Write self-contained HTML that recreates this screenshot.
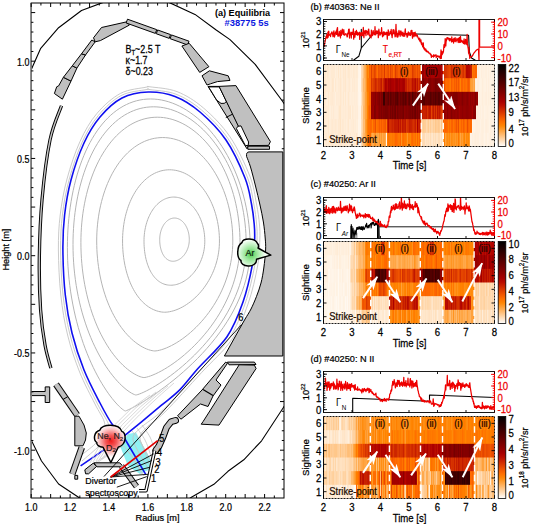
<!DOCTYPE html>
<html><head><meta charset="utf-8"><title>Figure</title>
<style>
html,body{margin:0;padding:0;background:#fff;width:533px;height:524px;overflow:hidden;}
svg{display:block;}
text{font-family:"Liberation Sans",sans-serif;}
</style></head><body>
<svg width="533" height="524" viewBox="0 0 533 524">
<rect width="533" height="524" fill="#fff"/>
<defs>
<clipPath id="cpa"><rect x="31.2" y="3.0" width="252.8" height="495.0"/></clipPath>
<radialGradient id="gne" gradientUnits="userSpaceOnUse" cx="111" cy="441" r="16"><stop offset="0" stop-color="#f01c1c"/><stop offset="0.35" stop-color="#f45a5a"/><stop offset="0.75" stop-color="#fbc8c8"/><stop offset="1" stop-color="#ffffff"/></radialGradient>
<radialGradient id="gar" gradientUnits="userSpaceOnUse" cx="251" cy="254" r="14"><stop offset="0" stop-color="#4ccc4c"/><stop offset="0.45" stop-color="#9ee89e"/><stop offset="1" stop-color="#f6fff6"/></radialGradient>
<linearGradient id="cbar" x1="0" y1="1" x2="0" y2="0">
<stop offset="0" stop-color="#ffffff"/>
<stop offset="0.05" stop-color="#ffe7cd"/>
<stop offset="0.1" stop-color="#ffcf9b"/>
<stop offset="0.15" stop-color="#ffb769"/>
<stop offset="0.2" stop-color="#ff9f37"/>
<stop offset="0.25" stop-color="#ff8705"/>
<stop offset="0.3" stop-color="#ff6f00"/>
<stop offset="0.35" stop-color="#f25700"/>
<stop offset="0.4" stop-color="#df3f00"/>
<stop offset="0.45" stop-color="#cd2700"/>
<stop offset="0.5" stop-color="#ba0e00"/>
<stop offset="0.55" stop-color="#a80000"/>
<stop offset="0.6" stop-color="#950000"/>
<stop offset="0.65" stop-color="#820000"/>
<stop offset="0.7" stop-color="#700000"/>
<stop offset="0.75" stop-color="#5d0000"/>
<stop offset="0.8" stop-color="#4a0000"/>
<stop offset="0.85" stop-color="#380000"/>
<stop offset="0.9" stop-color="#250000"/>
<stop offset="0.95" stop-color="#130000"/>
<stop offset="1" stop-color="#000000"/>
</linearGradient>
<marker id="ah" viewBox="0 0 13 8" refX="12.5" refY="4" markerWidth="14" markerHeight="8.8" markerUnits="userSpaceOnUse" orient="auto"><path d="M0,0L13,4L0,8L3.5,4Z" fill="#fff"/></marker>
</defs>
<g clip-path="url(#cpa)">
<polygon points="120,446 128,434 136,432.5 152,462 150.5,469 140,474 128,466" fill="#8ff0f2"/>
<path d="M189.3,239.65 L189.29,238.8 L189.25,237.95 L189.2,237.11 L189.12,236.27 L189.02,235.43 L188.89,234.61 L188.74,233.78 L188.58,232.97 L188.39,232.17 L188.17,231.38 L187.94,230.6 L187.69,229.84 L187.41,229.09 L187.12,228.36 L186.81,227.65 L186.47,226.95 L186.12,226.27 L185.75,225.62 L185.37,224.98 L184.97,224.37 L184.55,223.78 L184.11,223.22 L183.66,222.68 L183.2,222.17 L182.72,221.68 L182.23,221.23 L181.73,220.8 L181.22,220.4 L180.7,220.03 L180.16,219.69 L179.62,219.38 L179.07,219.1 L178.52,218.85 L177.95,218.64 L177.39,218.46 L176.82,218.31 L176.24,218.19 L175.66,218.11 L175.08,218.06 L174.5,218.04 L173.92,218.06 L173.34,218.11 L172.76,218.19 L172.18,218.31 L171.61,218.46 L171.05,218.64 L170.48,218.85 L169.93,219.1 L169.38,219.38 L168.84,219.69 L168.3,220.03 L167.78,220.4 L167.27,220.8 L166.77,221.23 L166.28,221.68 L165.8,222.17 L165.34,222.68 L164.89,223.22 L164.45,223.78 L164.03,224.37 L163.63,224.98 L163.25,225.62 L162.88,226.27 L162.53,226.95 L162.19,227.65 L161.88,228.36 L161.59,229.09 L161.31,229.84 L161.06,230.6 L160.83,231.38 L160.61,232.17 L160.42,232.97 L160.26,233.78 L160.11,234.61 L159.98,235.43 L159.88,236.27 L159.8,237.11 L159.75,237.95 L159.71,238.8 L159.7,239.65 L159.71,240.5 L159.74,241.35 L159.78,242.19 L159.85,243.03 L159.93,243.87 L160.03,244.69 L160.15,245.52 L160.28,246.33 L160.44,247.13 L160.61,247.92 L160.8,248.7 L161.01,249.46 L161.23,250.21 L161.48,250.94 L161.74,251.65 L162.02,252.35 L162.31,253.03 L162.62,253.68 L162.95,254.32 L163.29,254.93 L163.66,255.52 L164.03,256.08 L164.42,256.62 L164.83,257.13 L165.25,257.62 L165.69,258.07 L166.14,258.5 L166.61,258.9 L167.08,259.27 L167.57,259.61 L168.07,259.92 L168.59,260.2 L169.11,260.45 L169.65,260.66 L170.19,260.84 L170.74,260.99 L171.3,261.11 L171.87,261.19 L172.44,261.24 L173.02,261.26 L173.6,261.24 L174.19,261.19 L174.78,261.11 L175.37,260.99 L175.96,260.84 L176.56,260.66 L177.15,260.45 L177.73,260.2 L178.32,259.92 L178.9,259.61 L179.48,259.27 L180.04,258.9 L180.6,258.5 L181.16,258.07 L181.7,257.62 L182.23,257.13 L182.75,256.62 L183.26,256.08 L183.75,255.52 L184.23,254.93 L184.69,254.32 L185.13,253.68 L185.56,253.03 L185.96,252.35 L186.35,251.65 L186.72,250.94 L187.06,250.21 L187.38,249.46 L187.68,248.7 L187.96,247.92 L188.21,247.13 L188.43,246.33 L188.64,245.52 L188.81,244.69 L188.96,243.87 L189.08,243.03 L189.18,242.19 L189.25,241.35 L189.29,240.5Z" fill="none" stroke="#b4b4b4" stroke-width="1"/>
<path d="M204.8,241.15 L204.78,239.42 L204.7,237.69 L204.58,235.97 L204.41,234.25 L204.19,232.55 L203.93,230.86 L203.61,229.18 L203.25,227.53 L202.85,225.89 L202.4,224.28 L201.9,222.7 L201.36,221.14 L200.78,219.61 L200.15,218.12 L199.49,216.66 L198.78,215.24 L198.04,213.86 L197.26,212.52 L196.44,211.23 L195.59,209.98 L194.71,208.78 L193.79,207.63 L192.85,206.53 L191.87,205.49 L190.87,204.5 L189.84,203.57 L188.79,202.69 L187.72,201.87 L186.63,201.12 L185.51,200.43 L184.39,199.79 L183.24,199.23 L182.09,198.72 L180.92,198.29 L179.75,197.92 L178.56,197.61 L177.37,197.38 L176.18,197.21 L174.99,197.1 L173.79,197.07 L172.6,197.1 L171.41,197.21 L170.23,197.38 L169.05,197.61 L167.88,197.92 L166.73,198.29 L165.59,198.72 L164.46,199.23 L163.34,199.79 L162.25,200.43 L161.17,201.12 L160.12,201.87 L159.08,202.69 L158.07,203.57 L157.09,204.5 L156.13,205.49 L155.2,206.53 L154.31,207.63 L153.44,208.78 L152.6,209.98 L151.8,211.23 L151.03,212.52 L150.29,213.86 L149.6,215.24 L148.94,216.66 L148.31,218.12 L147.73,219.61 L147.19,221.14 L146.69,222.7 L146.23,224.28 L145.81,225.89 L145.43,227.53 L145.1,229.18 L144.81,230.86 L144.56,232.55 L144.36,234.25 L144.2,235.97 L144.09,237.69 L144.02,239.42 L144,241.15 L144.02,242.88 L144.07,244.61 L144.16,246.33 L144.29,248.05 L144.45,249.75 L144.64,251.44 L144.87,253.12 L145.14,254.77 L145.44,256.41 L145.78,258.02 L146.15,259.6 L146.56,261.16 L147.01,262.69 L147.48,264.18 L148,265.64 L148.55,267.06 L149.13,268.44 L149.74,269.78 L150.4,271.07 L151.08,272.32 L151.8,273.52 L152.55,274.67 L153.33,275.77 L154.14,276.81 L154.99,277.8 L155.86,278.73 L156.77,279.61 L157.7,280.43 L158.66,281.18 L159.65,281.87 L160.67,282.51 L161.71,283.07 L162.77,283.58 L163.85,284.01 L164.96,284.38 L166.09,284.69 L167.23,284.92 L168.39,285.09 L169.56,285.2 L170.75,285.23 L171.95,285.2 L173.16,285.09 L174.38,284.92 L175.6,284.69 L176.82,284.38 L178.05,284.01 L179.27,283.58 L180.49,283.07 L181.71,282.51 L182.92,281.87 L184.12,281.18 L185.31,280.43 L186.48,279.61 L187.63,278.73 L188.77,277.8 L189.88,276.81 L190.97,275.77 L192.03,274.67 L193.07,273.52 L194.07,272.32 L195.04,271.07 L195.98,269.78 L196.88,268.44 L197.73,267.06 L198.55,265.64 L199.32,264.18 L200.05,262.69 L200.73,261.16 L201.37,259.6 L201.95,258.02 L202.48,256.41 L202.96,254.77 L203.39,253.12 L203.76,251.44 L204.08,249.75 L204.34,248.05 L204.54,246.33 L204.68,244.61 L204.77,242.88Z" fill="none" stroke="#b4b4b4" stroke-width="1"/>
<path d="M219.45,241 L219.41,238.2 L219.29,235.41 L219.09,232.63 L218.82,229.86 L218.46,227.11 L218.03,224.37 L217.52,221.67 L216.94,218.99 L216.28,216.35 L215.55,213.74 L214.74,211.18 L213.87,208.67 L212.93,206.2 L211.91,203.79 L210.84,201.43 L209.69,199.14 L208.49,196.91 L207.23,194.75 L205.91,192.65 L204.53,190.64 L203.1,188.7 L201.63,186.84 L200.1,185.07 L198.53,183.38 L196.91,181.78 L195.26,180.27 L193.57,178.86 L191.84,177.54 L190.09,176.32 L188.3,175.2 L186.49,174.18 L184.66,173.26 L182.8,172.45 L180.94,171.75 L179.05,171.15 L177.16,170.66 L175.26,170.27 L173.36,170 L171.45,169.83 L169.55,169.78 L167.65,169.83 L165.75,170 L163.87,170.27 L162,170.66 L160.15,171.15 L158.32,171.75 L156.5,172.45 L154.71,173.26 L152.95,174.18 L151.22,175.2 L149.52,176.32 L147.85,177.54 L146.22,178.86 L144.63,180.27 L143.08,181.78 L141.57,183.38 L140.11,185.07 L138.69,186.84 L137.33,188.7 L136.01,190.64 L134.75,192.65 L133.55,194.75 L132.39,196.91 L131.3,199.14 L130.27,201.43 L129.29,203.79 L128.38,206.2 L127.53,208.67 L126.75,211.18 L126.03,213.74 L125.37,216.35 L124.78,218.99 L124.26,221.67 L123.81,224.37 L123.43,227.11 L123.11,229.86 L122.87,232.63 L122.69,235.41 L122.59,238.2 L122.55,241 L122.58,243.8 L122.67,246.59 L122.83,249.37 L123.04,252.14 L123.32,254.89 L123.65,257.63 L124.05,260.33 L124.51,263.01 L125.02,265.65 L125.6,268.26 L126.24,270.82 L126.93,273.33 L127.69,275.8 L128.5,278.21 L129.37,280.57 L130.29,282.86 L131.28,285.09 L132.31,287.25 L133.4,289.35 L134.54,291.36 L135.73,293.3 L136.97,295.16 L138.26,296.93 L139.6,298.62 L140.98,300.22 L142.4,301.73 L143.87,303.14 L145.37,304.46 L146.9,305.68 L148.47,306.8 L150.07,307.82 L151.69,308.74 L153.33,309.55 L154.99,310.25 L156.66,310.85 L158.33,311.34 L160,311.73 L161.65,312 L163.25,312.17 L164.7,312.22 L166.17,312.17 L167.83,312 L169.58,311.73 L171.38,311.34 L173.22,310.85 L175.1,310.25 L177,309.55 L178.91,308.74 L180.84,307.82 L182.78,306.8 L184.71,305.68 L186.63,304.46 L188.54,303.14 L190.44,301.73 L192.31,300.22 L194.15,298.62 L195.97,296.93 L197.74,295.16 L199.47,293.3 L201.16,291.36 L202.8,289.35 L204.38,287.25 L205.9,285.09 L207.35,282.86 L208.74,280.57 L210.06,278.21 L211.3,275.8 L212.47,273.33 L213.55,270.82 L214.55,268.26 L215.47,265.65 L216.29,263.01 L217.02,260.33 L217.66,257.63 L218.2,254.89 L218.65,252.14 L219,249.37 L219.25,246.59 L219.4,243.8Z" fill="none" stroke="#b4b4b4" stroke-width="1"/>
<path d="M232.8,241 L232.74,236.94 L232.58,232.88 L232.3,228.84 L231.91,224.82 L231.41,220.82 L230.81,216.85 L230.09,212.92 L229.27,209.04 L228.35,205.2 L227.32,201.42 L226.19,197.7 L224.96,194.04 L223.64,190.46 L222.21,186.95 L220.7,183.53 L219.1,180.2 L217.41,176.96 L215.63,173.82 L213.78,170.79 L211.85,167.86 L209.84,165.04 L207.76,162.35 L205.62,159.77 L203.41,157.32 L201.15,155 L198.82,152.81 L196.45,150.75 L194.02,148.84 L191.56,147.07 L189.05,145.44 L186.51,143.96 L183.93,142.63 L181.33,141.45 L178.71,140.42 L176.06,139.55 L173.4,138.84 L170.74,138.28 L168.06,137.88 L165.38,137.64 L162.71,137.56 L160.04,137.64 L157.38,137.88 L154.74,138.28 L152.11,138.84 L149.51,139.55 L146.93,140.42 L144.39,141.45 L141.87,142.63 L139.4,143.96 L136.97,145.44 L134.58,147.07 L132.24,148.84 L129.95,150.75 L127.71,152.81 L125.53,155 L123.42,157.32 L121.36,159.77 L119.37,162.35 L117.46,165.04 L115.61,167.86 L113.84,170.79 L112.14,173.82 L110.53,176.96 L108.99,180.2 L107.54,183.53 L106.17,186.95 L104.89,190.46 L103.7,194.04 L102.59,197.7 L101.58,201.42 L100.66,205.2 L99.84,209.04 L99.1,212.92 L98.47,216.85 L97.93,220.82 L97.49,224.82 L97.14,228.84 L96.9,232.88 L96.75,236.94 L96.7,241 L96.75,245.32 L96.9,249.63 L97.15,253.93 L97.5,258.2 L97.95,262.45 L98.5,266.67 L99.15,270.85 L99.89,274.98 L100.73,279.06 L101.66,283.08 L102.68,287.04 L103.79,290.92 L105,294.73 L106.28,298.46 L107.65,302.1 L109.1,305.64 L110.63,309.08 L112.24,312.42 L113.91,315.65 L115.66,318.76 L117.46,321.75 L119.33,324.62 L121.25,327.36 L123.22,329.97 L125.24,332.44 L127.3,334.76 L129.39,336.95 L131.5,338.98 L133.64,340.87 L135.79,342.6 L137.94,344.17 L140.08,345.59 L142.21,346.84 L144.31,347.93 L146.37,348.86 L148.36,349.61 L150.27,350.21 L152.05,350.63 L153.64,350.88 L154.81,350.97 L156.02,350.88 L157.7,350.63 L159.64,350.21 L161.75,349.61 L164.02,348.86 L166.4,347.93 L168.88,346.84 L171.44,345.59 L174.07,344.17 L176.75,342.6 L179.47,340.87 L182.22,338.98 L184.99,336.95 L187.76,334.76 L190.52,332.44 L193.27,329.97 L195.99,327.36 L198.68,324.62 L201.32,321.75 L203.91,318.76 L206.43,315.65 L208.88,312.42 L211.25,309.08 L213.53,305.64 L215.71,302.1 L217.79,298.46 L219.76,294.73 L221.61,290.92 L223.34,287.04 L224.93,283.08 L226.39,279.06 L227.71,274.98 L228.89,270.85 L229.92,266.67 L230.79,262.45 L231.51,258.2 L232.07,253.93 L232.48,249.63 L232.72,245.32Z" fill="none" stroke="#b4b4b4" stroke-width="1"/>
<path d="M240,242.5 L239.93,237.58 L239.74,232.67 L239.4,227.77 L238.94,222.9 L238.35,218.06 L237.63,213.25 L236.78,208.49 L235.8,203.78 L234.7,199.13 L233.48,194.55 L232.14,190.05 L230.67,185.62 L229.1,181.28 L227.41,177.04 L225.61,172.89 L223.71,168.86 L221.7,164.93 L219.6,161.13 L217.4,157.45 L215.11,153.91 L212.73,150.5 L210.27,147.23 L207.74,144.11 L205.13,141.14 L202.45,138.32 L199.7,135.67 L196.9,133.18 L194.04,130.86 L191.13,128.72 L188.18,126.75 L185.18,124.95 L182.15,123.34 L179.1,121.91 L176.01,120.67 L172.91,119.62 L169.79,118.75 L166.66,118.08 L163.53,117.59 L160.4,117.31 L157.27,117.21 L154.15,117.31 L151.05,117.59 L147.96,118.08 L144.9,118.75 L141.87,119.62 L138.87,120.67 L135.91,121.91 L132.99,123.34 L130.12,124.95 L127.29,126.75 L124.52,128.72 L121.81,130.86 L119.16,133.18 L116.57,135.67 L114.05,138.32 L111.61,141.14 L109.24,144.11 L106.95,147.23 L104.74,150.5 L102.61,153.91 L100.57,157.45 L98.62,161.13 L96.76,164.93 L94.99,168.86 L93.32,172.89 L91.75,177.04 L90.28,181.28 L88.91,185.62 L87.65,190.05 L86.49,194.55 L85.44,199.13 L84.49,203.78 L83.65,208.49 L82.92,213.25 L82.31,218.06 L81.8,222.9 L81.41,227.77 L81.13,232.67 L80.96,237.58 L80.9,242.5 L80.96,247.8 L81.14,253.1 L81.43,258.38 L81.84,263.63 L82.37,268.85 L83.02,274.03 L83.78,279.17 L84.65,284.24 L85.63,289.25 L86.72,294.19 L87.91,299.05 L89.21,303.82 L90.61,308.5 L92.11,313.08 L93.7,317.54 L95.37,321.9 L97.14,326.12 L98.98,330.22 L100.9,334.19 L102.9,338.01 L104.95,341.69 L107.07,345.21 L109.24,348.58 L111.45,351.78 L113.7,354.81 L115.99,357.67 L118.29,360.35 L120.61,362.85 L122.93,365.17 L125.25,367.29 L127.54,369.23 L129.81,370.96 L132.03,372.5 L134.19,373.84 L136.26,374.98 L138.23,375.91 L140.06,376.64 L141.71,377.16 L143.09,377.47 L143.98,377.58 L144.92,377.47 L146.46,377.16 L148.36,376.64 L150.54,375.91 L152.96,374.98 L155.58,373.84 L158.36,372.5 L161.3,370.96 L164.37,369.23 L167.54,367.29 L170.81,365.17 L174.14,362.85 L177.54,360.35 L180.97,357.67 L184.43,354.81 L187.89,351.78 L191.35,348.58 L194.79,345.21 L198.19,341.69 L201.54,338.01 L204.82,334.19 L208.03,330.22 L211.14,326.12 L214.15,321.9 L217.04,317.54 L219.8,313.08 L222.43,308.5 L224.9,303.82 L227.21,299.05 L229.36,294.19 L231.33,289.25 L233.11,284.24 L234.7,279.17 L236.09,274.03 L237.27,268.85 L238.25,263.63 L239.01,258.38 L239.56,253.1 L239.89,247.8Z" fill="none" stroke="#b4b4b4" stroke-width="1"/>
<path d="M246.2,244.5 L246.12,239.09 L245.9,233.7 L245.52,228.32 L244.99,222.96 L244.31,217.64 L243.48,212.36 L242.5,207.12 L241.38,201.95 L240.12,196.84 L238.72,191.81 L237.18,186.85 L235.51,181.99 L233.71,177.22 L231.78,172.56 L229.73,168 L227.57,163.57 L225.29,159.25 L222.89,155.07 L220.4,151.03 L217.8,147.14 L215.12,143.39 L212.34,139.8 L209.47,136.37 L206.53,133.1 L203.52,130.01 L200.44,127.1 L197.3,124.36 L194.1,121.81 L190.86,119.45 L187.57,117.29 L184.24,115.32 L180.88,113.55 L177.49,111.98 L174.08,110.61 L170.66,109.45 L167.23,108.5 L163.8,107.76 L160.37,107.23 L156.95,106.91 L153.54,106.81 L150.15,106.91 L146.78,107.23 L143.44,107.76 L140.14,108.5 L136.87,109.45 L133.65,110.61 L130.48,111.98 L127.36,113.55 L124.29,115.32 L121.29,117.29 L118.34,119.45 L115.47,121.81 L112.67,124.36 L109.94,127.1 L107.3,130.01 L104.73,133.1 L102.25,136.37 L99.85,139.8 L97.55,143.39 L95.33,147.14 L93.21,151.03 L91.19,155.07 L89.27,159.25 L87.44,163.57 L85.72,168 L84.11,172.56 L82.59,177.22 L81.19,181.99 L79.89,186.85 L78.7,191.81 L77.63,196.84 L76.66,201.95 L75.8,207.12 L75.06,212.36 L74.43,217.64 L73.92,222.96 L73.52,228.32 L73.23,233.7 L73.06,239.09 L73,244.5 L73.07,250.41 L73.26,256.31 L73.6,262.19 L74.06,268.05 L74.65,273.86 L75.37,279.64 L76.21,285.35 L77.18,291.01 L78.26,296.59 L79.47,302.1 L80.79,307.51 L82.21,312.83 L83.75,318.04 L85.38,323.14 L87.11,328.12 L88.93,332.97 L90.83,337.68 L92.81,342.25 L94.86,346.67 L96.97,350.93 L99.14,355.02 L101.35,358.95 L103.61,362.7 L105.89,366.27 L108.2,369.65 L110.51,372.83 L112.83,375.82 L115.13,378.61 L117.42,381.19 L119.66,383.55 L121.86,385.71 L124,387.64 L126.05,389.36 L128.01,390.85 L129.85,392.12 L131.55,393.16 L133.07,393.97 L134.38,394.55 L135.4,394.89 L135.96,395.01 L136.59,394.89 L137.83,394.55 L139.5,393.97 L141.53,393.16 L143.87,392.12 L146.48,390.85 L149.35,389.36 L152.43,387.64 L155.72,385.71 L159.18,383.55 L162.79,381.19 L166.53,378.61 L170.38,375.82 L174.31,372.83 L178.32,369.65 L182.36,366.27 L186.43,362.7 L190.51,358.95 L194.57,355.02 L198.59,350.93 L202.56,346.67 L206.45,342.25 L210.25,337.68 L213.94,332.97 L217.5,328.12 L220.91,323.14 L224.16,318.04 L227.24,312.83 L230.13,307.51 L232.81,302.1 L235.27,296.59 L237.51,291.01 L239.51,285.35 L241.26,279.64 L242.75,273.86 L243.99,268.05 L244.95,262.19 L245.64,256.31 L246.06,250.41Z" fill="none" stroke="#b4b4b4" stroke-width="1"/>
<path d="M250.2,247.5 L250.12,241.67 L249.87,235.85 L249.45,230.04 L248.87,224.27 L248.13,218.52 L247.23,212.83 L246.16,207.18 L244.94,201.6 L243.57,196.09 L242.04,190.66 L240.36,185.32 L238.54,180.07 L236.58,174.93 L234.49,169.9 L232.26,164.98 L229.9,160.2 L227.43,155.55 L224.83,151.04 L222.13,146.68 L219.32,142.48 L216.41,138.43 L213.4,134.56 L210.31,130.86 L207.14,127.34 L203.89,124.01 L200.58,120.86 L197.2,117.91 L193.76,115.16 L190.28,112.62 L186.76,110.28 L183.19,108.16 L179.6,106.24 L175.99,104.55 L172.36,103.08 L168.72,101.83 L165.07,100.8 L161.43,100 L157.8,99.43 L154.18,99.09 L150.57,98.97 L147,99.09 L143.45,99.43 L139.94,100 L136.48,100.8 L133.06,101.83 L129.69,103.08 L126.37,104.55 L123.12,106.24 L119.92,108.16 L116.8,110.28 L113.75,112.62 L110.77,115.16 L107.88,117.91 L105.06,120.86 L102.33,124.01 L99.69,127.34 L97.14,130.86 L94.68,134.56 L92.32,138.43 L90.06,142.48 L87.89,146.68 L85.83,151.04 L83.87,155.55 L82.01,160.2 L80.26,164.98 L78.62,169.9 L77.09,174.93 L75.67,180.07 L74.35,185.32 L73.15,190.66 L72.06,196.09 L71.09,201.6 L70.23,207.18 L69.48,212.83 L68.84,218.52 L68.32,224.27 L67.92,230.04 L67.63,235.85 L67.46,241.67 L67.4,247.5 L67.47,253.92 L67.67,260.33 L68.01,266.72 L68.48,273.08 L69.08,279.4 L69.81,285.67 L70.67,291.88 L71.65,298.03 L72.75,304.1 L73.97,310.07 L75.29,315.96 L76.72,321.73 L78.26,327.4 L79.88,332.94 L81.6,338.34 L83.39,343.61 L85.26,348.73 L87.2,353.69 L89.19,358.49 L91.23,363.12 L93.31,367.57 L95.43,371.84 L97.56,375.91 L99.71,379.79 L101.86,383.46 L104,386.92 L106.11,390.17 L108.2,393.19 L110.24,395.99 L112.23,398.57 L114.14,400.91 L115.97,403.01 L117.7,404.88 L119.32,406.5 L120.81,407.87 L122.14,409 L123.29,409.88 L124.24,410.51 L124.93,410.89 L125.26,411.01 L125.69,410.89 L126.69,410.51 L128.15,409.88 L130.02,409 L132.26,407.87 L134.85,406.5 L137.75,404.88 L140.95,403.01 L144.41,400.91 L148.11,398.57 L152.03,395.99 L156.14,393.19 L160.42,390.17 L164.83,386.92 L169.36,383.46 L173.98,379.79 L178.66,375.91 L183.38,371.84 L188.11,367.57 L192.82,363.12 L197.5,358.49 L202.11,353.69 L206.62,348.73 L211.03,343.61 L215.3,338.34 L219.4,332.94 L223.33,327.4 L227.05,321.73 L230.55,315.96 L233.81,310.07 L236.81,304.1 L239.54,298.03 L241.99,291.88 L244.13,285.67 L245.97,279.4 L247.48,273.08 L248.67,266.72 L249.52,260.33 L250.03,253.92Z" fill="none" stroke="#b4b4b4" stroke-width="1"/>
<path d="M82,461C85,458.33 95.5,449.83 100,445C104.5,440.17 107.67,435.67 109,432C110.33,428.33 109.92,427.67 108,423C106.08,418.33 101.87,412.67 97.5,404C93.13,395.33 86.42,382.67 81.8,371C77.18,359.33 72.93,346.67 69.8,334C66.67,321.33 64.53,309 63,295C61.47,281 60.7,263.33 60.6,250C60.5,236.67 61,226.67 62.4,215C63.8,203.33 65.73,192.08 69,180C72.27,167.92 77.1,153.27 82,142.5C86.9,131.73 91.9,123.22 98.4,115.4C104.9,107.58 113.07,99.9 121,95.6C128.93,91.3 141.5,90.67 146,89.6C150.5,88.53 147.33,89.2 148,89.2C148.67,89.2 145.33,88.77 150,89.6C154.67,90.43 167.42,90.8 176,94.2C184.58,97.6 192.87,102.65 201.5,110C210.13,117.35 220.17,127.13 227.8,138.3C235.43,149.47 242.97,166.05 247.3,177C251.63,187.95 252.25,196.17 253.8,204C255.35,211.83 256.07,218 256.6,224C257.13,230 257.3,233.17 257,240C256.7,246.83 256.75,254.5 254.8,265C252.85,275.5 249.6,290.73 245.3,303C241,315.27 236.63,327.3 229,338.6C221.37,349.9 210.5,358.93 199.5,370.8C188.5,382.67 172.75,400.35 163,409.8C153.25,419.25 146,422.8 141,427.5C136,432.2 133.33,433.75 133,438C132.67,442.25 136.42,447.83 139,453C141.58,458.17 146.92,466.33 148.5,469" fill="none" stroke="#c4c4c4" stroke-width="0.9"/>
<path d="M80,456C82.5,454 91,448.17 95,444C99,439.83 102.5,434.83 104,431C105.5,427.17 105.5,425.5 104,421C102.5,416.5 99.07,412.17 95,404C90.93,395.83 84.17,383.5 79.6,372C75.03,360.5 70.73,347.83 67.6,335C64.47,322.17 62.33,309.17 60.8,295C59.27,280.83 58.5,263.33 58.4,250C58.3,236.67 58.77,226.83 60.2,215C61.63,203.17 63.7,191.25 67,179C70.3,166.75 75.03,152.4 80,141.5C84.97,130.6 90.05,121.62 96.8,113.6C103.55,105.58 112.3,97.8 120.5,93.4C128.7,89 141.42,88.3 146,87.2C150.58,86.1 147.33,86.87 148,86.8C148.67,86.73 145.17,86 150,86.8C154.83,87.6 168.08,88.07 177,91.6C185.92,95.13 194.67,100.47 203.5,108C212.33,115.53 222.28,125.47 230,136.8C237.72,148.13 245.38,164.8 249.8,176C254.22,187.2 254.9,196 256.5,204C258.1,212 258.85,218 259.4,224C259.95,230 260.1,233 259.8,240C259.5,247 259.57,255.33 257.6,266C255.63,276.67 252.38,291.63 248,304C243.62,316.37 239.05,328.77 231.3,340.2C223.55,351.63 212.55,360.63 201.5,372.6C190.45,384.57 174.25,402.77 165,412C155.75,421.23 150.17,423.67 146,428C141.83,432.33 140,434 140,438C140,442 143.83,447.67 146,452C148.17,456.33 151.83,462 153,464" fill="none" stroke="#c4c4c4" stroke-width="0.9"/>
<path d="M132,431C133.33,432.67 137.67,437 140,441C142.33,445 144.33,450.83 146,455C147.67,459.17 149.33,464.17 150,466" fill="none" stroke="#c4c4c4" stroke-width="0.8"/>
<path d="M137,428C138.33,430 142.83,435.83 145,440C147.17,444.17 148.75,449.33 150,453C151.25,456.67 152.08,460.5 152.5,462" fill="none" stroke="#c4c4c4" stroke-width="0.8"/>
<path d="M142,425C143.33,427 148,433 150,437C152,441 153.17,445.83 154,449C154.83,452.17 154.83,454.83 155,456" fill="none" stroke="#c4c4c4" stroke-width="0.8"/>
<path d="M123.5,446C121.58,447 116.58,449.33 112,452C107.42,454.67 98.67,460.33 96,462" fill="none" stroke="#c8c8c8" stroke-width="0.8"/>
<path d="M124,446C125.5,448 130,453.33 133,458C136,462.67 140.5,471.33 142,474" fill="none" stroke="#c8c8c8" stroke-width="0.8"/>
<path d="M118,449C115.67,450.5 108.67,454.83 104,458C99.33,461.17 92.33,466.33 90,468" fill="none" stroke="#c8c8c8" stroke-width="0.8"/>
<path d="M128,451C129.33,452.83 133.33,457.83 136,462C138.67,466.17 142.67,473.67 144,476" fill="none" stroke="#c8c8c8" stroke-width="0.8"/>
<path d="M123.5,436.5C126.25,434.28 133.67,428.42 140,423.2C146.33,417.98 154.83,410.8 161.5,405.2C168.17,399.6 173.97,395.67 180,389.6C186.03,383.53 189.87,377.62 197.7,368.8C205.53,359.98 219.45,347.83 227,336.7C234.55,325.57 238.77,314 243,302C247.23,290 250.47,275.03 252.4,264.7C254.33,254.37 254.3,246.78 254.6,240C254.9,233.22 254.72,230 254.2,224C253.68,218 253.03,211.67 251.5,204C249.97,196.33 249.25,188.67 245,178C240.75,167.33 233.5,151 226,140C218.5,129 208.5,119.25 200,112C191.5,104.75 183.62,99.83 175,96.5C166.38,93.17 157.13,91.75 148.3,92C139.47,92.25 130.05,93.83 122,98C113.95,102.17 106.33,109.5 100,117C93.67,124.5 88.83,132.5 84,143C79.17,153.5 74.23,168 71,180C67.77,192 65.95,203.33 64.6,215C63.25,226.67 62.78,236.67 62.9,250C63.02,263.33 63.78,281.17 65.3,295C66.82,308.83 68.88,320.5 72,333C75.12,345.5 79.33,358.33 84,370C88.67,381.67 95.33,394 100,403C104.67,412 108.08,418.42 112,424C115.92,429.58 121.58,434.42 123.5,436.5" fill="none" stroke="#1010f0" stroke-width="1.6"/>
<path d="M123.5,436.5 L80.6,465.8" fill="none" stroke="#1010f0" stroke-width="1.6"/>
<path d="M123.5,436.5 L145.7,474.4" fill="none" stroke="#1010f0" stroke-width="1.6"/>
<path d="M90,463 Q110,420 150,395" fill="none" stroke="#cfcfcf" stroke-width="0.8"/>
<path d="M93,462 Q113,422 156,392" fill="none" stroke="#cfcfcf" stroke-width="0.8"/>
<path d="M96,461 Q116,424 162,389" fill="none" stroke="#cfcfcf" stroke-width="0.8"/>
<path d="M99,460 Q119,426 168,386" fill="none" stroke="#cfcfcf" stroke-width="0.8"/>
<path d="M102,459 Q122,428 174,383" fill="none" stroke="#cfcfcf" stroke-width="0.8"/>
</g>
<polygon points="54.4,93.5 56.7,86.8 58.6,85.9 63.4,77.3 71,81.1 62.4,99.2" fill="#c0c0c0" stroke="#000" stroke-width="1.0" stroke-linejoin="round"/>
<polygon points="63.4,77.3 72.3,65.8 76.9,68.1 71,81.1" fill="#c0c0c0" stroke="#000" stroke-width="1.0" stroke-linejoin="round"/>
<polygon points="72.3,65.8 81.5,53.8 85.5,55 76.9,68.1" fill="#c0c0c0" stroke="#000" stroke-width="1.0" stroke-linejoin="round"/>
<polygon points="81.5,53.8 91.8,40 95.2,41.8 85.5,55" fill="#c0c0c0" stroke="#000" stroke-width="1.0" stroke-linejoin="round"/>
<polygon points="93.5,37.8 101.5,27.5 126.8,21.8 129.5,25 100.4,40.6 95.2,41.8" fill="#c0c0c0" stroke="#000" stroke-width="1.0" stroke-linejoin="round"/>
<polygon points="127.5,19.2 156.71,29.65 155.37,33.42 126.15,22.97" fill="#c0c0c0" stroke="#000" stroke-width="1.0" stroke-linejoin="round"/>
<polygon points="157.63,29.98 170.55,34.6 169.2,38.37 156.29,33.75" fill="#c0c0c0" stroke="#000" stroke-width="1.0" stroke-linejoin="round"/>
<polygon points="171.47,34.93 189,41.2 187.65,44.97 170.13,38.7" fill="#c0c0c0" stroke="#000" stroke-width="1.0" stroke-linejoin="round"/>
<polygon points="181.9,46 189.2,43.3 208.9,66.7 199.7,72.4" fill="#c0c0c0" stroke="#000" stroke-width="1.0" stroke-linejoin="round"/>
<polygon points="202,75.8 209.4,70.8 228.2,75.8 230,80.4 217.4,81.6 210.5,83.8 207,85" fill="#c0c0c0" stroke="#000" stroke-width="1.0" stroke-linejoin="round"/>
<polygon points="208,86.4 219.1,86.4 248.5,146 247,148.8" fill="#c0c0c0" stroke="#000" stroke-width="1.0" stroke-linejoin="round"/>
<polygon points="208.6,86.9 219.3,86.9 226.3,101.3 224.6,103.3 221,103.4 216.6,100" fill="#fff" stroke="#000" stroke-width="1.0" stroke-linejoin="round"/>
<line x1="225.8" y1="117.6" x2="234" y2="113.4" stroke="#000" stroke-width="1"/>
<polygon points="219.1,86.4 235.9,85.6 270.4,141.6 268.6,145.4 247.8,145.6" fill="#c0c0c0" stroke="#000" stroke-width="1.0" stroke-linejoin="round"/>
<polygon points="247.8,146.2 269.5,146.2 269.5,149.3 247.8,149.3" fill="#c0c0c0" stroke="#000" stroke-width="1.0" stroke-linejoin="round"/>
<polygon points="236.4,128.6 237.8,126.3 241,125.9 248.6,142 248.2,145.4 245.4,145.6" fill="#fff" stroke="#000" stroke-width="1.0" stroke-linejoin="round"/>
<path d="M249,151.9 L282.8,151.9 L282.8,356 L224.4,356 L242.8,323 L245.7,318C246.58,316.5 249.22,312.55 251,309C252.78,305.45 254.73,301.03 256.4,296.7C258.07,292.37 259.77,287.78 261,283C262.23,278.22 263.03,273.5 263.8,268C264.57,262.5 265.37,255 265.6,250C265.83,245 265.57,242.67 265.2,238C264.83,233.33 264.27,227.5 263.4,222C262.53,216.5 261.32,211 260,205C258.68,199 257.08,192.33 255.5,186C253.92,179.67 251.98,171.92 250.5,167C249.02,162.08 247.25,158.25 246.6,156.5 Q246,152 249,151.9Z" fill="#c0c0c0" stroke="#000" stroke-width="1"/>
<polygon points="227.4,362.1 254.4,362.1 256,364.5 229,364.8" fill="#c0c0c0" stroke="#000" stroke-width="1.0" stroke-linejoin="round"/>
<polygon points="239.2,364.8 254.4,365.1 256.1,368.5 219,425.1 201.2,424.2 203,421.7" fill="#c0c0c0" stroke="#000" stroke-width="1.0" stroke-linejoin="round"/>
<polygon points="225.7,362.1 227.4,363.4 216,380 221,385 213,396 208,406.5 200.5,404 181,419.2 177.6,415.8 202,390" fill="#c0c0c0" stroke="#000" stroke-width="1.0" stroke-linejoin="round"/>
<line x1="203" y1="389.6" x2="213" y2="395.5" stroke="#000" stroke-width="1.2"/>
<path d="M175.6,420.4 L171,421.8 L166.5,427.5 L163,437 L159,446 L155.8,450.5" fill="none" stroke="#000" stroke-width="6.8" stroke-linecap="round" stroke-linejoin="round"/>
<path d="M175.6,420.4 L171,421.8 L166.5,427.5 L163,437 L159,446 L155.8,450.5" fill="none" stroke="#c0c0c0" stroke-width="4.8" stroke-linecap="round" stroke-linejoin="round"/>
<path d="M154.6,450.6 L146,490.6 L139,490.8" fill="none" stroke="#000" stroke-width="3.6" stroke-linecap="butt" stroke-linejoin="round"/>
<path d="M154.6,450.6 L146,490.6 L139,490.8" fill="none" stroke="#fff" stroke-width="1.6" stroke-linecap="butt" stroke-linejoin="round"/>
<path d="M61.5,105.8C59.58,111.5 53.25,124.3 50,140C46.75,155.7 43.78,180 42,200C40.22,220 39.53,241.67 39.3,260C39.07,278.33 39.65,295.83 40.6,310C41.55,324.17 43.28,335.3 45,345C46.72,354.7 49.92,364.33 50.9,368.2" fill="none" stroke="#000" stroke-width="3.3"/>
<path d="M61.5,105.8C59.58,111.5 53.25,124.3 50,140C46.75,155.7 43.78,180 42,200C40.22,220 39.53,241.67 39.3,260C39.07,278.33 39.65,295.83 40.6,310C41.55,324.17 43.28,335.3 45,345C46.72,354.7 49.92,364.33 50.9,368.2" fill="none" stroke="#c8c8c8" stroke-width="1.4"/>
<polygon points="31.2,391.5 45.2,391.5 45.2,386.9 49.7,386.9 49.7,402.5 45.2,402.5 45.2,395.6 31.2,395.6" fill="#c0c0c0" stroke="#000" stroke-width="1.0" stroke-linejoin="round"/>
<path d="M56,384.3 L77.1,415" fill="none" stroke="#000" stroke-width="6.6" stroke-linecap="butt" stroke-linejoin="round"/>
<path d="M56,384.3 L77.1,415" fill="none" stroke="#c0c0c0" stroke-width="4.6" stroke-linecap="butt" stroke-linejoin="round"/>
<line x1="63" y1="399.5" x2="67.8" y2="396.6" stroke="#000" stroke-width="1"/>
<polygon points="74.8,416.2 79,416.2 84,425 86.3,433 85.5,440 83,445.8 74.8,445.8" fill="#c0c0c0" stroke="#000" stroke-width="1.0" stroke-linejoin="round"/>
<path d="M81.8,447.3 L72.3,474" fill="none" stroke="#000" stroke-width="6.6" stroke-linecap="butt" stroke-linejoin="round"/>
<path d="M81.8,447.3 L72.3,474" fill="none" stroke="#c0c0c0" stroke-width="4.6" stroke-linecap="butt" stroke-linejoin="round"/>
<polygon points="74.8,475.4 77.7,475.4 77.7,479.2 74.8,479.2" fill="#c0c0c0" stroke="#000" stroke-width="1.0" stroke-linejoin="round"/>
<polygon points="84.8,469.8 93.2,463.2 96.6,466.4 88.6,473.8 85.6,473.8" fill="#c0c0c0" stroke="#000" stroke-width="1.0" stroke-linejoin="round"/>
<polygon points="93.9,462.8 119.7,462.8 123.5,466.8 96.8,466.8" fill="#c0c0c0" stroke="#000" stroke-width="1.0" stroke-linejoin="round"/>
<path d="M121.5,466 L136.5,486.5" fill="none" stroke="#000" stroke-width="6" stroke-linecap="butt" stroke-linejoin="round"/>
<path d="M121.5,466 L136.5,486.5" fill="none" stroke="#c0c0c0" stroke-width="4" stroke-linecap="butt" stroke-linejoin="round"/>
<g clip-path="url(#cpa)">
<polyline points="20,94 31.2,69.7 40.5,48.7 58.6,27.7 81.5,10.5 101.8,2.9 135,-8 170.1,2.9 195,14.4 216.2,30 230,39.6 255.2,64.4 282.7,101.5 295,120" fill="none" stroke="#000" stroke-width="1.1" stroke-linejoin="round"/>
<polyline points="20,418 31.2,440 41.5,461 58.6,484 80,498.3" fill="none" stroke="#000" stroke-width="1.1" stroke-linejoin="round"/>
<polyline points="295,392 283.6,407.2 261.6,440.8 243.8,459.8 228,471.3 213.9,484.3 191.4,497.3 180,505" fill="none" stroke="#000" stroke-width="1.1" stroke-linejoin="round"/>
<line x1="110.7" y1="477" x2="148.3" y2="474.3" stroke="#000" stroke-width="0.9"/>
<line x1="110.7" y1="477" x2="150.2" y2="467.2" stroke="#000" stroke-width="0.9"/>
<line x1="110.7" y1="477" x2="152" y2="460.5" stroke="#000" stroke-width="0.9"/>
<line x1="110.7" y1="477" x2="153.8" y2="453.8" stroke="#000" stroke-width="0.9"/>
<line x1="104" y1="476.5" x2="241.5" y2="324.6" stroke="#000" stroke-width="0.9"/>
<line x1="116.8" y1="487.2" x2="146.8" y2="476.6" stroke="#000" stroke-width="0.9"/>
<line x1="110.7" y1="477" x2="157.7" y2="440.6" stroke="#e00000" stroke-width="1.6"/>
</g>
<path d="M103.1,447.3 C99,447 96.2,445 96.8,442.5 C93.2,440 93.5,432 99.8,430.2 C101.5,423.5 119.5,423 121.8,431.4 C126,433 127.5,444 118.2,447.3 L110.9,462.5 Z" fill="url(#gne)" stroke="#000" stroke-width="1.5" stroke-linejoin="round"/>
<path d="M258,248 L270.8,255.1 L256.5,259.2 C257,263 253,266.5 248,266 C244,266 240.5,263.5 241,260.5 C236.5,258 236.5,246 242,242.5 C243,238 255,237.5 257.5,243.5 C259,245 258.5,247 258,248Z" fill="url(#gar)" stroke="#000" stroke-width="1.5" stroke-linejoin="round"/>
<rect x="31.2" y="3.0" width="252.8" height="495" fill="none" stroke="#000" stroke-width="1"/>
<line x1="31.2" y1="3.0" x2="31.2" y2="498.0" stroke="#777" stroke-width="1.6"/>
<path d="M31.2,498.0v-4M31.2,3.0v4M40.93,498.0v-2.5M40.93,3.0v2.5M50.65,498.0v-4M50.65,3.0v4M60.37,498.0v-2.5M60.37,3.0v2.5M70.1,498.0v-4M70.1,3.0v4M79.83,498.0v-2.5M79.83,3.0v2.5M89.55,498.0v-4M89.55,3.0v4M99.28,498.0v-2.5M99.28,3.0v2.5M109,498.0v-4M109,3.0v4M118.72,498.0v-2.5M118.72,3.0v2.5M128.45,498.0v-4M128.45,3.0v4M138.18,498.0v-2.5M138.18,3.0v2.5M147.9,498.0v-4M147.9,3.0v4M157.62,498.0v-2.5M157.62,3.0v2.5M167.35,498.0v-4M167.35,3.0v4M177.07,498.0v-2.5M177.07,3.0v2.5M186.8,498.0v-4M186.8,3.0v4M196.53,498.0v-2.5M196.53,3.0v2.5M206.25,498.0v-4M206.25,3.0v4M215.98,498.0v-2.5M215.98,3.0v2.5M225.7,498.0v-4M225.7,3.0v4M235.42,498.0v-2.5M235.42,3.0v2.5M245.15,498.0v-4M245.15,3.0v4M254.88,498.0v-2.5M254.88,3.0v2.5M264.6,498.0v-4M264.6,3.0v4M274.32,498.0v-2.5M274.32,3.0v2.5M31.2,489.1h2.2M284.0,489.1h-2.2M31.2,479.38h2.2M284.0,479.38h-2.2M31.2,469.65h2.2M284.0,469.65h-2.2M31.2,459.92h2.2M284.0,459.92h-2.2M31.2,450.2h4M284.0,450.2h-4M31.2,440.48h2.2M284.0,440.48h-2.2M31.2,430.75h2.2M284.0,430.75h-2.2M31.2,421.03h2.2M284.0,421.03h-2.2M31.2,411.3h2.2M284.0,411.3h-2.2M31.2,401.57h4M284.0,401.57h-4M31.2,391.85h2.2M284.0,391.85h-2.2M31.2,382.12h2.2M284.0,382.12h-2.2M31.2,372.4h2.2M284.0,372.4h-2.2M31.2,362.68h2.2M284.0,362.68h-2.2M31.2,352.95h4M31.2,343.22h2.2M31.2,333.5h2.2M31.2,323.78h2.2M31.2,314.05h2.2M31.2,304.32h4M31.2,294.6h2.2M31.2,284.88h2.2M31.2,275.15h2.2M31.2,265.43h2.2M31.2,255.7h4M31.2,245.97h2.2M31.2,236.25h2.2M31.2,226.52h2.2M31.2,216.8h2.2M31.2,207.07h4M31.2,197.35h2.2M31.2,187.62h2.2M31.2,177.9h2.2M31.2,168.18h2.2M31.2,158.45h4M31.2,148.72h2.2M284.0,148.72h-2.2M31.2,139h2.2M284.0,139h-2.2M31.2,129.27h2.2M284.0,129.27h-2.2M31.2,119.55h2.2M284.0,119.55h-2.2M31.2,109.83h4M284.0,109.83h-4M31.2,100.1h2.2M284.0,100.1h-2.2M31.2,90.37h2.2M284.0,90.37h-2.2M31.2,80.65h2.2M284.0,80.65h-2.2M31.2,70.92h2.2M284.0,70.92h-2.2M31.2,61.2h4M284.0,61.2h-4M31.2,51.47h2.2M284.0,51.47h-2.2M31.2,41.75h2.2M284.0,41.75h-2.2M31.2,32.02h2.2M284.0,32.02h-2.2M31.2,22.3h2.2M284.0,22.3h-2.2M31.2,12.58h4M284.0,12.58h-4" stroke="#000" stroke-width="1" fill="none"/>
<text x="270.2" y="16.2" font-size="9.15" text-anchor="end" fill="#000" font-weight="bold">(a) Equilibria</text>
<text x="268.8" y="25.8" font-size="9.4" text-anchor="end" fill="#0c18e0" font-weight="bold">#38775 5s</text>
<text x="0" y="0" font-size="8.9" text-anchor="start" fill="#000" font-weight="normal" stroke="#000" stroke-width="0.22" transform="translate(125.5,52.7) scale(1,1.14)">B<tspan font-size="6" dy="2">T</tspan><tspan dy="-2">~2.5 T</tspan></text>
<text x="0" y="0" font-size="8.9" text-anchor="start" fill="#000" font-weight="normal" stroke="#000" stroke-width="0.22" transform="translate(125.5,63.6) scale(1,1.14)">κ~1.7</text>
<text x="0" y="0" font-size="8.9" text-anchor="start" fill="#000" font-weight="normal" stroke="#000" stroke-width="0.22" transform="translate(125.5,74.7) scale(1,1.14)">δ~0.23</text>
<text x="110.3" y="439" font-size="8.8" text-anchor="middle" fill="#2a1a1a" font-weight="normal" stroke="#2a1a1a" stroke-width="0.22">Ne, N<tspan font-size="6.2" dy="1.8">2</tspan></text>
<text x="111" y="450.6" font-size="8.8" text-anchor="middle" fill="#2a1a1a" font-weight="normal" stroke="#2a1a1a" stroke-width="0.22">D<tspan font-size="6.2" dy="1.8">2</tspan></text>
<text x="250" y="255.8" font-size="8.8" text-anchor="middle" fill="#102010" font-weight="normal" stroke="#102010" stroke-width="0.22">Ar</text>
<text x="0" y="0" font-size="8.9" text-anchor="start" fill="#000" font-weight="normal" stroke="#000" stroke-width="0.22" transform="translate(85.3,483.8) scale(1,1.1)">Divertor</text>
<text x="0" y="0" font-size="8.9" text-anchor="start" fill="#000" font-weight="normal" stroke="#000" stroke-width="0.22" transform="translate(85.3,495.6) scale(1,1.1)">spectroscopy</text>
<text x="0" y="0" font-size="9.2" text-anchor="middle" fill="#000" font-weight="normal" stroke="#000" stroke-width="0.22" transform="translate(153.5,481.6) scale(1,1.1)">1</text>
<text x="0" y="0" font-size="9.2" text-anchor="middle" fill="#000" font-weight="normal" stroke="#000" stroke-width="0.22" transform="translate(156.8,472.6) scale(1,1.1)">2</text>
<text x="0" y="0" font-size="9.2" text-anchor="middle" fill="#000" font-weight="normal" stroke="#000" stroke-width="0.22" transform="translate(158.1,465.5) scale(1,1.1)">3</text>
<text x="0" y="0" font-size="9.2" text-anchor="middle" fill="#000" font-weight="normal" stroke="#000" stroke-width="0.22" transform="translate(159.6,456.4) scale(1,1.1)">4</text>
<text x="0" y="0" font-size="9.2" text-anchor="middle" fill="#000" font-weight="normal" stroke="#000" stroke-width="0.22" transform="translate(161.9,442.1) scale(1,1.1)">5</text>
<text x="0" y="0" font-size="9.2" text-anchor="middle" fill="#000" font-weight="normal" stroke="#000" stroke-width="0.22" transform="translate(240.9,321.4) scale(1,1.1)">6</text>
<text x="0" y="0" font-size="9.2" text-anchor="end" fill="#000" font-weight="normal" stroke="#000" stroke-width="0.22" transform="translate(29.4,65.5) scale(0.97,1.13)">1.0</text>
<text x="0" y="0" font-size="9.2" text-anchor="end" fill="#000" font-weight="normal" stroke="#000" stroke-width="0.22" transform="translate(29.4,162.75) scale(0.97,1.13)">0.5</text>
<text x="0" y="0" font-size="9.2" text-anchor="end" fill="#000" font-weight="normal" stroke="#000" stroke-width="0.22" transform="translate(29.4,260) scale(0.97,1.13)">0.0</text>
<text x="0" y="0" font-size="9.2" text-anchor="end" fill="#000" font-weight="normal" stroke="#000" stroke-width="0.22" transform="translate(29.4,357.25) scale(0.97,1.13)">-0.5</text>
<text x="0" y="0" font-size="9.2" text-anchor="end" fill="#000" font-weight="normal" stroke="#000" stroke-width="0.22" transform="translate(29.4,454.5) scale(0.97,1.13)">-1.0</text>
<text x="0" y="0" font-size="9.2" text-anchor="middle" fill="#000" font-weight="normal" stroke="#000" stroke-width="0.22" transform="translate(31.2,511) scale(0.97,1.13)">1.0</text>
<text x="0" y="0" font-size="9.2" text-anchor="middle" fill="#000" font-weight="normal" stroke="#000" stroke-width="0.22" transform="translate(70.1,511) scale(0.97,1.13)">1.2</text>
<text x="0" y="0" font-size="9.2" text-anchor="middle" fill="#000" font-weight="normal" stroke="#000" stroke-width="0.22" transform="translate(109,511) scale(0.97,1.13)">1.4</text>
<text x="0" y="0" font-size="9.2" text-anchor="middle" fill="#000" font-weight="normal" stroke="#000" stroke-width="0.22" transform="translate(147.9,511) scale(0.97,1.13)">1.6</text>
<text x="0" y="0" font-size="9.2" text-anchor="middle" fill="#000" font-weight="normal" stroke="#000" stroke-width="0.22" transform="translate(186.8,511) scale(0.97,1.13)">1.8</text>
<text x="0" y="0" font-size="9.2" text-anchor="middle" fill="#000" font-weight="normal" stroke="#000" stroke-width="0.22" transform="translate(225.7,511) scale(0.97,1.13)">2.0</text>
<text x="0" y="0" font-size="9.2" text-anchor="middle" fill="#000" font-weight="normal" stroke="#000" stroke-width="0.22" transform="translate(264.6,511) scale(0.97,1.13)">2.2</text>
<text x="157.5" y="521.3" font-size="9.2" text-anchor="middle" fill="#000" font-weight="normal" stroke="#000" stroke-width="0.22">Radius [m]</text>
<text x="0" y="0" font-size="9.2" text-anchor="middle" fill="#000" font-weight="normal" stroke="#000" stroke-width="0.22" transform="translate(9.4,249.6) rotate(-90)">Height [m]</text>
<text x="0" y="0" font-size="9.2" text-anchor="start" fill="#000" font-weight="normal" stroke="#000" stroke-width="0.22" transform="translate(310.5,9.8) scale(1,1.08)">(b) #40363: Ne II</text>
<g>
<clipPath id="cp1"><rect x="323.5" y="19.5" width="171" height="41"/></clipPath>
<g clip-path="url(#cp1)">
<polyline points="353.5,60.2 358.8,56.3 361.3,48 361.3,29.3 361.3,48 373.8,33 468.6,35.3 469.4,52 471.5,58 475.4,60.2" fill="none" stroke="#000" stroke-width="1.1" stroke-linejoin="round"/>
<polyline points="324,47 324.3,45.5 324.6,44 324.9,42.5 325.2,41 325.5,39.5 325.8,38 326.1,36.39 326.4,37.78 326.7,34.51 327,35.8 327.3,38.21 327.6,36.32 327.9,32.06 328.2,37.15 328.5,31.56 328.8,31.22 329.1,35.32 329.4,34.35 329.7,34.88 330,34.83 330.3,35.17 330.6,36.52 330.9,33.27 331.2,33.77 331.5,33.05 331.8,31.97 332.1,32.29 332.4,34.5 332.7,34.09 333,36.74 333.3,33.76 333.6,32.26 333.9,30.89 334.2,35.73 334.5,37.02 334.8,34.74 335.1,35.27 335.4,32.69 335.7,31.93 336,32.85 336.3,30.9 336.6,34.47 336.9,29.96 337.2,28.66 337.5,27.52 337.8,36.02 338.1,34.51 338.4,34.45 338.7,33.99 339,36.06 339.3,31.43 339.6,34.79 339.9,35.07 340.2,32.67 340.5,37.91 340.8,30.42 341.1,34.12 341.4,35.47 341.7,33.93 342,34.13 342.3,29.17 342.6,31.83 342.9,31.6 343.2,31.81 343.5,34.74 343.8,29.72 344.1,33.14 344.4,34.52 344.7,35.25 345,34.52 345.3,33.97 345.6,33.94 345.9,33.61 346.2,34.29 346.5,34.88 346.8,35.21 347.1,36.86 347.4,36.78 347.7,33.03 348,34.01 348.3,33.55 348.6,29.45 348.9,32.74 349.2,29.03 349.5,38.08 349.8,33.34 350.1,33.05 350.4,34.85 350.7,34.25 351,32.05 351.3,38.01 351.6,33.51 351.9,33.8 352.2,32.39 352.5,34.39 352.8,33.98 353.1,32.03 353.4,28.95 353.7,39.12 354,33.49 354.3,34.09 354.6,35.27 354.9,37.16 355.2,31.52 355.5,34.15 355.8,33.04 356.1,34.59 356.4,30.44 356.7,34.34 357,32.04 357.3,32.18 357.6,35.17 357.9,34.4 358.2,34.83 358.5,34.28 358.8,32.75 359.1,32.79 359.4,32.23 359.7,39.45 360,34.36 360.3,35.91 360.6,32.95 360.9,34.25 361.2,35.41 361.5,32.46 361.8,33.01 362.1,35.51 362.4,32.79 362.7,35.66 363,32.6 363.3,27.44 363.6,33.33 363.9,37.62 364.2,33.93 364.5,33.42 364.8,31.18 365.1,30.37 365.4,32.58 365.7,33.85 366,35.53 366.3,30.53 366.6,32.48 366.9,31.93 367.2,32.2 367.5,31.34 367.8,34.59 368.1,32.47 368.4,29.73 368.7,29.12 369,31.97 369.3,35.46 369.6,35.39 369.9,36.63 370.2,35.2 370.5,35.7 370.8,36.57 371.1,37.9 371.4,30.1 371.7,31.85 372,35.26 372.3,34.99 372.6,35.7 372.9,34.42 373.2,30.64 373.5,33.42 373.8,33.94 374.1,33.03 374.4,33.73 374.7,34.77 375,26.73 375.3,33.65 375.6,34.89 375.9,34.47 376.2,32.31 376.5,30.83 376.8,32.38 377.1,32.94 377.4,31.73 377.7,31.26 378,30.94 378.3,37.61 378.6,35.48 378.9,29.22 379.2,32.19 379.5,32.24 379.8,33.51 380.1,35.11 380.4,34.21 380.7,33.87 381,32.02 381.3,33.53 381.6,27.61 381.9,32.46 382.2,33.33 382.5,36.82 382.8,36.17 383.1,34.82 383.4,31.94 383.7,35.67 384,33.54 384.3,32.34 384.6,32.13 384.9,34.3 385.2,34.33 385.5,34.2 385.8,34.5 386.1,32.92 386.4,32.23 386.7,32.54 387,34.05 387.3,39.23 387.6,32.39 387.9,35.5 388.2,29.97 388.5,31.27 388.8,34.12 389.1,35.38 389.4,33.78 389.7,34.16 390,33.84 390.3,31.5 390.6,32.39 390.9,32.8 391.2,29.48 391.5,34.91 391.8,33.6 392.1,37.56 392.4,34.8 392.7,33.32 393,29.87 393.3,29.71 393.6,33.59 393.9,29.85 394.2,31.46 394.5,33.77 394.8,34.22 395.1,36.86 395.4,36.15 395.7,31.46 396,24.37 396.3,33.66 396.6,31.2 396.9,36.84 397.2,35.08 397.5,33.35 397.8,37.08 398.1,36.12 398.4,33.31 398.7,32.22 399,30.39 399.3,34.73 399.6,34.23 399.9,32.22 400.2,36.25 400.5,32.15 400.8,30.82 401.1,31.33 401.4,33.42 401.7,34.77 402,32.79 402.3,35.99 402.6,33.92 402.9,32.08 403.2,34.18 403.5,34.34 403.8,36.35 404.1,34.73 404.4,33.32 404.7,36.14 405,31.51 405.3,28.83 405.6,33.69 405.9,33.27 406.2,34.75 406.5,33.71 406.8,33.54 407.1,37.15 407.4,36.94 407.7,33.13 408,35.61 408.3,31.95 408.6,32.57 408.9,34.56 409.2,33.92 409.5,35.1 409.8,33 410.1,34.38 410.4,35.52 410.7,34.75 411,30.87 411.3,30.42 411.6,32.6 411.9,30.26 412.2,34.69 412.5,38.21 412.8,35.07 413.1,32.63 413.4,35.09 413.7,33.41 414,36.68 414.3,32.6 414.6,34.39 414.9,35.66 415.2,32.23 415.5,35.91 415.8,33.55 416.1,34.45 416.4,34.75 416.7,34.8 417,36.53 417.3,35.17 417.6,36.95 417.9,36.86 418.2,37.82 418.5,38.82 418.8,39.37 419.1,39.33 419.4,40.39 419.7,38.23 420,41.52 420.3,41.56 420.6,41.91 420.9,39.86 421.2,43.15 421.5,44.28 421.8,42.52 422.1,44.97 422.4,45.44 422.7,46.96 423,45.7 423.3,42.83 423.6,47.57 423.9,48.92 424.2,47.6 424.5,48.49 424.8,50.03 425.1,50.06 425.4,49.85 425.7,48.8 426,51.16 426.3,51.51 426.6,50.28 426.9,50.96 427.2,51.85 427.5,51.44 427.8,51.97 428.1,51.51 428.4,52.72 428.7,52.73 429,53.23 429.3,53.06 429.6,53.07 429.9,53.31 430.2,54.18 430.5,54.77 430.8,54.23 431.1,54.5 431.4,57.45 431.7,55.67 432,56.44 432.3,56.11 432.6,56.3 432.9,55.82 433.2,55.89 433.5,57.14 433.8,54.65 434.1,56.46 434.4,55.46 434.7,55.81 435,55.63 435.3,55.33 435.6,55.44 435.9,54.65 436.2,57.71 436.5,56.21 436.8,56.81 437.1,55.8 437.4,56.2 437.7,56.61 438,55.87 438.3,57.05 438.6,56.37 438.9,56.46 439.2,56.32 439.5,56.23 439.8,57.76 440.1,56.05 440.4,58.54 440.7,56.25 441,49.96 441.3,58.45 441.6,53.77 441.9,51.32 442.2,54.75 442.5,52.93 442.8,53.46 443.1,51.75 443.4,52.02 443.7,48.5 444,44.82 444.3,44.33 444.6,47.44 444.9,44.46 445.2,38.63 445.5,40.65 445.8,45.88 446.1,40.95 446.4,40.83 446.7,38.86 447,37.64 447.3,37.62 447.6,37.76 447.9,39.04 448.2,38.8 448.5,38.12 448.8,38.94 449.1,39.64 449.4,40.87 449.7,38.44 450,39.06 450.3,38.61 450.6,39.76 450.9,40.61 451.2,39.86 451.5,41.86 451.8,36.97 452.1,40.78 452.4,40.77 452.7,41.51 453,39.48 453.3,40 453.6,43.01 453.9,38.41 454.2,39.02 454.5,41.02 454.8,41.22 455.1,37.58 455.4,39.57 455.7,41.05 456,41.82 456.3,40.02 456.6,40.44 456.9,38.47 457.2,39.98 457.5,40.18 457.8,39.22 458.1,42.15 458.4,40.45 458.7,38.11 459,42.55 459.3,41.82 459.6,37.38 459.9,38.4 460.2,42.47 460.5,36.48 460.8,41.41 461.1,41.8 461.4,40.88 461.7,40.39 462,41.31 462.3,42.07 462.6,41.07 462.9,42.5 463.2,41.27 463.5,43.36 463.8,41.29 464.1,38.95 464.4,43.92 464.7,43.21 465,44.13 465.3,43.5 465.6,39.32 465.9,40.28 466.2,43.04 466.5,41.98 466.8,44.56 467.1,34.49 467.4,43.63 467.7,45.01 468,47.47 468.3,48.8 468.6,53.31 468.9,47.34 469.2,54.59 469.5,55.14 469.8,58.48 470.1,56.62 470.4,57.16 470.7,57.04 471,56.91 471.3,56.79 471.6,56.66 471.9,56.54 472.2,56.15 472.5,55.62 472.8,55.1 473.1,54.57 473.4,54.05 473.7,53.52 474,53 474.3,52.64 474.6,52.28 474.9,51.92 475.2,51.56 475.5,51.2 475.8,50.84 476.1,50.48 476.4,50.12 476.7,49.9 477,49.76 477.3,49.62 477.6,49.48 477.9,49.33 478.2,49.19 478.5,49.05 479,60.5 479,19 479.6,19 479.6,47 495,47" fill="none" stroke="#ee0000" stroke-width="1.25" stroke-linejoin="round"/>
</g>
<rect x="323.5" y="19.5" width="171" height="41" fill="none" stroke="#000" stroke-width="0.9"/>
<line x1="494.5" y1="19.5" x2="494.5" y2="60.5" stroke="#ee0000" stroke-width="1"/>
<path d="M323.5,60.5v-2.5M323.5,19.5v2.5M352,60.5v-2.5M352,19.5v2.5M380.5,60.5v-2.5M380.5,19.5v2.5M409,60.5v-2.5M409,19.5v2.5M437.5,60.5v-2.5M437.5,19.5v2.5M466,60.5v-2.5M466,19.5v2.5M494.5,60.5v-2.5M494.5,19.5v2.5M323.5,21.5h3.5M323.5,33.7h3.5M323.5,45.9h3.5M323.5,58h3.5M323.5,21.5h1.8M323.5,23.93h1.8M323.5,26.37h1.8M323.5,28.8h1.8M323.5,31.23h1.8M323.5,33.67h1.8M323.5,36.1h1.8M323.5,38.53h1.8M323.5,40.97h1.8M323.5,43.4h1.8M323.5,45.83h1.8M323.5,48.27h1.8M323.5,50.7h1.8M323.5,53.13h1.8M323.5,55.57h1.8M323.5,58h1.8" stroke="#000" stroke-width="0.9" fill="none"/>
<path d="M494.5,22.2h-3.5M494.5,34h-3.5M494.5,45.8h-3.5M494.5,57.6h-3.5M494.5,22.2h-1.8M494.5,24.56h-1.8M494.5,26.92h-1.8M494.5,29.28h-1.8M494.5,31.64h-1.8M494.5,34h-1.8M494.5,36.36h-1.8M494.5,38.72h-1.8M494.5,41.08h-1.8M494.5,43.44h-1.8M494.5,45.8h-1.8M494.5,48.16h-1.8M494.5,50.52h-1.8M494.5,52.88h-1.8M494.5,55.24h-1.8M494.5,57.6h-1.8" stroke="#ee0000" stroke-width="0.9" fill="none"/>
<text x="0" y="0" font-size="9.6" text-anchor="end" fill="#000" font-weight="normal" stroke="#000" stroke-width="0.22" transform="translate(321.3,25.4) scale(1,1.16)">3</text>
<text x="0" y="0" font-size="9.6" text-anchor="end" fill="#000" font-weight="normal" stroke="#000" stroke-width="0.22" transform="translate(321.3,37.6) scale(1,1.16)">2</text>
<text x="0" y="0" font-size="9.6" text-anchor="end" fill="#000" font-weight="normal" stroke="#000" stroke-width="0.22" transform="translate(321.3,49.8) scale(1,1.16)">1</text>
<text x="0" y="0" font-size="9.6" text-anchor="end" fill="#000" font-weight="normal" stroke="#000" stroke-width="0.22" transform="translate(321.3,61.9) scale(1,1.16)">0</text>
<text x="0" y="0" font-size="9.6" text-anchor="start" fill="#ee0000" font-weight="normal" stroke="#ee0000" stroke-width="0.22" transform="translate(497.5,26.1) scale(1,1.16)">20</text>
<text x="0" y="0" font-size="9.6" text-anchor="start" fill="#ee0000" font-weight="normal" stroke="#ee0000" stroke-width="0.22" transform="translate(497.5,37.9) scale(1,1.16)">10</text>
<text x="0" y="0" font-size="9.6" text-anchor="start" fill="#ee0000" font-weight="normal" stroke="#ee0000" stroke-width="0.22" transform="translate(497.5,49.7) scale(1,1.16)">0</text>
<text x="0" y="0" font-size="9.6" text-anchor="start" fill="#ee0000" font-weight="normal" stroke="#ee0000" stroke-width="0.22" transform="translate(497.5,61.5) scale(1,1.16)">-10</text>
<text x="0" y="0" font-size="9.4" text-anchor="middle" fill="#000" font-weight="normal" stroke="#000" stroke-width="0.22" transform="translate(308.6,40) rotate(-90)">10<tspan font-size='5.6' dy='-4'>21</tspan></text>
<text transform="translate(335.8,52.8) scale(0.9,1)" font-size="10.3" font-family="Liberation Serif">Γ</text><text x="341.5" y="57.1" font-size="6.3" font-family="Liberation Serif">Ne</text>
<text transform="translate(382.8,52.6) scale(0.82,1.05)" font-size="10.4" fill="#ee0000" stroke="#ee0000" stroke-width="0.2">T</text><text x="388.4" y="56.6" font-size="6.3" fill="#ee0000" stroke="#ee0000" stroke-width="0.15">e,RT</text>
</g>
<rect x="323.5" y="64.5" width="0.52" height="14.57" fill="#fff1e1"/>
<rect x="324" y="64.5" width="1.02" height="14.57" fill="#ffe9d0"/>
<rect x="325" y="64.5" width="1.02" height="14.57" fill="#ffe7cb"/>
<rect x="326" y="64.5" width="1.02" height="14.57" fill="#ffedd8"/>
<rect x="327" y="64.5" width="1.02" height="14.57" fill="#ffe8ce"/>
<rect x="328" y="64.5" width="1.02" height="14.57" fill="#ffead3"/>
<rect x="329" y="64.5" width="1.02" height="14.57" fill="#ffeeda"/>
<rect x="330" y="64.5" width="1.02" height="14.57" fill="#ffecd8"/>
<rect x="331" y="64.5" width="3.02" height="14.57" fill="#ffead2"/>
<rect x="334" y="64.5" width="1.02" height="14.57" fill="#ffead3"/>
<rect x="335" y="64.5" width="1.02" height="14.57" fill="#ffefdc"/>
<rect x="336" y="64.5" width="1.02" height="14.57" fill="#ffecd6"/>
<rect x="337" y="64.5" width="1.02" height="14.57" fill="#ffeeda"/>
<rect x="338" y="64.5" width="1.02" height="14.57" fill="#ffe7cc"/>
<rect x="339" y="64.5" width="1.02" height="14.57" fill="#ffeeda"/>
<rect x="340" y="64.5" width="1.02" height="14.57" fill="#ffe8ce"/>
<rect x="341" y="64.5" width="1.02" height="14.57" fill="#ffedd8"/>
<rect x="342" y="64.5" width="1.02" height="14.57" fill="#ffecd8"/>
<rect x="343" y="64.5" width="1.02" height="14.57" fill="#ffe8ce"/>
<rect x="344" y="64.5" width="1.02" height="14.57" fill="#ffead3"/>
<rect x="345" y="64.5" width="1.02" height="14.57" fill="#ffe7cd"/>
<rect x="346" y="64.5" width="1.02" height="14.57" fill="#ffedd9"/>
<rect x="347" y="64.5" width="1.02" height="14.57" fill="#ffebd4"/>
<rect x="348" y="64.5" width="1.02" height="14.57" fill="#ffe8ce"/>
<rect x="349" y="64.5" width="1.02" height="14.57" fill="#ffe9d0"/>
<rect x="350" y="64.5" width="1.02" height="14.57" fill="#ffecd7"/>
<rect x="351" y="64.5" width="1.02" height="14.57" fill="#ffebd5"/>
<rect x="352" y="64.5" width="1.02" height="14.57" fill="#ffedd8"/>
<rect x="353" y="64.5" width="1.02" height="14.57" fill="#ffe9d0"/>
<rect x="354" y="64.5" width="1.02" height="14.57" fill="#ffead3"/>
<rect x="355" y="64.5" width="1.02" height="14.57" fill="#ffecd6"/>
<rect x="356" y="64.5" width="1.02" height="14.57" fill="#ffead2"/>
<rect x="357" y="64.5" width="1.02" height="14.57" fill="#ffebd4"/>
<rect x="358" y="64.5" width="1.02" height="14.57" fill="#fff4e7"/>
<rect x="359" y="64.5" width="1.02" height="14.57" fill="#fff5ea"/>
<rect x="360" y="64.5" width="1.02" height="14.57" fill="#fff7ed"/>
<rect x="361" y="64.5" width="1.02" height="14.57" fill="#ffdbb4"/>
<rect x="362" y="64.5" width="1.02" height="14.57" fill="#ffd5a7"/>
<rect x="363" y="64.5" width="1.02" height="14.57" fill="#ffc27f"/>
<rect x="364" y="64.5" width="1.02" height="14.57" fill="#ffb25f"/>
<rect x="365" y="64.5" width="1.02" height="14.57" fill="#ffa849"/>
<rect x="366" y="64.5" width="1.02" height="14.57" fill="#ff9421"/>
<rect x="367" y="64.5" width="1.02" height="14.57" fill="#ff7d00"/>
<rect x="368" y="64.5" width="1.02" height="14.57" fill="#ff890a"/>
<rect x="369" y="64.5" width="1.02" height="14.57" fill="#fc6400"/>
<rect x="370" y="64.5" width="1.02" height="14.57" fill="#ff6700"/>
<rect x="371" y="64.5" width="1.02" height="14.57" fill="#e04000"/>
<rect x="372" y="64.5" width="1.02" height="14.57" fill="#f75e00"/>
<rect x="373" y="64.5" width="1.02" height="14.57" fill="#f35800"/>
<rect x="374" y="64.5" width="1.02" height="14.57" fill="#e44500"/>
<rect x="375" y="64.5" width="1.02" height="14.57" fill="#eb4d00"/>
<rect x="376" y="64.5" width="1.02" height="14.57" fill="#fb6200"/>
<rect x="377" y="64.5" width="1.02" height="14.57" fill="#ff7100"/>
<rect x="378" y="64.5" width="1.02" height="14.57" fill="#ee5200"/>
<rect x="379" y="64.5" width="1.02" height="14.57" fill="#f35800"/>
<rect x="380" y="64.5" width="1.02" height="14.57" fill="#f45a00"/>
<rect x="381" y="64.5" width="1.02" height="14.57" fill="#ea4d00"/>
<rect x="382" y="64.5" width="1.02" height="14.57" fill="#f25700"/>
<rect x="383" y="64.5" width="1.02" height="14.57" fill="#f65c00"/>
<rect x="384" y="64.5" width="1.02" height="14.57" fill="#da3800"/>
<rect x="385" y="64.5" width="1.02" height="14.57" fill="#fa6100"/>
<rect x="386" y="64.5" width="1.02" height="14.57" fill="#f65c00"/>
<rect x="387" y="64.5" width="1.02" height="14.57" fill="#f05400"/>
<rect x="388" y="64.5" width="1.02" height="14.57" fill="#eb4d00"/>
<rect x="389" y="64.5" width="1.02" height="14.57" fill="#fd6500"/>
<rect x="390" y="64.5" width="1.02" height="14.57" fill="#e54500"/>
<rect x="391" y="64.5" width="1.02" height="14.57" fill="#f25700"/>
<rect x="392" y="64.5" width="1.02" height="14.57" fill="#ef5300"/>
<rect x="393" y="64.5" width="1.02" height="14.57" fill="#ff6b00"/>
<rect x="394" y="64.5" width="1.02" height="14.57" fill="#f85e00"/>
<rect x="395" y="64.5" width="1.02" height="14.57" fill="#de3d00"/>
<rect x="396" y="64.5" width="1.02" height="14.57" fill="#ed5100"/>
<rect x="397" y="64.5" width="1.02" height="14.57" fill="#f05400"/>
<rect x="398" y="64.5" width="1.02" height="14.57" fill="#f85f00"/>
<rect x="399" y="64.5" width="1.02" height="14.57" fill="#f85e00"/>
<rect x="400" y="64.5" width="1.02" height="14.57" fill="#ea4c00"/>
<rect x="401" y="64.5" width="1.02" height="14.57" fill="#ff6d00"/>
<rect x="402" y="64.5" width="1.02" height="14.57" fill="#ea4d00"/>
<rect x="403" y="64.5" width="1.02" height="14.57" fill="#f75e00"/>
<rect x="404" y="64.5" width="2.02" height="14.57" fill="#f35800"/>
<rect x="406" y="64.5" width="1.02" height="14.57" fill="#f85f00"/>
<rect x="407" y="64.5" width="1.02" height="14.57" fill="#f65c00"/>
<rect x="408" y="64.5" width="1.02" height="14.57" fill="#f35800"/>
<rect x="409" y="64.5" width="1.02" height="14.57" fill="#fa6100"/>
<rect x="410" y="64.5" width="1.02" height="14.57" fill="#f75e00"/>
<rect x="411" y="64.5" width="1.02" height="14.57" fill="#f65c00"/>
<rect x="412" y="64.5" width="1.02" height="14.57" fill="#dd3b00"/>
<rect x="413" y="64.5" width="1.02" height="14.57" fill="#e64800"/>
<rect x="414" y="64.5" width="1.02" height="14.57" fill="#ed5000"/>
<rect x="415" y="64.5" width="1.02" height="14.57" fill="#ee5100"/>
<rect x="416" y="64.5" width="1.02" height="14.57" fill="#f75d00"/>
<rect x="417" y="64.5" width="1.02" height="14.57" fill="#ea4c00"/>
<rect x="418" y="64.5" width="1.02" height="14.57" fill="#f65c00"/>
<rect x="419" y="64.5" width="1.02" height="14.57" fill="#ec4f00"/>
<rect x="420" y="64.5" width="1.02" height="14.57" fill="#f96000"/>
<rect x="421" y="64.5" width="1.02" height="14.57" fill="#a20000"/>
<rect x="422" y="64.5" width="1.02" height="14.57" fill="#9e0000"/>
<rect x="423" y="64.5" width="1.02" height="14.57" fill="#930000"/>
<rect x="424" y="64.5" width="1.02" height="14.57" fill="#b00100"/>
<rect x="425" y="64.5" width="1.02" height="14.57" fill="#9f0000"/>
<rect x="426" y="64.5" width="1.02" height="14.57" fill="#a50000"/>
<rect x="427" y="64.5" width="1.02" height="14.57" fill="#b20300"/>
<rect x="428" y="64.5" width="1.02" height="14.57" fill="#a80000"/>
<rect x="429" y="64.5" width="1.02" height="14.57" fill="#a30000"/>
<rect x="430" y="64.5" width="1.02" height="14.57" fill="#9b0000"/>
<rect x="431" y="64.5" width="1.02" height="14.57" fill="#aa0000"/>
<rect x="432" y="64.5" width="1.02" height="14.57" fill="#a90000"/>
<rect x="433" y="64.5" width="1.02" height="14.57" fill="#ac0000"/>
<rect x="434" y="64.5" width="1.02" height="14.57" fill="#a60000"/>
<rect x="435" y="64.5" width="1.02" height="14.57" fill="#a40000"/>
<rect x="436" y="64.5" width="1.02" height="14.57" fill="#ad0000"/>
<rect x="437" y="64.5" width="1.02" height="14.57" fill="#a80000"/>
<rect x="438" y="64.5" width="1.02" height="14.57" fill="#a10000"/>
<rect x="439" y="64.5" width="1.02" height="14.57" fill="#9e0000"/>
<rect x="440" y="64.5" width="1.02" height="14.57" fill="#a10000"/>
<rect x="441" y="64.5" width="1.02" height="14.57" fill="#ad0000"/>
<rect x="442" y="64.5" width="1.02" height="14.57" fill="#af0000"/>
<rect x="443" y="64.5" width="1.02" height="14.57" fill="#e04000"/>
<rect x="444" y="64.5" width="1.02" height="14.57" fill="#d22d00"/>
<rect x="445" y="64.5" width="1.02" height="14.57" fill="#d73400"/>
<rect x="446" y="64.5" width="1.02" height="14.57" fill="#d93700"/>
<rect x="447" y="64.5" width="1.02" height="14.57" fill="#df3f00"/>
<rect x="448" y="64.5" width="1.02" height="14.57" fill="#e34300"/>
<rect x="449" y="64.5" width="1.02" height="14.57" fill="#e84a00"/>
<rect x="450" y="64.5" width="1.02" height="14.57" fill="#e54500"/>
<rect x="451" y="64.5" width="1.02" height="14.57" fill="#d02b00"/>
<rect x="452" y="64.5" width="2.02" height="14.57" fill="#dc3a00"/>
<rect x="454" y="64.5" width="2.02" height="14.57" fill="#d93600"/>
<rect x="456" y="64.5" width="1.02" height="14.57" fill="#d22d00"/>
<rect x="457" y="64.5" width="1.02" height="14.57" fill="#de3d00"/>
<rect x="458" y="64.5" width="1.02" height="14.57" fill="#e14000"/>
<rect x="459" y="64.5" width="1.02" height="14.57" fill="#e94b00"/>
<rect x="460" y="64.5" width="1.02" height="14.57" fill="#e03f00"/>
<rect x="461" y="64.5" width="1.02" height="14.57" fill="#e54600"/>
<rect x="462" y="64.5" width="1.02" height="14.57" fill="#db3900"/>
<rect x="463" y="64.5" width="1.02" height="14.57" fill="#d43000"/>
<rect x="464" y="64.5" width="1.02" height="14.57" fill="#e44400"/>
<rect x="465" y="64.5" width="1.02" height="14.57" fill="#d73400"/>
<rect x="466" y="64.5" width="1.02" height="14.57" fill="#b40600"/>
<rect x="467" y="64.5" width="1.02" height="14.57" fill="#b30600"/>
<rect x="468" y="64.5" width="1.02" height="14.57" fill="#b60900"/>
<rect x="469" y="64.5" width="1.02" height="14.57" fill="#b70b00"/>
<rect x="470" y="64.5" width="1.02" height="14.57" fill="#c21900"/>
<rect x="471" y="64.5" width="1.02" height="14.57" fill="#c72000"/>
<rect x="472" y="64.5" width="1.02" height="14.57" fill="#ff7800"/>
<rect x="473" y="64.5" width="1.02" height="14.57" fill="#ff6c00"/>
<rect x="474" y="64.5" width="1.02" height="14.57" fill="#ff6f00"/>
<rect x="475" y="64.5" width="1.02" height="14.57" fill="#fc6400"/>
<rect x="476" y="64.5" width="1.02" height="14.57" fill="#ff6800"/>
<rect x="477" y="64.5" width="1.02" height="14.57" fill="#fff0df"/>
<rect x="478" y="64.5" width="1.02" height="14.57" fill="#ffeedb"/>
<rect x="479" y="64.5" width="1.02" height="14.57" fill="#fff1e1"/>
<rect x="480" y="64.5" width="1.02" height="14.57" fill="#fff3e4"/>
<rect x="481" y="64.5" width="1.02" height="14.57" fill="#ffeedc"/>
<rect x="482" y="64.5" width="2.02" height="14.57" fill="#fff0e0"/>
<rect x="484" y="64.5" width="1.02" height="14.57" fill="#fff1e2"/>
<rect x="485" y="64.5" width="1.02" height="14.57" fill="#fff0de"/>
<rect x="486" y="64.5" width="1.02" height="14.57" fill="#ffefde"/>
<rect x="487" y="64.5" width="1.02" height="14.57" fill="#fff3e4"/>
<rect x="488" y="64.5" width="1.02" height="14.57" fill="#ffefde"/>
<rect x="489" y="64.5" width="1.02" height="14.57" fill="#fff2e3"/>
<rect x="490" y="64.5" width="1.02" height="14.57" fill="#ffefdd"/>
<rect x="491" y="64.5" width="1.02" height="14.57" fill="#fff3e6"/>
<rect x="492" y="64.5" width="1.02" height="14.57" fill="#fff0df"/>
<rect x="493" y="64.5" width="1.02" height="14.57" fill="#fff0de"/>
<rect x="494" y="64.5" width="0.52" height="14.57" fill="#fff0e0"/>
<rect x="323.5" y="78.17" width="0.52" height="14.57" fill="#fff1e1"/>
<rect x="324" y="78.17" width="1.02" height="14.57" fill="#ffe6cb"/>
<rect x="325" y="78.17" width="1.02" height="14.57" fill="#ffe8cf"/>
<rect x="326" y="78.17" width="1.02" height="14.57" fill="#ffecd6"/>
<rect x="327" y="78.17" width="2.02" height="14.57" fill="#ffebd4"/>
<rect x="329" y="78.17" width="1.02" height="14.57" fill="#ffebd5"/>
<rect x="330" y="78.17" width="1.02" height="14.57" fill="#ffedd8"/>
<rect x="331" y="78.17" width="1.02" height="14.57" fill="#ffebd5"/>
<rect x="332" y="78.17" width="1.02" height="14.57" fill="#ffe7cc"/>
<rect x="333" y="78.17" width="1.02" height="14.57" fill="#ffe8cf"/>
<rect x="334" y="78.17" width="1.02" height="14.57" fill="#fff0de"/>
<rect x="335" y="78.17" width="1.02" height="14.57" fill="#ffe9d0"/>
<rect x="336" y="78.17" width="1.02" height="14.57" fill="#ffedd9"/>
<rect x="337" y="78.17" width="1.02" height="14.57" fill="#ffeeda"/>
<rect x="338" y="78.17" width="1.02" height="14.57" fill="#ffebd4"/>
<rect x="339" y="78.17" width="1.02" height="14.57" fill="#ffebd5"/>
<rect x="340" y="78.17" width="1.02" height="14.57" fill="#ffe7cc"/>
<rect x="341" y="78.17" width="1.02" height="14.57" fill="#ffebd5"/>
<rect x="342" y="78.17" width="1.02" height="14.57" fill="#ffeeda"/>
<rect x="343" y="78.17" width="1.02" height="14.57" fill="#ffe9d1"/>
<rect x="344" y="78.17" width="1.02" height="14.57" fill="#ffead3"/>
<rect x="345" y="78.17" width="1.02" height="14.57" fill="#ffe7cc"/>
<rect x="346" y="78.17" width="1.02" height="14.57" fill="#ffedd8"/>
<rect x="347" y="78.17" width="1.02" height="14.57" fill="#ffedd9"/>
<rect x="348" y="78.17" width="1.02" height="14.57" fill="#ffebd4"/>
<rect x="349" y="78.17" width="1.02" height="14.57" fill="#ffe9d1"/>
<rect x="350" y="78.17" width="1.02" height="14.57" fill="#ffedd9"/>
<rect x="351" y="78.17" width="1.02" height="14.57" fill="#ffefdc"/>
<rect x="352" y="78.17" width="1.02" height="14.57" fill="#ffead3"/>
<rect x="353" y="78.17" width="1.02" height="14.57" fill="#ffecd6"/>
<rect x="354" y="78.17" width="1.02" height="14.57" fill="#ffead3"/>
<rect x="355" y="78.17" width="1.02" height="14.57" fill="#ffedd8"/>
<rect x="356" y="78.17" width="1.02" height="14.57" fill="#ffecd6"/>
<rect x="357" y="78.17" width="1.02" height="14.57" fill="#ffedd8"/>
<rect x="358" y="78.17" width="1.02" height="14.57" fill="#fff6eb"/>
<rect x="359" y="78.17" width="1.02" height="14.57" fill="#fff6ea"/>
<rect x="360" y="78.17" width="1.02" height="14.57" fill="#fff6ec"/>
<rect x="361" y="78.17" width="1.02" height="14.57" fill="#ffdbb4"/>
<rect x="362" y="78.17" width="1.02" height="14.57" fill="#ffcf9a"/>
<rect x="363" y="78.17" width="1.02" height="14.57" fill="#ffb86c"/>
<rect x="364" y="78.17" width="1.02" height="14.57" fill="#ffba6e"/>
<rect x="365" y="78.17" width="1.02" height="14.57" fill="#ffab50"/>
<rect x="366" y="78.17" width="1.02" height="14.57" fill="#ff9624"/>
<rect x="367" y="78.17" width="1.02" height="14.57" fill="#ff7700"/>
<rect x="368" y="78.17" width="1.02" height="14.57" fill="#ff7800"/>
<rect x="369" y="78.17" width="1.02" height="14.57" fill="#ff6d00"/>
<rect x="370" y="78.17" width="1.02" height="14.57" fill="#ff6900"/>
<rect x="371" y="78.17" width="1.02" height="14.57" fill="#d83500"/>
<rect x="372" y="78.17" width="1.02" height="14.57" fill="#e54600"/>
<rect x="373" y="78.17" width="1.02" height="14.57" fill="#dd3c00"/>
<rect x="374" y="78.17" width="1.02" height="14.57" fill="#d83500"/>
<rect x="375" y="78.17" width="1.02" height="14.57" fill="#cb2500"/>
<rect x="376" y="78.17" width="1.02" height="14.57" fill="#d43000"/>
<rect x="377" y="78.17" width="1.02" height="14.57" fill="#e03f00"/>
<rect x="378" y="78.17" width="1.02" height="14.57" fill="#d22d00"/>
<rect x="379" y="78.17" width="1.02" height="14.57" fill="#d43000"/>
<rect x="380" y="78.17" width="1.02" height="14.57" fill="#cb2400"/>
<rect x="381" y="78.17" width="1.02" height="14.57" fill="#c11800"/>
<rect x="382" y="78.17" width="1.02" height="14.57" fill="#dd3c00"/>
<rect x="383" y="78.17" width="1.02" height="14.57" fill="#cc2500"/>
<rect x="384" y="78.17" width="1.02" height="14.57" fill="#bd1200"/>
<rect x="385" y="78.17" width="1.02" height="14.57" fill="#a80000"/>
<rect x="386" y="78.17" width="1.02" height="14.57" fill="#b00100"/>
<rect x="387" y="78.17" width="1.02" height="14.57" fill="#ba0e00"/>
<rect x="388" y="78.17" width="1.02" height="14.57" fill="#a40000"/>
<rect x="389" y="78.17" width="1.02" height="14.57" fill="#ac0000"/>
<rect x="390" y="78.17" width="1.02" height="14.57" fill="#9e0000"/>
<rect x="391" y="78.17" width="1.02" height="14.57" fill="#a90000"/>
<rect x="392" y="78.17" width="1.02" height="14.57" fill="#ac0000"/>
<rect x="393" y="78.17" width="1.02" height="14.57" fill="#ae0000"/>
<rect x="394" y="78.17" width="1.02" height="14.57" fill="#b40600"/>
<rect x="395" y="78.17" width="1.02" height="14.57" fill="#a60000"/>
<rect x="396" y="78.17" width="1.02" height="14.57" fill="#9d0000"/>
<rect x="397" y="78.17" width="1.02" height="14.57" fill="#a00000"/>
<rect x="398" y="78.17" width="1.02" height="14.57" fill="#b10300"/>
<rect x="399" y="78.17" width="1.02" height="14.57" fill="#a20000"/>
<rect x="400" y="78.17" width="1.02" height="14.57" fill="#b00200"/>
<rect x="401" y="78.17" width="1.02" height="14.57" fill="#b10200"/>
<rect x="402" y="78.17" width="1.02" height="14.57" fill="#aa0000"/>
<rect x="403" y="78.17" width="1.02" height="14.57" fill="#a40000"/>
<rect x="404" y="78.17" width="1.02" height="14.57" fill="#ab0000"/>
<rect x="405" y="78.17" width="1.02" height="14.57" fill="#c41c00"/>
<rect x="406" y="78.17" width="1.02" height="14.57" fill="#c41b00"/>
<rect x="407" y="78.17" width="1.02" height="14.57" fill="#d83500"/>
<rect x="408" y="78.17" width="1.02" height="14.57" fill="#cd2600"/>
<rect x="409" y="78.17" width="1.02" height="14.57" fill="#d32f00"/>
<rect x="410" y="78.17" width="1.02" height="14.57" fill="#d63200"/>
<rect x="411" y="78.17" width="1.02" height="14.57" fill="#cf2900"/>
<rect x="412" y="78.17" width="1.02" height="14.57" fill="#bb0f00"/>
<rect x="413" y="78.17" width="1.02" height="14.57" fill="#c31a00"/>
<rect x="414" y="78.17" width="1.02" height="14.57" fill="#c01600"/>
<rect x="415" y="78.17" width="1.02" height="14.57" fill="#b40700"/>
<rect x="416" y="78.17" width="1.02" height="14.57" fill="#cf2a00"/>
<rect x="417" y="78.17" width="1.02" height="14.57" fill="#be1400"/>
<rect x="418" y="78.17" width="1.02" height="14.57" fill="#d83600"/>
<rect x="419" y="78.17" width="1.02" height="14.57" fill="#c82000"/>
<rect x="420" y="78.17" width="1.02" height="14.57" fill="#c11800"/>
<rect x="421" y="78.17" width="1.02" height="14.57" fill="#880000"/>
<rect x="422" y="78.17" width="1.02" height="14.57" fill="#890000"/>
<rect x="423" y="78.17" width="1.02" height="14.57" fill="#780000"/>
<rect x="424" y="78.17" width="1.02" height="14.57" fill="#8e0000"/>
<rect x="425" y="78.17" width="1.02" height="14.57" fill="#8f0000"/>
<rect x="426" y="78.17" width="1.02" height="14.57" fill="#910000"/>
<rect x="427" y="78.17" width="1.02" height="14.57" fill="#9b0000"/>
<rect x="428" y="78.17" width="1.02" height="14.57" fill="#810000"/>
<rect x="429" y="78.17" width="2.02" height="14.57" fill="#830000"/>
<rect x="431" y="78.17" width="1.02" height="14.57" fill="#8c0000"/>
<rect x="432" y="78.17" width="1.02" height="14.57" fill="#8f0000"/>
<rect x="433" y="78.17" width="1.02" height="14.57" fill="#880000"/>
<rect x="434" y="78.17" width="1.02" height="14.57" fill="#850000"/>
<rect x="435" y="78.17" width="1.02" height="14.57" fill="#770000"/>
<rect x="436" y="78.17" width="1.02" height="14.57" fill="#7b0000"/>
<rect x="437" y="78.17" width="1.02" height="14.57" fill="#7f0000"/>
<rect x="438" y="78.17" width="1.02" height="14.57" fill="#800000"/>
<rect x="439" y="78.17" width="1.02" height="14.57" fill="#850000"/>
<rect x="440" y="78.17" width="1.02" height="14.57" fill="#930000"/>
<rect x="441" y="78.17" width="1.02" height="14.57" fill="#7f0000"/>
<rect x="442" y="78.17" width="1.02" height="14.57" fill="#8d0000"/>
<rect x="443" y="78.17" width="1.02" height="14.57" fill="#ff6a00"/>
<rect x="444" y="78.17" width="1.02" height="14.57" fill="#ea4c00"/>
<rect x="445" y="78.17" width="1.02" height="14.57" fill="#fe6600"/>
<rect x="446" y="78.17" width="1.02" height="14.57" fill="#ff6d00"/>
<rect x="447" y="78.17" width="1.02" height="14.57" fill="#ff6a00"/>
<rect x="448" y="78.17" width="1.02" height="14.57" fill="#ff6900"/>
<rect x="449" y="78.17" width="1.02" height="14.57" fill="#ff7200"/>
<rect x="450" y="78.17" width="1.02" height="14.57" fill="#ff7900"/>
<rect x="451" y="78.17" width="1.02" height="14.57" fill="#f85e00"/>
<rect x="452" y="78.17" width="1.02" height="14.57" fill="#ff6800"/>
<rect x="453" y="78.17" width="1.02" height="14.57" fill="#ff6e00"/>
<rect x="454" y="78.17" width="1.02" height="14.57" fill="#f75d00"/>
<rect x="455" y="78.17" width="1.02" height="14.57" fill="#fe6600"/>
<rect x="456" y="78.17" width="1.02" height="14.57" fill="#f25600"/>
<rect x="457" y="78.17" width="1.02" height="14.57" fill="#ff6700"/>
<rect x="458" y="78.17" width="1.02" height="14.57" fill="#f25700"/>
<rect x="459" y="78.17" width="1.02" height="14.57" fill="#ff6800"/>
<rect x="460" y="78.17" width="1.02" height="14.57" fill="#ff8200"/>
<rect x="461" y="78.17" width="1.02" height="14.57" fill="#fc6300"/>
<rect x="462" y="78.17" width="1.02" height="14.57" fill="#fc6400"/>
<rect x="463" y="78.17" width="1.02" height="14.57" fill="#ff7300"/>
<rect x="464" y="78.17" width="1.02" height="14.57" fill="#ff6800"/>
<rect x="465" y="78.17" width="1.02" height="14.57" fill="#ff6d00"/>
<rect x="466" y="78.17" width="1.02" height="14.57" fill="#ff7300"/>
<rect x="467" y="78.17" width="1.02" height="14.57" fill="#fb6200"/>
<rect x="468" y="78.17" width="1.02" height="14.57" fill="#f55b00"/>
<rect x="469" y="78.17" width="1.02" height="14.57" fill="#fc6300"/>
<rect x="470" y="78.17" width="1.02" height="14.57" fill="#ff992a"/>
<rect x="471" y="78.17" width="1.02" height="14.57" fill="#ffa038"/>
<rect x="472" y="78.17" width="1.02" height="14.57" fill="#ff9f36"/>
<rect x="473" y="78.17" width="1.02" height="14.57" fill="#ffac53"/>
<rect x="474" y="78.17" width="1.02" height="14.57" fill="#ffa33f"/>
<rect x="475" y="78.17" width="1.02" height="14.57" fill="#fff0de"/>
<rect x="476" y="78.17" width="1.02" height="14.57" fill="#fff3e5"/>
<rect x="477" y="78.17" width="1.02" height="14.57" fill="#ffefdd"/>
<rect x="478" y="78.17" width="1.02" height="14.57" fill="#ffefdc"/>
<rect x="479" y="78.17" width="1.02" height="14.57" fill="#fff2e4"/>
<rect x="480" y="78.17" width="1.02" height="14.57" fill="#fff3e4"/>
<rect x="481" y="78.17" width="1.02" height="14.57" fill="#fff2e2"/>
<rect x="482" y="78.17" width="1.02" height="14.57" fill="#ffeedb"/>
<rect x="483" y="78.17" width="1.02" height="14.57" fill="#fff1e0"/>
<rect x="484" y="78.17" width="2.02" height="14.57" fill="#fff2e3"/>
<rect x="486" y="78.17" width="1.02" height="14.57" fill="#ffefdd"/>
<rect x="487" y="78.17" width="1.02" height="14.57" fill="#fff2e4"/>
<rect x="488" y="78.17" width="1.02" height="14.57" fill="#ffefdd"/>
<rect x="489" y="78.17" width="2.02" height="14.57" fill="#fff1e2"/>
<rect x="491" y="78.17" width="1.02" height="14.57" fill="#fff2e3"/>
<rect x="492" y="78.17" width="1.02" height="14.57" fill="#fff1e0"/>
<rect x="493" y="78.17" width="1.02" height="14.57" fill="#ffefde"/>
<rect x="494" y="78.17" width="0.52" height="14.57" fill="#fff1e1"/>
<rect x="323.5" y="91.83" width="0.52" height="14.57" fill="#fff1e1"/>
<rect x="324" y="91.83" width="1.02" height="14.57" fill="#ffe6ca"/>
<rect x="325" y="91.83" width="1.02" height="14.57" fill="#ffead2"/>
<rect x="326" y="91.83" width="1.02" height="14.57" fill="#ffeedb"/>
<rect x="327" y="91.83" width="1.02" height="14.57" fill="#ffeeda"/>
<rect x="328" y="91.83" width="1.02" height="14.57" fill="#ffe9d0"/>
<rect x="329" y="91.83" width="1.02" height="14.57" fill="#ffeeda"/>
<rect x="330" y="91.83" width="1.02" height="14.57" fill="#ffebd4"/>
<rect x="331" y="91.83" width="1.02" height="14.57" fill="#ffead3"/>
<rect x="332" y="91.83" width="1.02" height="14.57" fill="#ffe9d1"/>
<rect x="333" y="91.83" width="1.02" height="14.57" fill="#ffebd5"/>
<rect x="334" y="91.83" width="1.02" height="14.57" fill="#ffecd7"/>
<rect x="335" y="91.83" width="1.02" height="14.57" fill="#fff0de"/>
<rect x="336" y="91.83" width="1.02" height="14.57" fill="#ffebd5"/>
<rect x="337" y="91.83" width="1.02" height="14.57" fill="#ffecd7"/>
<rect x="338" y="91.83" width="1.02" height="14.57" fill="#ffebd6"/>
<rect x="339" y="91.83" width="1.02" height="14.57" fill="#ffecd6"/>
<rect x="340" y="91.83" width="1.02" height="14.57" fill="#ffe7cd"/>
<rect x="341" y="91.83" width="1.02" height="14.57" fill="#ffebd4"/>
<rect x="342" y="91.83" width="1.02" height="14.57" fill="#ffedd8"/>
<rect x="343" y="91.83" width="1.02" height="14.57" fill="#ffe8ce"/>
<rect x="344" y="91.83" width="1.02" height="14.57" fill="#ffeeda"/>
<rect x="345" y="91.83" width="1.02" height="14.57" fill="#ffe8ce"/>
<rect x="346" y="91.83" width="1.02" height="14.57" fill="#ffeedb"/>
<rect x="347" y="91.83" width="1.02" height="14.57" fill="#ffecd8"/>
<rect x="348" y="91.83" width="1.02" height="14.57" fill="#ffe8cd"/>
<rect x="349" y="91.83" width="1.02" height="14.57" fill="#ffecd7"/>
<rect x="350" y="91.83" width="1.02" height="14.57" fill="#ffeedb"/>
<rect x="351" y="91.83" width="1.02" height="14.57" fill="#ffedd9"/>
<rect x="352" y="91.83" width="1.02" height="14.57" fill="#ffedd8"/>
<rect x="353" y="91.83" width="1.02" height="14.57" fill="#ffeeda"/>
<rect x="354" y="91.83" width="1.02" height="14.57" fill="#ffecd7"/>
<rect x="355" y="91.83" width="1.02" height="14.57" fill="#ffedd9"/>
<rect x="356" y="91.83" width="1.02" height="14.57" fill="#ffecd7"/>
<rect x="357" y="91.83" width="1.02" height="14.57" fill="#ffeedb"/>
<rect x="358" y="91.83" width="1.02" height="14.57" fill="#fff4e8"/>
<rect x="359" y="91.83" width="2.02" height="14.57" fill="#fff6eb"/>
<rect x="361" y="91.83" width="1.02" height="14.57" fill="#ffe4c6"/>
<rect x="362" y="91.83" width="1.02" height="14.57" fill="#ffcf9a"/>
<rect x="363" y="91.83" width="1.02" height="14.57" fill="#ffc07b"/>
<rect x="364" y="91.83" width="1.02" height="14.57" fill="#ffb86b"/>
<rect x="365" y="91.83" width="1.02" height="14.57" fill="#ffa340"/>
<rect x="366" y="91.83" width="1.02" height="14.57" fill="#ff9c30"/>
<rect x="367" y="91.83" width="1.02" height="14.57" fill="#ff8300"/>
<rect x="368" y="91.83" width="1.02" height="14.57" fill="#ff7c00"/>
<rect x="369" y="91.83" width="1.02" height="14.57" fill="#fe6700"/>
<rect x="370" y="91.83" width="1.02" height="14.57" fill="#fd6500"/>
<rect x="371" y="91.83" width="1.02" height="14.57" fill="#970000"/>
<rect x="372" y="91.83" width="1.02" height="14.57" fill="#9c0000"/>
<rect x="373" y="91.83" width="1.02" height="14.57" fill="#920000"/>
<rect x="374" y="91.83" width="1.02" height="14.57" fill="#910000"/>
<rect x="375" y="91.83" width="1.02" height="14.57" fill="#830000"/>
<rect x="376" y="91.83" width="1.02" height="14.57" fill="#960000"/>
<rect x="377" y="91.83" width="1.02" height="14.57" fill="#8b0000"/>
<rect x="378" y="91.83" width="1.02" height="14.57" fill="#850000"/>
<rect x="379" y="91.83" width="1.02" height="14.57" fill="#7e0000"/>
<rect x="380" y="91.83" width="1.02" height="14.57" fill="#8e0000"/>
<rect x="381" y="91.83" width="1.02" height="14.57" fill="#7b0000"/>
<rect x="382" y="91.83" width="1.02" height="14.57" fill="#820000"/>
<rect x="383" y="91.83" width="2.02" height="14.57" fill="#3c0000"/>
<rect x="385" y="91.83" width="1.02" height="14.57" fill="#750000"/>
<rect x="386" y="91.83" width="1.02" height="14.57" fill="#710000"/>
<rect x="387" y="91.83" width="1.02" height="14.57" fill="#690000"/>
<rect x="388" y="91.83" width="1.02" height="14.57" fill="#5e0000"/>
<rect x="389" y="91.83" width="1.02" height="14.57" fill="#790000"/>
<rect x="390" y="91.83" width="1.02" height="14.57" fill="#5c0000"/>
<rect x="391" y="91.83" width="1.02" height="14.57" fill="#690000"/>
<rect x="392" y="91.83" width="1.02" height="14.57" fill="#710000"/>
<rect x="393" y="91.83" width="1.02" height="14.57" fill="#6b0000"/>
<rect x="394" y="91.83" width="1.02" height="14.57" fill="#750000"/>
<rect x="395" y="91.83" width="1.02" height="14.57" fill="#5e0000"/>
<rect x="396" y="91.83" width="1.02" height="14.57" fill="#600000"/>
<rect x="397" y="91.83" width="1.02" height="14.57" fill="#550000"/>
<rect x="398" y="91.83" width="1.02" height="14.57" fill="#6d0000"/>
<rect x="399" y="91.83" width="1.02" height="14.57" fill="#7a0000"/>
<rect x="400" y="91.83" width="1.02" height="14.57" fill="#670000"/>
<rect x="401" y="91.83" width="1.02" height="14.57" fill="#720000"/>
<rect x="402" y="91.83" width="1.02" height="14.57" fill="#670000"/>
<rect x="403" y="91.83" width="1.02" height="14.57" fill="#5d0000"/>
<rect x="404" y="91.83" width="1.02" height="14.57" fill="#6b0000"/>
<rect x="405" y="91.83" width="1.02" height="14.57" fill="#590000"/>
<rect x="406" y="91.83" width="1.02" height="14.57" fill="#680000"/>
<rect x="407" y="91.83" width="1.02" height="14.57" fill="#7f0000"/>
<rect x="408" y="91.83" width="1.02" height="14.57" fill="#660000"/>
<rect x="409" y="91.83" width="1.02" height="14.57" fill="#5b0000"/>
<rect x="410" y="91.83" width="1.02" height="14.57" fill="#700000"/>
<rect x="411" y="91.83" width="1.02" height="14.57" fill="#780000"/>
<rect x="412" y="91.83" width="1.02" height="14.57" fill="#4f0000"/>
<rect x="413" y="91.83" width="1.02" height="14.57" fill="#640000"/>
<rect x="414" y="91.83" width="1.02" height="14.57" fill="#6d0000"/>
<rect x="415" y="91.83" width="1.02" height="14.57" fill="#6a0000"/>
<rect x="416" y="91.83" width="1.02" height="14.57" fill="#810000"/>
<rect x="417" y="91.83" width="1.02" height="14.57" fill="#5a0000"/>
<rect x="418" y="91.83" width="1.02" height="14.57" fill="#6f0000"/>
<rect x="419" y="91.83" width="1.02" height="14.57" fill="#6a0000"/>
<rect x="420" y="91.83" width="1.02" height="14.57" fill="#740000"/>
<rect x="421" y="91.83" width="1.02" height="14.57" fill="#6a0000"/>
<rect x="422" y="91.83" width="1.02" height="14.57" fill="#5c0000"/>
<rect x="423" y="91.83" width="1.02" height="14.57" fill="#560000"/>
<rect x="424" y="91.83" width="1.02" height="14.57" fill="#530000"/>
<rect x="425" y="91.83" width="1.02" height="14.57" fill="#6a0000"/>
<rect x="426" y="91.83" width="1.02" height="14.57" fill="#670000"/>
<rect x="427" y="91.83" width="1.02" height="14.57" fill="#6b0000"/>
<rect x="428" y="91.83" width="2.02" height="14.57" fill="#650000"/>
<rect x="430" y="91.83" width="1.02" height="14.57" fill="#550000"/>
<rect x="431" y="91.83" width="1.02" height="14.57" fill="#610000"/>
<rect x="432" y="91.83" width="1.02" height="14.57" fill="#6a0000"/>
<rect x="433" y="91.83" width="1.02" height="14.57" fill="#5d0000"/>
<rect x="434" y="91.83" width="1.02" height="14.57" fill="#650000"/>
<rect x="435" y="91.83" width="1.02" height="14.57" fill="#520000"/>
<rect x="436" y="91.83" width="1.02" height="14.57" fill="#610000"/>
<rect x="437" y="91.83" width="1.02" height="14.57" fill="#630000"/>
<rect x="438" y="91.83" width="1.02" height="14.57" fill="#540000"/>
<rect x="439" y="91.83" width="1.02" height="14.57" fill="#560000"/>
<rect x="440" y="91.83" width="1.02" height="14.57" fill="#6c0000"/>
<rect x="441" y="91.83" width="1.02" height="14.57" fill="#5d0000"/>
<rect x="442" y="91.83" width="1.02" height="14.57" fill="#6b0000"/>
<rect x="443" y="91.83" width="1.02" height="14.57" fill="#8b0000"/>
<rect x="444" y="91.83" width="1.02" height="14.57" fill="#8d0000"/>
<rect x="445" y="91.83" width="1.02" height="14.57" fill="#980000"/>
<rect x="446" y="91.83" width="1.02" height="14.57" fill="#900000"/>
<rect x="447" y="91.83" width="1.02" height="14.57" fill="#8a0000"/>
<rect x="448" y="91.83" width="1.02" height="14.57" fill="#910000"/>
<rect x="449" y="91.83" width="1.02" height="14.57" fill="#9b0000"/>
<rect x="450" y="91.83" width="2.02" height="14.57" fill="#880000"/>
<rect x="452" y="91.83" width="1.02" height="14.57" fill="#8f0000"/>
<rect x="453" y="91.83" width="1.02" height="14.57" fill="#830000"/>
<rect x="454" y="91.83" width="1.02" height="14.57" fill="#820000"/>
<rect x="455" y="91.83" width="1.02" height="14.57" fill="#810000"/>
<rect x="456" y="91.83" width="1.02" height="14.57" fill="#800000"/>
<rect x="457" y="91.83" width="1.02" height="14.57" fill="#860000"/>
<rect x="458" y="91.83" width="1.02" height="14.57" fill="#900000"/>
<rect x="459" y="91.83" width="1.02" height="14.57" fill="#8f0000"/>
<rect x="460" y="91.83" width="1.02" height="14.57" fill="#920000"/>
<rect x="461" y="91.83" width="1.02" height="14.57" fill="#8c0000"/>
<rect x="462" y="91.83" width="1.02" height="14.57" fill="#820000"/>
<rect x="463" y="91.83" width="1.02" height="14.57" fill="#8e0000"/>
<rect x="464" y="91.83" width="1.02" height="14.57" fill="#910000"/>
<rect x="465" y="91.83" width="1.02" height="14.57" fill="#940000"/>
<rect x="466" y="91.83" width="1.02" height="14.57" fill="#8d0000"/>
<rect x="467" y="91.83" width="1.02" height="14.57" fill="#880000"/>
<rect x="468" y="91.83" width="1.02" height="14.57" fill="#920000"/>
<rect x="469" y="91.83" width="1.02" height="14.57" fill="#9c0000"/>
<rect x="470" y="91.83" width="1.02" height="14.57" fill="#8b0000"/>
<rect x="471" y="91.83" width="1.02" height="14.57" fill="#980000"/>
<rect x="472" y="91.83" width="1.02" height="14.57" fill="#910000"/>
<rect x="473" y="91.83" width="1.02" height="14.57" fill="#9b0000"/>
<rect x="474" y="91.83" width="1.02" height="14.57" fill="#910000"/>
<rect x="475" y="91.83" width="1.02" height="14.57" fill="#800000"/>
<rect x="476" y="91.83" width="1.02" height="14.57" fill="#940000"/>
<rect x="477" y="91.83" width="1.02" height="14.57" fill="#900000"/>
<rect x="478" y="91.83" width="1.02" height="14.57" fill="#fff2e2"/>
<rect x="479" y="91.83" width="1.02" height="14.57" fill="#fff0df"/>
<rect x="480" y="91.83" width="1.02" height="14.57" fill="#fff2e3"/>
<rect x="481" y="91.83" width="1.02" height="14.57" fill="#fff1e1"/>
<rect x="482" y="91.83" width="1.02" height="14.57" fill="#ffeedb"/>
<rect x="483" y="91.83" width="1.02" height="14.57" fill="#fff1e0"/>
<rect x="484" y="91.83" width="1.02" height="14.57" fill="#fff1e1"/>
<rect x="485" y="91.83" width="1.02" height="14.57" fill="#ffefde"/>
<rect x="486" y="91.83" width="1.02" height="14.57" fill="#ffeedc"/>
<rect x="487" y="91.83" width="1.02" height="14.57" fill="#fff2e2"/>
<rect x="488" y="91.83" width="1.02" height="14.57" fill="#ffefdd"/>
<rect x="489" y="91.83" width="1.02" height="14.57" fill="#fff1e0"/>
<rect x="490" y="91.83" width="1.02" height="14.57" fill="#ffeedb"/>
<rect x="491" y="91.83" width="1.02" height="14.57" fill="#fff2e4"/>
<rect x="492" y="91.83" width="1.02" height="14.57" fill="#fff0df"/>
<rect x="493" y="91.83" width="1.02" height="14.57" fill="#ffefdc"/>
<rect x="494" y="91.83" width="0.52" height="14.57" fill="#fff1e1"/>
<rect x="323.5" y="105.5" width="0.52" height="14.57" fill="#fff1e1"/>
<rect x="324" y="105.5" width="1.02" height="14.57" fill="#ffe8ce"/>
<rect x="325" y="105.5" width="1.02" height="14.57" fill="#ffead2"/>
<rect x="326" y="105.5" width="1.02" height="14.57" fill="#ffead3"/>
<rect x="327" y="105.5" width="1.02" height="14.57" fill="#ffebd5"/>
<rect x="328" y="105.5" width="1.02" height="14.57" fill="#ffead2"/>
<rect x="329" y="105.5" width="1.02" height="14.57" fill="#ffeeda"/>
<rect x="330" y="105.5" width="1.02" height="14.57" fill="#ffefdc"/>
<rect x="331" y="105.5" width="1.02" height="14.57" fill="#ffebd5"/>
<rect x="332" y="105.5" width="1.02" height="14.57" fill="#ffedd9"/>
<rect x="333" y="105.5" width="1.02" height="14.57" fill="#ffead3"/>
<rect x="334" y="105.5" width="1.02" height="14.57" fill="#ffedda"/>
<rect x="335" y="105.5" width="1.02" height="14.57" fill="#ffeeda"/>
<rect x="336" y="105.5" width="2.02" height="14.57" fill="#ffeedb"/>
<rect x="338" y="105.5" width="1.02" height="14.57" fill="#ffebd4"/>
<rect x="339" y="105.5" width="1.02" height="14.57" fill="#ffe7cb"/>
<rect x="340" y="105.5" width="1.02" height="14.57" fill="#ffe6c9"/>
<rect x="341" y="105.5" width="2.02" height="14.57" fill="#ffecd7"/>
<rect x="343" y="105.5" width="1.02" height="14.57" fill="#ffebd4"/>
<rect x="344" y="105.5" width="1.02" height="14.57" fill="#ffecd7"/>
<rect x="345" y="105.5" width="1.02" height="14.57" fill="#ffead3"/>
<rect x="346" y="105.5" width="2.02" height="14.57" fill="#ffecd7"/>
<rect x="348" y="105.5" width="1.02" height="14.57" fill="#ffe8cf"/>
<rect x="349" y="105.5" width="1.02" height="14.57" fill="#ffe9d1"/>
<rect x="350" y="105.5" width="1.02" height="14.57" fill="#ffe8ce"/>
<rect x="351" y="105.5" width="1.02" height="14.57" fill="#fff0de"/>
<rect x="352" y="105.5" width="1.02" height="14.57" fill="#ffead2"/>
<rect x="353" y="105.5" width="1.02" height="14.57" fill="#ffecd7"/>
<rect x="354" y="105.5" width="1.02" height="14.57" fill="#ffeeda"/>
<rect x="355" y="105.5" width="1.02" height="14.57" fill="#ffecd7"/>
<rect x="356" y="105.5" width="1.02" height="14.57" fill="#ffedd9"/>
<rect x="357" y="105.5" width="1.02" height="14.57" fill="#ffecd7"/>
<rect x="358" y="105.5" width="1.02" height="14.57" fill="#fff3e6"/>
<rect x="359" y="105.5" width="1.02" height="14.57" fill="#fff4e7"/>
<rect x="360" y="105.5" width="1.02" height="14.57" fill="#fff5e9"/>
<rect x="361" y="105.5" width="1.02" height="14.57" fill="#ffd9ae"/>
<rect x="362" y="105.5" width="1.02" height="14.57" fill="#ffd8ad"/>
<rect x="363" y="105.5" width="1.02" height="14.57" fill="#ffb96c"/>
<rect x="364" y="105.5" width="1.02" height="14.57" fill="#ffb565"/>
<rect x="365" y="105.5" width="1.02" height="14.57" fill="#ffa442"/>
<rect x="366" y="105.5" width="1.02" height="14.57" fill="#ff9e35"/>
<rect x="367" y="105.5" width="1.02" height="14.57" fill="#ff8300"/>
<rect x="368" y="105.5" width="1.02" height="14.57" fill="#ff6d00"/>
<rect x="369" y="105.5" width="1.02" height="14.57" fill="#f85f00"/>
<rect x="370" y="105.5" width="1.02" height="14.57" fill="#fe6600"/>
<rect x="371" y="105.5" width="1.02" height="14.57" fill="#940000"/>
<rect x="372" y="105.5" width="1.02" height="14.57" fill="#9a0000"/>
<rect x="373" y="105.5" width="1.02" height="14.57" fill="#9d0000"/>
<rect x="374" y="105.5" width="1.02" height="14.57" fill="#820000"/>
<rect x="375" y="105.5" width="1.02" height="14.57" fill="#850000"/>
<rect x="376" y="105.5" width="1.02" height="14.57" fill="#960000"/>
<rect x="377" y="105.5" width="1.02" height="14.57" fill="#970000"/>
<rect x="378" y="105.5" width="1.02" height="14.57" fill="#8b0000"/>
<rect x="379" y="105.5" width="1.02" height="14.57" fill="#830000"/>
<rect x="380" y="105.5" width="1.02" height="14.57" fill="#890000"/>
<rect x="381" y="105.5" width="1.02" height="14.57" fill="#7d0000"/>
<rect x="382" y="105.5" width="1.02" height="14.57" fill="#890000"/>
<rect x="383" y="105.5" width="1.02" height="14.57" fill="#7f0000"/>
<rect x="384" y="105.5" width="1.02" height="14.57" fill="#800000"/>
<rect x="385" y="105.5" width="1.02" height="14.57" fill="#7a0000"/>
<rect x="386" y="105.5" width="2.02" height="14.57" fill="#7b0000"/>
<rect x="388" y="105.5" width="1.02" height="14.57" fill="#840000"/>
<rect x="389" y="105.5" width="1.02" height="14.57" fill="#8a0000"/>
<rect x="390" y="105.5" width="1.02" height="14.57" fill="#740000"/>
<rect x="391" y="105.5" width="1.02" height="14.57" fill="#820000"/>
<rect x="392" y="105.5" width="1.02" height="14.57" fill="#720000"/>
<rect x="393" y="105.5" width="1.02" height="14.57" fill="#800000"/>
<rect x="394" y="105.5" width="1.02" height="14.57" fill="#750000"/>
<rect x="395" y="105.5" width="1.02" height="14.57" fill="#6c0000"/>
<rect x="396" y="105.5" width="1.02" height="14.57" fill="#8b0000"/>
<rect x="397" y="105.5" width="1.02" height="14.57" fill="#740000"/>
<rect x="398" y="105.5" width="1.02" height="14.57" fill="#7e0000"/>
<rect x="399" y="105.5" width="1.02" height="14.57" fill="#830000"/>
<rect x="400" y="105.5" width="1.02" height="14.57" fill="#7f0000"/>
<rect x="401" y="105.5" width="1.02" height="14.57" fill="#830000"/>
<rect x="402" y="105.5" width="1.02" height="14.57" fill="#7c0000"/>
<rect x="403" y="105.5" width="1.02" height="14.57" fill="#740000"/>
<rect x="404" y="105.5" width="1.02" height="14.57" fill="#8e0000"/>
<rect x="405" y="105.5" width="1.02" height="14.57" fill="#880000"/>
<rect x="406" y="105.5" width="1.02" height="14.57" fill="#830000"/>
<rect x="407" y="105.5" width="1.02" height="14.57" fill="#890000"/>
<rect x="408" y="105.5" width="1.02" height="14.57" fill="#820000"/>
<rect x="409" y="105.5" width="1.02" height="14.57" fill="#7e0000"/>
<rect x="410" y="105.5" width="1.02" height="14.57" fill="#780000"/>
<rect x="411" y="105.5" width="1.02" height="14.57" fill="#7f0000"/>
<rect x="412" y="105.5" width="1.02" height="14.57" fill="#720000"/>
<rect x="413" y="105.5" width="1.02" height="14.57" fill="#800000"/>
<rect x="414" y="105.5" width="1.02" height="14.57" fill="#730000"/>
<rect x="415" y="105.5" width="1.02" height="14.57" fill="#6a0000"/>
<rect x="416" y="105.5" width="1.02" height="14.57" fill="#840000"/>
<rect x="417" y="105.5" width="1.02" height="14.57" fill="#760000"/>
<rect x="418" y="105.5" width="1.02" height="14.57" fill="#880000"/>
<rect x="419" y="105.5" width="1.02" height="14.57" fill="#7a0000"/>
<rect x="420" y="105.5" width="1.02" height="14.57" fill="#7c0000"/>
<rect x="421" y="105.5" width="1.02" height="14.57" fill="#d83500"/>
<rect x="422" y="105.5" width="1.02" height="14.57" fill="#c51d00"/>
<rect x="423" y="105.5" width="1.02" height="14.57" fill="#c92200"/>
<rect x="424" y="105.5" width="1.02" height="14.57" fill="#c92100"/>
<rect x="425" y="105.5" width="1.02" height="14.57" fill="#c82000"/>
<rect x="426" y="105.5" width="1.02" height="14.57" fill="#c31900"/>
<rect x="427" y="105.5" width="1.02" height="14.57" fill="#d73300"/>
<rect x="428" y="105.5" width="1.02" height="14.57" fill="#c82000"/>
<rect x="429" y="105.5" width="1.02" height="14.57" fill="#bf1500"/>
<rect x="430" y="105.5" width="1.02" height="14.57" fill="#c11700"/>
<rect x="431" y="105.5" width="1.02" height="14.57" fill="#e44400"/>
<rect x="432" y="105.5" width="1.02" height="14.57" fill="#cd2700"/>
<rect x="433" y="105.5" width="1.02" height="14.57" fill="#c21900"/>
<rect x="434" y="105.5" width="1.02" height="14.57" fill="#d93600"/>
<rect x="435" y="105.5" width="1.02" height="14.57" fill="#c21900"/>
<rect x="436" y="105.5" width="1.02" height="14.57" fill="#da3800"/>
<rect x="437" y="105.5" width="1.02" height="14.57" fill="#bf1400"/>
<rect x="438" y="105.5" width="1.02" height="14.57" fill="#cb2400"/>
<rect x="439" y="105.5" width="1.02" height="14.57" fill="#c01600"/>
<rect x="440" y="105.5" width="1.02" height="14.57" fill="#cf2a00"/>
<rect x="441" y="105.5" width="1.02" height="14.57" fill="#dc3a00"/>
<rect x="442" y="105.5" width="1.02" height="14.57" fill="#e14100"/>
<rect x="443" y="105.5" width="2.02" height="14.57" fill="#930000"/>
<rect x="445" y="105.5" width="1.02" height="14.57" fill="#960000"/>
<rect x="446" y="105.5" width="1.02" height="14.57" fill="#9f0000"/>
<rect x="447" y="105.5" width="1.02" height="14.57" fill="#890000"/>
<rect x="448" y="105.5" width="1.02" height="14.57" fill="#990000"/>
<rect x="449" y="105.5" width="1.02" height="14.57" fill="#9c0000"/>
<rect x="450" y="105.5" width="1.02" height="14.57" fill="#950000"/>
<rect x="451" y="105.5" width="1.02" height="14.57" fill="#840000"/>
<rect x="452" y="105.5" width="1.02" height="14.57" fill="#900000"/>
<rect x="453" y="105.5" width="1.02" height="14.57" fill="#940000"/>
<rect x="454" y="105.5" width="1.02" height="14.57" fill="#8f0000"/>
<rect x="455" y="105.5" width="1.02" height="14.57" fill="#940000"/>
<rect x="456" y="105.5" width="1.02" height="14.57" fill="#970000"/>
<rect x="457" y="105.5" width="1.02" height="14.57" fill="#8e0000"/>
<rect x="458" y="105.5" width="1.02" height="14.57" fill="#930000"/>
<rect x="459" y="105.5" width="1.02" height="14.57" fill="#a20000"/>
<rect x="460" y="105.5" width="1.02" height="14.57" fill="#960000"/>
<rect x="461" y="105.5" width="1.02" height="14.57" fill="#950000"/>
<rect x="462" y="105.5" width="1.02" height="14.57" fill="#8d0000"/>
<rect x="463" y="105.5" width="1.02" height="14.57" fill="#940000"/>
<rect x="464" y="105.5" width="1.02" height="14.57" fill="#960000"/>
<rect x="465" y="105.5" width="1.02" height="14.57" fill="#940000"/>
<rect x="466" y="105.5" width="2.02" height="14.57" fill="#8f0000"/>
<rect x="468" y="105.5" width="1.02" height="14.57" fill="#920000"/>
<rect x="469" y="105.5" width="1.02" height="14.57" fill="#970000"/>
<rect x="470" y="105.5" width="1.02" height="14.57" fill="#940000"/>
<rect x="471" y="105.5" width="1.02" height="14.57" fill="#990000"/>
<rect x="472" y="105.5" width="1.02" height="14.57" fill="#a60000"/>
<rect x="473" y="105.5" width="1.02" height="14.57" fill="#8c0000"/>
<rect x="474" y="105.5" width="2.02" height="14.57" fill="#870000"/>
<rect x="476" y="105.5" width="1.02" height="14.57" fill="#ffefde"/>
<rect x="477" y="105.5" width="1.02" height="14.57" fill="#ffefdd"/>
<rect x="478" y="105.5" width="1.02" height="14.57" fill="#fff1e1"/>
<rect x="479" y="105.5" width="1.02" height="14.57" fill="#fff2e3"/>
<rect x="480" y="105.5" width="1.02" height="14.57" fill="#fff0de"/>
<rect x="481" y="105.5" width="1.02" height="14.57" fill="#fff2e4"/>
<rect x="482" y="105.5" width="1.02" height="14.57" fill="#ffefde"/>
<rect x="483" y="105.5" width="1.02" height="14.57" fill="#fff0de"/>
<rect x="484" y="105.5" width="1.02" height="14.57" fill="#fff3e5"/>
<rect x="485" y="105.5" width="1.02" height="14.57" fill="#fff1e2"/>
<rect x="486" y="105.5" width="1.02" height="14.57" fill="#fff1e0"/>
<rect x="487" y="105.5" width="1.02" height="14.57" fill="#fff0df"/>
<rect x="488" y="105.5" width="1.02" height="14.57" fill="#fff1e1"/>
<rect x="489" y="105.5" width="1.02" height="14.57" fill="#fff2e3"/>
<rect x="490" y="105.5" width="1.02" height="14.57" fill="#fff2e2"/>
<rect x="491" y="105.5" width="1.02" height="14.57" fill="#ffefdd"/>
<rect x="492" y="105.5" width="1.02" height="14.57" fill="#fff1e0"/>
<rect x="493" y="105.5" width="1.02" height="14.57" fill="#ffeedb"/>
<rect x="494" y="105.5" width="0.52" height="14.57" fill="#fff0de"/>
<rect x="323.5" y="119.17" width="0.52" height="14.57" fill="#fff1e1"/>
<rect x="324" y="119.17" width="1.02" height="14.57" fill="#ffe7cd"/>
<rect x="325" y="119.17" width="1.02" height="14.57" fill="#ffecd6"/>
<rect x="326" y="119.17" width="1.02" height="14.57" fill="#ffedd8"/>
<rect x="327" y="119.17" width="1.02" height="14.57" fill="#ffecd6"/>
<rect x="328" y="119.17" width="1.02" height="14.57" fill="#ffe8ce"/>
<rect x="329" y="119.17" width="1.02" height="14.57" fill="#ffeeda"/>
<rect x="330" y="119.17" width="1.02" height="14.57" fill="#ffedd8"/>
<rect x="331" y="119.17" width="1.02" height="14.57" fill="#ffead3"/>
<rect x="332" y="119.17" width="1.02" height="14.57" fill="#ffe9d0"/>
<rect x="333" y="119.17" width="2.02" height="14.57" fill="#ffebd5"/>
<rect x="335" y="119.17" width="1.02" height="14.57" fill="#ffe9d1"/>
<rect x="336" y="119.17" width="1.02" height="14.57" fill="#ffebd4"/>
<rect x="337" y="119.17" width="1.02" height="14.57" fill="#ffedd9"/>
<rect x="338" y="119.17" width="1.02" height="14.57" fill="#ffe9d0"/>
<rect x="339" y="119.17" width="1.02" height="14.57" fill="#ffe9d1"/>
<rect x="340" y="119.17" width="1.02" height="14.57" fill="#ffe5c8"/>
<rect x="341" y="119.17" width="1.02" height="14.57" fill="#ffedd8"/>
<rect x="342" y="119.17" width="1.02" height="14.57" fill="#ffe9d1"/>
<rect x="343" y="119.17" width="1.02" height="14.57" fill="#ffead2"/>
<rect x="344" y="119.17" width="1.02" height="14.57" fill="#ffedd8"/>
<rect x="345" y="119.17" width="1.02" height="14.57" fill="#ffebd4"/>
<rect x="346" y="119.17" width="1.02" height="14.57" fill="#ffeedb"/>
<rect x="347" y="119.17" width="1.02" height="14.57" fill="#ffebd5"/>
<rect x="348" y="119.17" width="1.02" height="14.57" fill="#ffe8ce"/>
<rect x="349" y="119.17" width="1.02" height="14.57" fill="#ffeedb"/>
<rect x="350" y="119.17" width="1.02" height="14.57" fill="#ffedda"/>
<rect x="351" y="119.17" width="1.02" height="14.57" fill="#ffecd7"/>
<rect x="352" y="119.17" width="1.02" height="14.57" fill="#ffecd6"/>
<rect x="353" y="119.17" width="1.02" height="14.57" fill="#ffead3"/>
<rect x="354" y="119.17" width="1.02" height="14.57" fill="#ffedd9"/>
<rect x="355" y="119.17" width="1.02" height="14.57" fill="#ffecd6"/>
<rect x="356" y="119.17" width="1.02" height="14.57" fill="#ffefdc"/>
<rect x="357" y="119.17" width="1.02" height="14.57" fill="#ffeeda"/>
<rect x="358" y="119.17" width="1.02" height="14.57" fill="#fff5e9"/>
<rect x="359" y="119.17" width="1.02" height="14.57" fill="#fff4e8"/>
<rect x="360" y="119.17" width="1.02" height="14.57" fill="#fff5ea"/>
<rect x="361" y="119.17" width="1.02" height="14.57" fill="#ffdeb9"/>
<rect x="362" y="119.17" width="1.02" height="14.57" fill="#ffd5a7"/>
<rect x="363" y="119.17" width="1.02" height="14.57" fill="#ffbc73"/>
<rect x="364" y="119.17" width="1.02" height="14.57" fill="#ffbe78"/>
<rect x="365" y="119.17" width="1.02" height="14.57" fill="#ffa039"/>
<rect x="366" y="119.17" width="1.02" height="14.57" fill="#ff9421"/>
<rect x="367" y="119.17" width="1.02" height="14.57" fill="#ff7d00"/>
<rect x="368" y="119.17" width="2.02" height="14.57" fill="#ff6e00"/>
<rect x="370" y="119.17" width="1.02" height="14.57" fill="#fd6500"/>
<rect x="371" y="119.17" width="1.02" height="14.57" fill="#fe6700"/>
<rect x="372" y="119.17" width="1.02" height="14.57" fill="#ff7f00"/>
<rect x="373" y="119.17" width="2.02" height="14.57" fill="#fd6500"/>
<rect x="375" y="119.17" width="1.02" height="14.57" fill="#ec4f00"/>
<rect x="376" y="119.17" width="1.02" height="14.57" fill="#ff7700"/>
<rect x="377" y="119.17" width="1.02" height="14.57" fill="#ff6f00"/>
<rect x="378" y="119.17" width="1.02" height="14.57" fill="#ff6a00"/>
<rect x="379" y="119.17" width="1.02" height="14.57" fill="#f85e00"/>
<rect x="380" y="119.17" width="1.02" height="14.57" fill="#ff6900"/>
<rect x="381" y="119.17" width="1.02" height="14.57" fill="#f65c00"/>
<rect x="382" y="119.17" width="1.02" height="14.57" fill="#ff6800"/>
<rect x="383" y="119.17" width="1.02" height="14.57" fill="#f96000"/>
<rect x="384" y="119.17" width="1.02" height="14.57" fill="#f75d00"/>
<rect x="385" y="119.17" width="1.02" height="14.57" fill="#f35800"/>
<rect x="386" y="119.17" width="1.02" height="14.57" fill="#ff7700"/>
<rect x="387" y="119.17" width="1.02" height="14.57" fill="#ce2800"/>
<rect x="388" y="119.17" width="1.02" height="14.57" fill="#ba0e00"/>
<rect x="389" y="119.17" width="1.02" height="14.57" fill="#d22d00"/>
<rect x="390" y="119.17" width="1.02" height="14.57" fill="#d32e00"/>
<rect x="391" y="119.17" width="1.02" height="14.57" fill="#ce2800"/>
<rect x="392" y="119.17" width="1.02" height="14.57" fill="#c92200"/>
<rect x="393" y="119.17" width="1.02" height="14.57" fill="#cf2900"/>
<rect x="394" y="119.17" width="1.02" height="14.57" fill="#c41b00"/>
<rect x="395" y="119.17" width="1.02" height="14.57" fill="#c31a00"/>
<rect x="396" y="119.17" width="1.02" height="14.57" fill="#c41c00"/>
<rect x="397" y="119.17" width="1.02" height="14.57" fill="#c51c00"/>
<rect x="398" y="119.17" width="1.02" height="14.57" fill="#ba0e00"/>
<rect x="399" y="119.17" width="1.02" height="14.57" fill="#cb2400"/>
<rect x="400" y="119.17" width="1.02" height="14.57" fill="#bf1500"/>
<rect x="401" y="119.17" width="1.02" height="14.57" fill="#d73400"/>
<rect x="402" y="119.17" width="1.02" height="14.57" fill="#c01600"/>
<rect x="403" y="119.17" width="1.02" height="14.57" fill="#c51d00"/>
<rect x="404" y="119.17" width="1.02" height="14.57" fill="#c82100"/>
<rect x="405" y="119.17" width="1.02" height="14.57" fill="#c11700"/>
<rect x="406" y="119.17" width="1.02" height="14.57" fill="#dc3b00"/>
<rect x="407" y="119.17" width="1.02" height="14.57" fill="#d53100"/>
<rect x="408" y="119.17" width="1.02" height="14.57" fill="#d12c00"/>
<rect x="409" y="119.17" width="1.02" height="14.57" fill="#c51c00"/>
<rect x="410" y="119.17" width="1.02" height="14.57" fill="#c72000"/>
<rect x="411" y="119.17" width="1.02" height="14.57" fill="#c92200"/>
<rect x="412" y="119.17" width="1.02" height="14.57" fill="#d02b00"/>
<rect x="413" y="119.17" width="1.02" height="14.57" fill="#d53200"/>
<rect x="414" y="119.17" width="1.02" height="14.57" fill="#cf2900"/>
<rect x="415" y="119.17" width="1.02" height="14.57" fill="#c51d00"/>
<rect x="416" y="119.17" width="1.02" height="14.57" fill="#dd3c00"/>
<rect x="417" y="119.17" width="1.02" height="14.57" fill="#ad0000"/>
<rect x="418" y="119.17" width="1.02" height="14.57" fill="#c92200"/>
<rect x="419" y="119.17" width="1.02" height="14.57" fill="#c31a00"/>
<rect x="420" y="119.17" width="1.02" height="14.57" fill="#d53100"/>
<rect x="421" y="119.17" width="1.02" height="14.57" fill="#ffd5a6"/>
<rect x="422" y="119.17" width="1.02" height="14.57" fill="#ffd2a0"/>
<rect x="423" y="119.17" width="1.02" height="14.57" fill="#ffca8f"/>
<rect x="424" y="119.17" width="1.02" height="14.57" fill="#ffcd96"/>
<rect x="425" y="119.17" width="1.02" height="14.57" fill="#ffce99"/>
<rect x="426" y="119.17" width="1.02" height="14.57" fill="#ffd8ad"/>
<rect x="427" y="119.17" width="1.02" height="14.57" fill="#ffd3a2"/>
<rect x="428" y="119.17" width="1.02" height="14.57" fill="#ffcb91"/>
<rect x="429" y="119.17" width="1.02" height="14.57" fill="#ffd7ac"/>
<rect x="430" y="119.17" width="1.02" height="14.57" fill="#ffcd97"/>
<rect x="431" y="119.17" width="1.02" height="14.57" fill="#ffd6aa"/>
<rect x="432" y="119.17" width="1.02" height="14.57" fill="#ffd6a8"/>
<rect x="433" y="119.17" width="1.02" height="14.57" fill="#ffce99"/>
<rect x="434" y="119.17" width="1.02" height="14.57" fill="#ffd4a4"/>
<rect x="435" y="119.17" width="1.02" height="14.57" fill="#ffc78b"/>
<rect x="436" y="119.17" width="1.02" height="14.57" fill="#ffcd96"/>
<rect x="437" y="119.17" width="1.02" height="14.57" fill="#ffce99"/>
<rect x="438" y="119.17" width="1.02" height="14.57" fill="#ffc98f"/>
<rect x="439" y="119.17" width="1.02" height="14.57" fill="#ffcc95"/>
<rect x="440" y="119.17" width="1.02" height="14.57" fill="#ffdcb5"/>
<rect x="441" y="119.17" width="1.02" height="14.57" fill="#ffc78a"/>
<rect x="442" y="119.17" width="1.02" height="14.57" fill="#ffd5a6"/>
<rect x="443" y="119.17" width="1.02" height="14.57" fill="#fa6100"/>
<rect x="444" y="119.17" width="1.02" height="14.57" fill="#ff6a00"/>
<rect x="445" y="119.17" width="1.02" height="14.57" fill="#fb6200"/>
<rect x="446" y="119.17" width="1.02" height="14.57" fill="#fe6600"/>
<rect x="447" y="119.17" width="1.02" height="14.57" fill="#ff6900"/>
<rect x="448" y="119.17" width="1.02" height="14.57" fill="#ff7c00"/>
<rect x="449" y="119.17" width="1.02" height="14.57" fill="#ff6900"/>
<rect x="450" y="119.17" width="1.02" height="14.57" fill="#ff7600"/>
<rect x="451" y="119.17" width="1.02" height="14.57" fill="#fc6300"/>
<rect x="452" y="119.17" width="1.02" height="14.57" fill="#fb6200"/>
<rect x="453" y="119.17" width="1.02" height="14.57" fill="#ff7400"/>
<rect x="454" y="119.17" width="1.02" height="14.57" fill="#ff6900"/>
<rect x="455" y="119.17" width="1.02" height="14.57" fill="#fd6500"/>
<rect x="456" y="119.17" width="1.02" height="14.57" fill="#f15500"/>
<rect x="457" y="119.17" width="1.02" height="14.57" fill="#ff6800"/>
<rect x="458" y="119.17" width="1.02" height="14.57" fill="#ed5000"/>
<rect x="459" y="119.17" width="1.02" height="14.57" fill="#ff7600"/>
<rect x="460" y="119.17" width="1.02" height="14.57" fill="#ff7400"/>
<rect x="461" y="119.17" width="1.02" height="14.57" fill="#fc6300"/>
<rect x="462" y="119.17" width="1.02" height="14.57" fill="#ff7000"/>
<rect x="463" y="119.17" width="1.02" height="14.57" fill="#f75d00"/>
<rect x="464" y="119.17" width="1.02" height="14.57" fill="#fd6500"/>
<rect x="465" y="119.17" width="1.02" height="14.57" fill="#ff7400"/>
<rect x="466" y="119.17" width="1.02" height="14.57" fill="#ff6a00"/>
<rect x="467" y="119.17" width="1.02" height="14.57" fill="#ec4f00"/>
<rect x="468" y="119.17" width="1.02" height="14.57" fill="#fc6300"/>
<rect x="469" y="119.17" width="1.02" height="14.57" fill="#ff6d00"/>
<rect x="470" y="119.17" width="1.02" height="14.57" fill="#fe6700"/>
<rect x="471" y="119.17" width="1.02" height="14.57" fill="#ff6b00"/>
<rect x="472" y="119.17" width="1.02" height="14.57" fill="#fff5e8"/>
<rect x="473" y="119.17" width="1.02" height="14.57" fill="#fff2e4"/>
<rect x="474" y="119.17" width="1.02" height="14.57" fill="#fff3e4"/>
<rect x="475" y="119.17" width="1.02" height="14.57" fill="#fff0df"/>
<rect x="476" y="119.17" width="2.02" height="14.57" fill="#ffefdd"/>
<rect x="478" y="119.17" width="1.02" height="14.57" fill="#fff0df"/>
<rect x="479" y="119.17" width="1.02" height="14.57" fill="#fff0de"/>
<rect x="480" y="119.17" width="1.02" height="14.57" fill="#fff2e4"/>
<rect x="481" y="119.17" width="1.02" height="14.57" fill="#fff0de"/>
<rect x="482" y="119.17" width="1.02" height="14.57" fill="#ffefdd"/>
<rect x="483" y="119.17" width="1.02" height="14.57" fill="#fff0de"/>
<rect x="484" y="119.17" width="1.02" height="14.57" fill="#fff3e5"/>
<rect x="485" y="119.17" width="1.02" height="14.57" fill="#ffefde"/>
<rect x="486" y="119.17" width="1.02" height="14.57" fill="#ffeedc"/>
<rect x="487" y="119.17" width="1.02" height="14.57" fill="#fff0df"/>
<rect x="488" y="119.17" width="1.02" height="14.57" fill="#fff1e0"/>
<rect x="489" y="119.17" width="1.02" height="14.57" fill="#fff3e5"/>
<rect x="490" y="119.17" width="1.02" height="14.57" fill="#ffefdc"/>
<rect x="491" y="119.17" width="1.02" height="14.57" fill="#fff0de"/>
<rect x="492" y="119.17" width="1.02" height="14.57" fill="#fff1e2"/>
<rect x="493" y="119.17" width="1.52" height="14.57" fill="#fff0e0"/>
<rect x="323.5" y="132.83" width="0.52" height="13.67" fill="#fff1e1"/>
<rect x="324" y="132.83" width="2.02" height="13.67" fill="#ffebd4"/>
<rect x="326" y="132.83" width="1.02" height="13.67" fill="#ffe9d1"/>
<rect x="327" y="132.83" width="1.02" height="13.67" fill="#ffecd7"/>
<rect x="328" y="132.83" width="1.02" height="13.67" fill="#ffe9d1"/>
<rect x="329" y="132.83" width="1.02" height="13.67" fill="#ffebd4"/>
<rect x="330" y="132.83" width="1.02" height="13.67" fill="#ffebd5"/>
<rect x="331" y="132.83" width="1.02" height="13.67" fill="#ffe8cf"/>
<rect x="332" y="132.83" width="1.02" height="13.67" fill="#ffe9d0"/>
<rect x="333" y="132.83" width="1.02" height="13.67" fill="#ffead3"/>
<rect x="334" y="132.83" width="1.02" height="13.67" fill="#ffeedb"/>
<rect x="335" y="132.83" width="1.02" height="13.67" fill="#ffebd5"/>
<rect x="336" y="132.83" width="1.02" height="13.67" fill="#ffecd6"/>
<rect x="337" y="132.83" width="1.02" height="13.67" fill="#ffecd7"/>
<rect x="338" y="132.83" width="1.02" height="13.67" fill="#ffe8ce"/>
<rect x="339" y="132.83" width="1.02" height="13.67" fill="#ffe9d0"/>
<rect x="340" y="132.83" width="1.02" height="13.67" fill="#ffe8cf"/>
<rect x="341" y="132.83" width="1.02" height="13.67" fill="#ffead3"/>
<rect x="342" y="132.83" width="1.02" height="13.67" fill="#ffebd5"/>
<rect x="343" y="132.83" width="1.02" height="13.67" fill="#ffead2"/>
<rect x="344" y="132.83" width="2.02" height="13.67" fill="#ffe9d0"/>
<rect x="346" y="132.83" width="1.02" height="13.67" fill="#ffebd5"/>
<rect x="347" y="132.83" width="1.02" height="13.67" fill="#ffedd9"/>
<rect x="348" y="132.83" width="1.02" height="13.67" fill="#ffeedc"/>
<rect x="349" y="132.83" width="1.02" height="13.67" fill="#ffecd6"/>
<rect x="350" y="132.83" width="1.02" height="13.67" fill="#ffe9d1"/>
<rect x="351" y="132.83" width="1.02" height="13.67" fill="#ffeeda"/>
<rect x="352" y="132.83" width="1.02" height="13.67" fill="#ffebd5"/>
<rect x="353" y="132.83" width="1.02" height="13.67" fill="#ffecd7"/>
<rect x="354" y="132.83" width="1.02" height="13.67" fill="#ffead2"/>
<rect x="355" y="132.83" width="1.02" height="13.67" fill="#ffecd6"/>
<rect x="356" y="132.83" width="1.02" height="13.67" fill="#ffe7cd"/>
<rect x="357" y="132.83" width="1.02" height="13.67" fill="#ffecd7"/>
<rect x="358" y="132.83" width="1.02" height="13.67" fill="#fff6eb"/>
<rect x="359" y="132.83" width="1.02" height="13.67" fill="#fff4e7"/>
<rect x="360" y="132.83" width="1.02" height="13.67" fill="#fff6eb"/>
<rect x="361" y="132.83" width="1.02" height="13.67" fill="#ffdbb3"/>
<rect x="362" y="132.83" width="1.02" height="13.67" fill="#ffcf9a"/>
<rect x="363" y="132.83" width="1.02" height="13.67" fill="#ffbb70"/>
<rect x="364" y="132.83" width="1.02" height="13.67" fill="#ffb564"/>
<rect x="365" y="132.83" width="1.02" height="13.67" fill="#ffa441"/>
<rect x="366" y="132.83" width="1.02" height="13.67" fill="#ff992a"/>
<rect x="367" y="132.83" width="1.02" height="13.67" fill="#ff8200"/>
<rect x="368" y="132.83" width="1.02" height="13.67" fill="#ff7100"/>
<rect x="369" y="132.83" width="1.02" height="13.67" fill="#ff6900"/>
<rect x="370" y="132.83" width="1.02" height="13.67" fill="#ff6b00"/>
<rect x="371" y="132.83" width="1.02" height="13.67" fill="#ff9d33"/>
<rect x="372" y="132.83" width="1.02" height="13.67" fill="#ffaa4e"/>
<rect x="373" y="132.83" width="1.02" height="13.67" fill="#ffa646"/>
<rect x="374" y="132.83" width="1.02" height="13.67" fill="#ff992a"/>
<rect x="375" y="132.83" width="1.02" height="13.67" fill="#ff921d"/>
<rect x="376" y="132.83" width="1.02" height="13.67" fill="#ffa849"/>
<rect x="377" y="132.83" width="1.02" height="13.67" fill="#ffa340"/>
<rect x="378" y="132.83" width="1.02" height="13.67" fill="#ffa748"/>
<rect x="379" y="132.83" width="1.02" height="13.67" fill="#ff9726"/>
<rect x="380" y="132.83" width="1.02" height="13.67" fill="#ffa543"/>
<rect x="381" y="132.83" width="1.02" height="13.67" fill="#ff992b"/>
<rect x="382" y="132.83" width="1.02" height="13.67" fill="#ffa94b"/>
<rect x="383" y="132.83" width="1.02" height="13.67" fill="#ff9f38"/>
<rect x="384" y="132.83" width="1.02" height="13.67" fill="#ffa03a"/>
<rect x="385" y="132.83" width="1.02" height="13.67" fill="#ffa94b"/>
<rect x="386" y="132.83" width="1.02" height="13.67" fill="#fff6eb"/>
<rect x="387" y="132.83" width="1.02" height="13.67" fill="#ff8200"/>
<rect x="388" y="132.83" width="1.02" height="13.67" fill="#ff7000"/>
<rect x="389" y="132.83" width="1.02" height="13.67" fill="#ff7800"/>
<rect x="390" y="132.83" width="1.02" height="13.67" fill="#ff7c00"/>
<rect x="391" y="132.83" width="1.02" height="13.67" fill="#ff7e00"/>
<rect x="392" y="132.83" width="1.02" height="13.67" fill="#ff7600"/>
<rect x="393" y="132.83" width="1.02" height="13.67" fill="#ff7b00"/>
<rect x="394" y="132.83" width="1.02" height="13.67" fill="#ff7400"/>
<rect x="395" y="132.83" width="1.02" height="13.67" fill="#fe6600"/>
<rect x="396" y="132.83" width="1.02" height="13.67" fill="#ff6700"/>
<rect x="397" y="132.83" width="1.02" height="13.67" fill="#ff6f00"/>
<rect x="398" y="132.83" width="1.02" height="13.67" fill="#ff7700"/>
<rect x="399" y="132.83" width="1.02" height="13.67" fill="#ff7900"/>
<rect x="400" y="132.83" width="1.02" height="13.67" fill="#fe6600"/>
<rect x="401" y="132.83" width="1.02" height="13.67" fill="#ff931e"/>
<rect x="402" y="132.83" width="1.02" height="13.67" fill="#ff7300"/>
<rect x="403" y="132.83" width="1.02" height="13.67" fill="#ff6c00"/>
<rect x="404" y="132.83" width="1.02" height="13.67" fill="#ff7800"/>
<rect x="405" y="132.83" width="1.02" height="13.67" fill="#ff7600"/>
<rect x="406" y="132.83" width="1.02" height="13.67" fill="#ff8100"/>
<rect x="407" y="132.83" width="1.02" height="13.67" fill="#ff9727"/>
<rect x="408" y="132.83" width="1.02" height="13.67" fill="#ff7a00"/>
<rect x="409" y="132.83" width="1.02" height="13.67" fill="#ff7e00"/>
<rect x="410" y="132.83" width="1.02" height="13.67" fill="#ff8501"/>
<rect x="411" y="132.83" width="1.02" height="13.67" fill="#ff6e00"/>
<rect x="412" y="132.83" width="1.02" height="13.67" fill="#ff6800"/>
<rect x="413" y="132.83" width="1.02" height="13.67" fill="#ff7500"/>
<rect x="414" y="132.83" width="1.02" height="13.67" fill="#ff7800"/>
<rect x="415" y="132.83" width="1.02" height="13.67" fill="#ff6c00"/>
<rect x="416" y="132.83" width="1.02" height="13.67" fill="#ff8500"/>
<rect x="417" y="132.83" width="1.02" height="13.67" fill="#fd6500"/>
<rect x="418" y="132.83" width="1.02" height="13.67" fill="#ff8000"/>
<rect x="419" y="132.83" width="1.02" height="13.67" fill="#ff6700"/>
<rect x="420" y="132.83" width="1.02" height="13.67" fill="#ff8b0d"/>
<rect x="421" y="132.83" width="1.02" height="13.67" fill="#ffe8cf"/>
<rect x="422" y="132.83" width="1.02" height="13.67" fill="#ffdeba"/>
<rect x="423" y="132.83" width="1.02" height="13.67" fill="#ffdab2"/>
<rect x="424" y="132.83" width="1.02" height="13.67" fill="#ffdcb5"/>
<rect x="425" y="132.83" width="1.02" height="13.67" fill="#ffe6cb"/>
<rect x="426" y="132.83" width="1.02" height="13.67" fill="#ffe1c0"/>
<rect x="427" y="132.83" width="1.02" height="13.67" fill="#ffe3c3"/>
<rect x="428" y="132.83" width="1.02" height="13.67" fill="#ffe0be"/>
<rect x="429" y="132.83" width="1.02" height="13.67" fill="#ffe5c7"/>
<rect x="430" y="132.83" width="1.02" height="13.67" fill="#ffdcb6"/>
<rect x="431" y="132.83" width="1.02" height="13.67" fill="#ffe5c8"/>
<rect x="432" y="132.83" width="1.02" height="13.67" fill="#ffe7cd"/>
<rect x="433" y="132.83" width="1.02" height="13.67" fill="#ffdeb9"/>
<rect x="434" y="132.83" width="1.02" height="13.67" fill="#ffe4c6"/>
<rect x="435" y="132.83" width="1.02" height="13.67" fill="#ffddb7"/>
<rect x="436" y="132.83" width="1.02" height="13.67" fill="#ffe4c6"/>
<rect x="437" y="132.83" width="1.02" height="13.67" fill="#ffe4c5"/>
<rect x="438" y="132.83" width="1.02" height="13.67" fill="#ffddb7"/>
<rect x="439" y="132.83" width="1.02" height="13.67" fill="#ffddb8"/>
<rect x="440" y="132.83" width="1.02" height="13.67" fill="#ffe8cf"/>
<rect x="441" y="132.83" width="1.02" height="13.67" fill="#ffe0be"/>
<rect x="442" y="132.83" width="1.02" height="13.67" fill="#ffebd5"/>
<rect x="443" y="132.83" width="1.02" height="13.67" fill="#ffa849"/>
<rect x="444" y="132.83" width="1.02" height="13.67" fill="#ff7d00"/>
<rect x="445" y="132.83" width="1.02" height="13.67" fill="#ffa13b"/>
<rect x="446" y="132.83" width="1.02" height="13.67" fill="#ff921c"/>
<rect x="447" y="132.83" width="1.02" height="13.67" fill="#ff8b0d"/>
<rect x="448" y="132.83" width="1.02" height="13.67" fill="#ff921c"/>
<rect x="449" y="132.83" width="1.02" height="13.67" fill="#ff8807"/>
<rect x="450" y="132.83" width="1.02" height="13.67" fill="#ff9829"/>
<rect x="451" y="132.83" width="1.02" height="13.67" fill="#ff8a0c"/>
<rect x="452" y="132.83" width="1.02" height="13.67" fill="#ff8e14"/>
<rect x="453" y="132.83" width="1.02" height="13.67" fill="#ff931f"/>
<rect x="454" y="132.83" width="1.02" height="13.67" fill="#ff9017"/>
<rect x="455" y="132.83" width="1.02" height="13.67" fill="#ff9829"/>
<rect x="456" y="132.83" width="1.02" height="13.67" fill="#ff8e13"/>
<rect x="457" y="132.83" width="1.02" height="13.67" fill="#ff9623"/>
<rect x="458" y="132.83" width="1.02" height="13.67" fill="#ff7700"/>
<rect x="459" y="132.83" width="1.02" height="13.67" fill="#ff8d11"/>
<rect x="460" y="132.83" width="1.02" height="13.67" fill="#ffa543"/>
<rect x="461" y="132.83" width="1.02" height="13.67" fill="#ff9420"/>
<rect x="462" y="132.83" width="1.02" height="13.67" fill="#ff9d32"/>
<rect x="463" y="132.83" width="1.02" height="13.67" fill="#ff8d12"/>
<rect x="464" y="132.83" width="1.02" height="13.67" fill="#ff8400"/>
<rect x="465" y="132.83" width="1.02" height="13.67" fill="#ff992b"/>
<rect x="466" y="132.83" width="1.02" height="13.67" fill="#ff8807"/>
<rect x="467" y="132.83" width="1.02" height="13.67" fill="#ff8b0e"/>
<rect x="468" y="132.83" width="1.02" height="13.67" fill="#ff8704"/>
<rect x="469" y="132.83" width="1.02" height="13.67" fill="#ff9828"/>
<rect x="470" y="132.83" width="1.02" height="13.67" fill="#fff4e6"/>
<rect x="471" y="132.83" width="1.02" height="13.67" fill="#fff3e6"/>
<rect x="472" y="132.83" width="1.02" height="13.67" fill="#fff0df"/>
<rect x="473" y="132.83" width="1.02" height="13.67" fill="#fff2e2"/>
<rect x="474" y="132.83" width="1.02" height="13.67" fill="#fff0de"/>
<rect x="475" y="132.83" width="1.02" height="13.67" fill="#ffeedb"/>
<rect x="476" y="132.83" width="1.02" height="13.67" fill="#fff0de"/>
<rect x="477" y="132.83" width="2.02" height="13.67" fill="#ffefdd"/>
<rect x="479" y="132.83" width="1.02" height="13.67" fill="#fff2e4"/>
<rect x="480" y="132.83" width="1.02" height="13.67" fill="#fff1e2"/>
<rect x="481" y="132.83" width="1.02" height="13.67" fill="#fff0df"/>
<rect x="482" y="132.83" width="1.02" height="13.67" fill="#ffefdd"/>
<rect x="483" y="132.83" width="1.02" height="13.67" fill="#fff1e1"/>
<rect x="484" y="132.83" width="1.02" height="13.67" fill="#fff4e7"/>
<rect x="485" y="132.83" width="1.02" height="13.67" fill="#fff1e1"/>
<rect x="486" y="132.83" width="1.02" height="13.67" fill="#fff0de"/>
<rect x="487" y="132.83" width="1.02" height="13.67" fill="#fff3e6"/>
<rect x="488" y="132.83" width="1.02" height="13.67" fill="#fff2e4"/>
<rect x="489" y="132.83" width="1.02" height="13.67" fill="#fff1e1"/>
<rect x="490" y="132.83" width="1.02" height="13.67" fill="#ffeedb"/>
<rect x="491" y="132.83" width="1.02" height="13.67" fill="#fff1e1"/>
<rect x="492" y="132.83" width="1.02" height="13.67" fill="#fff1e0"/>
<rect x="493" y="132.83" width="1.02" height="13.67" fill="#fff0de"/>
<rect x="494" y="132.83" width="0.52" height="13.67" fill="#fff4e8"/>
<line x1="421.3" y1="64.5" x2="421.3" y2="146.5" stroke="#fff" stroke-width="1.4" stroke-dasharray="6.5,3.2"/>
<line x1="443.3" y1="64.5" x2="443.3" y2="146.5" stroke="#fff" stroke-width="1.4" stroke-dasharray="6.5,3.2"/>
<text x="0" y="0" font-size="9.4" text-anchor="middle" fill="#1e0600" font-weight="normal" stroke="#1e0600" stroke-width="0.22" transform="translate(404.3,74.93) scale(1,1.1)">(i)</text>
<text x="0" y="0" font-size="9.4" text-anchor="middle" fill="#1e0600" font-weight="normal" stroke="#1e0600" stroke-width="0.22" transform="translate(431.5,74.93) scale(1,1.1)">(iii)</text>
<text x="0" y="0" font-size="9.4" text-anchor="middle" fill="#1e0600" font-weight="normal" stroke="#1e0600" stroke-width="0.22" transform="translate(456.5,74.93) scale(1,1.1)">(i)</text>
<line x1="412.9" y1="105.6" x2="428.1" y2="83.6" stroke="#fff" stroke-width="2" marker-end="url(#ah)"/>
<line x1="438.2" y1="83.6" x2="455.1" y2="109" stroke="#fff" stroke-width="2" marker-end="url(#ah)"/>
<text x="0" y="0" font-size="9.4" text-anchor="start" fill="#1a0a00" font-weight="normal" stroke="#1a0a00" stroke-width="0.22" transform="translate(329.3,143.27) scale(1,1.1)">Strike-point</text>
<rect x="323.5" y="64.5" width="171" height="82" fill="none" stroke="#000" stroke-width="0.9" stroke-dasharray="2,1"/>
<line x1="323.5" y1="64.5" x2="323.5" y2="146.5" stroke="#000" stroke-width="0.9"/>
<text x="0" y="0" font-size="9.6" text-anchor="end" fill="#000" font-weight="normal" stroke="#000" stroke-width="0.22" transform="translate(321.3,75.23) scale(1,1.16)">6</text>
<text x="0" y="0" font-size="9.6" text-anchor="end" fill="#000" font-weight="normal" stroke="#000" stroke-width="0.22" transform="translate(321.3,88.9) scale(1,1.16)">5</text>
<text x="0" y="0" font-size="9.6" text-anchor="end" fill="#000" font-weight="normal" stroke="#000" stroke-width="0.22" transform="translate(321.3,102.57) scale(1,1.16)">4</text>
<text x="0" y="0" font-size="9.6" text-anchor="end" fill="#000" font-weight="normal" stroke="#000" stroke-width="0.22" transform="translate(321.3,116.23) scale(1,1.16)">3</text>
<text x="0" y="0" font-size="9.6" text-anchor="end" fill="#000" font-weight="normal" stroke="#000" stroke-width="0.22" transform="translate(321.3,129.9) scale(1,1.16)">2</text>
<text x="0" y="0" font-size="9.6" text-anchor="end" fill="#000" font-weight="normal" stroke="#000" stroke-width="0.22" transform="translate(321.3,143.57) scale(1,1.16)">1</text>
<text x="0" y="0" font-size="9.6" text-anchor="middle" fill="#000" font-weight="normal" stroke="#000" stroke-width="0.22" transform="translate(323.5,159.4) scale(1,1.16)">2</text>
<text x="0" y="0" font-size="9.6" text-anchor="middle" fill="#000" font-weight="normal" stroke="#000" stroke-width="0.22" transform="translate(352,159.4) scale(1,1.16)">3</text>
<text x="0" y="0" font-size="9.6" text-anchor="middle" fill="#000" font-weight="normal" stroke="#000" stroke-width="0.22" transform="translate(380.5,159.4) scale(1,1.16)">4</text>
<text x="0" y="0" font-size="9.6" text-anchor="middle" fill="#000" font-weight="normal" stroke="#000" stroke-width="0.22" transform="translate(409,159.4) scale(1,1.16)">5</text>
<text x="0" y="0" font-size="9.6" text-anchor="middle" fill="#000" font-weight="normal" stroke="#000" stroke-width="0.22" transform="translate(437.5,159.4) scale(1,1.16)">6</text>
<text x="0" y="0" font-size="9.6" text-anchor="middle" fill="#000" font-weight="normal" stroke="#000" stroke-width="0.22" transform="translate(466,159.4) scale(1,1.16)">7</text>
<text x="0" y="0" font-size="9.6" text-anchor="middle" fill="#000" font-weight="normal" stroke="#000" stroke-width="0.22" transform="translate(494.5,159.4) scale(1,1.16)">8</text>
<path d="M323.5,71.33h3M494.5,71.33h-3M323.5,85h3M494.5,85h-3M323.5,98.67h3M494.5,98.67h-3M323.5,112.33h3M494.5,112.33h-3M323.5,126h3M494.5,126h-3M323.5,139.67h3M494.5,139.67h-3M323.5,146.5v-2.5M352,146.5v-2.5M380.5,146.5v-2.5M409,146.5v-2.5M437.5,146.5v-2.5M466,146.5v-2.5M494.5,146.5v-2.5" stroke="#000" stroke-width="0.9" fill="none"/>
<text x="0" y="0" font-size="9.6" text-anchor="middle" fill="#000" font-weight="normal" stroke="#000" stroke-width="0.22" transform="translate(409.6,169.2) scale(1,1.2)">Time [s]</text>
<text x="0" y="0" font-size="9.6" text-anchor="middle" fill="#000" font-weight="normal" stroke="#000" stroke-width="0.22" transform="translate(308.6,105.5) rotate(-90)">Sightline</text>
<rect x="498.2" y="64.5" width="7.6" height="82" fill="url(#cbar)" stroke="#000" stroke-width="0.8"/>
<text x="0" y="0" font-size="9.6" text-anchor="start" fill="#000" font-weight="normal" stroke="#000" stroke-width="0.22" transform="translate(508.6,71.7) scale(1,1.16)">22</text>
<text x="0" y="0" font-size="9.6" text-anchor="start" fill="#000" font-weight="normal" stroke="#000" stroke-width="0.22" transform="translate(508.6,85.5) scale(1,1.16)">17</text>
<text x="0" y="0" font-size="9.6" text-anchor="start" fill="#000" font-weight="normal" stroke="#000" stroke-width="0.22" transform="translate(508.6,100.9) scale(1,1.16)">13</text>
<text x="0" y="0" font-size="9.6" text-anchor="start" fill="#000" font-weight="normal" stroke="#000" stroke-width="0.22" transform="translate(508.6,116.3) scale(1,1.16)">9</text>
<text x="0" y="0" font-size="9.6" text-anchor="start" fill="#000" font-weight="normal" stroke="#000" stroke-width="0.22" transform="translate(508.6,133.3) scale(1,1.16)">4</text>
<text x="0" y="0" font-size="9.6" text-anchor="start" fill="#000" font-weight="normal" stroke="#000" stroke-width="0.22" transform="translate(508.6,146.5) scale(1,1.16)">0</text>
<text x="0" y="0" font-size="9.2" text-anchor="middle" fill="#000" font-weight="normal" stroke="#000" stroke-width="0.22" transform="translate(527.8,106) rotate(-90)">10<tspan font-size="6.3" dy="-3.5">17</tspan><tspan dy="3.5"> ph/s/m</tspan><tspan font-size="6.3" dy="-3.5">2</tspan><tspan dy="3.5">/sr</tspan></text>
<text x="0" y="0" font-size="9.2" text-anchor="start" fill="#000" font-weight="normal" stroke="#000" stroke-width="0.22" transform="translate(310.5,187) scale(1,1.08)">(c) #40250: Ar II</text>
<g>
<clipPath id="cp2"><rect x="323.5" y="197.5" width="171" height="41"/></clipPath>
<g clip-path="url(#cp2)">
<polyline points="379,226.8 495,226.8" fill="none" stroke="#000" stroke-width="0.9"/>
<rect x="350.5" y="226" width="2" height="13" fill="#000"/>
<rect x="377" y="222" width="1.8" height="17" fill="#000"/>
<polygon points="352.5,232 355,231 357.5,233 357.5,239 352.5,239" fill="#aaa"/>
<polyline points="351,238.6 351.3,224.5 352,236 353,228 354,238 355,230 356,235 356.75,227.45 357.2,229.32 357.65,227.26 358.1,229.19 358.55,228.87 359,226.49 359.45,228.93 359.9,227.05 360.35,228.75 360.8,229.51 361.25,226.43 361.7,229.57 362.15,227.24 362.6,230.18 363.05,226.42 363.5,227.59 363.95,229.38 364.4,229.21 364.85,227.61 365.3,226.86 365.75,224.91 366.2,226.47 366.65,223.18 367.1,228.01 367.55,226.36 368,227.25 368.45,225.26 368.9,227.99 369.35,226.08 369.8,224.43 370.25,224.4 370.7,223.41 371.15,227.91 371.6,222.88 372.05,224.8 372.5,222.44 372.95,223.41 373.4,221.95 373.85,224.78 374.3,225.39 374.75,225.41 375.2,223.19 375.65,223.17 376.1,225 376.55,223.76 377,221.58 377.45,224.82 377.9,221.02 378.35,219.28 378.8,221.33 378.9,222 379.2,238.6" fill="none" stroke="#000" stroke-width="1.1" stroke-linejoin="round"/>
<polyline points="324,210.68 324.3,211.88 324.6,208.71 324.9,210.01 325.2,212.67 325.5,210.4 325.8,210.06 326.1,206.97 326.4,205.66 326.7,213.4 327,213.22 327.3,209.51 327.6,212.18 327.9,209.3 328.2,211.6 328.5,212.99 328.8,207.38 329.1,212.62 329.4,208.96 329.7,213.65 330,210.94 330.3,208.86 330.6,209.34 330.9,210.15 331.2,212.7 331.5,208.29 331.8,209.84 332.1,208.52 332.4,206.71 332.7,213.1 333,210.38 333.3,208.89 333.6,206.46 333.9,212.06 334.2,207.73 334.5,208.61 334.8,211.24 335.1,212.9 335.4,209.53 335.7,212.79 336,208.29 336.3,207.94 336.6,207.83 336.9,208.02 337.2,210.68 337.5,210.76 337.8,208.95 338.1,210.44 338.4,207.02 338.7,208.11 339,208.41 339.3,209.79 339.6,210.19 339.9,210.41 340.2,210.05 340.5,201.35 340.8,207.68 341.1,208.81 341.4,212.95 341.7,208.2 342,212.24 342.3,210.35 342.6,208.06 342.9,210.99 343.2,210.53 343.5,210.76 343.8,207.02 344.1,206.42 344.4,209.38 344.7,210.27 345,209.55 345.3,209.35 345.6,206.01 345.9,210.4 346.2,207.74 346.5,210.6 346.8,208.14 347.1,205.54 347.4,207.35 347.7,208.81 348,209.29 348.3,212.78 348.6,209.89 348.9,209.33 349.2,209.39 349.5,204.23 349.8,211.05 350.1,208.24 350.4,207.26 350.7,207.09 351,205.41 351.3,210.41 351.6,206.29 351.9,210.98 352.2,210.34 352.5,212.63 352.8,209.92 353.1,210.01 353.4,208.52 353.7,210.62 354,207.3 354.3,207.03 354.6,208.23 354.9,210.11 355.2,212.88 355.5,213.42 355.8,215.58 356.1,215.58 356.4,218.39 356.7,216.38 357,216.69 357.3,214.1 357.6,217.7 357.9,217.15 358.2,215.58 358.5,215.97 358.8,215.56 359.1,214.57 359.4,213.19 359.7,213.43 360,213.7 360.3,216.78 360.6,214.94 360.9,215.65 361.2,215.08 361.5,215.13 361.8,216.02 362.1,215.88 362.4,216.15 362.7,215.07 363,216.43 363.3,214.99 363.6,216.38 363.9,217.98 364.2,215.56 364.5,215.51 364.8,216.38 365.1,214.07 365.4,213.68 365.7,217.71 366,216.87 366.3,216.1 366.6,214.63 366.9,215.96 367.2,214.34 367.5,216.39 367.8,215.22 368.1,214.98 368.4,217.1 368.7,214.32 369,214.71 369.3,216.77 369.6,214.87 369.9,217.14 370.2,216.6 370.5,218.44 370.8,217.83 371.1,218.25 371.4,218.37 371.7,218.85 372,218.44 372.3,218.37 372.6,217.26 372.9,220.78 373.2,219 373.5,219.95 373.8,218.85 374.1,221.01 374.4,220.15 374.7,219.84 375,221.67 375.3,222.09 375.6,222.2 375.9,221.26 376.2,221.47 376.5,222.5 376.8,222.67 377.1,221.49 377.4,222.42 377.7,222.54 378,224.16 378.3,224.21 378.6,223.55 378.9,223.78 379.2,223.87 379.5,224.15 379.8,225.45 380.1,226.29 380.4,221.45 380.7,225.86 381,226.19 381.3,223.95 381.6,224.95 381.9,225.41 382.2,224.91 382.5,224.74 382.8,226.44 383.1,225.76 383.4,225.99 383.7,225.56 384,226.59 384.3,224.82 384.6,224.93 384.9,226.64 385.2,226.27 385.5,227.39 385.8,226.38 386.1,227.53 386.4,227.09 386.7,227.16 387,225.15 387.3,226.38 387.6,225.51 387.9,225.59 388.2,221.43 388.5,221.98 388.8,221.09 389.1,216.87 389.4,215.9 389.7,216.66 390,217.37 390.3,212.86 390.6,210.83 390.9,212.68 391.2,208.12 391.5,206.32 391.8,210.5 392.1,207.39 392.4,208.55 392.7,209.01 393,209 393.3,205.16 393.6,207.05 393.9,207.31 394.2,208.75 394.5,209.88 394.8,208.4 395.1,204.35 395.4,209.11 395.7,203.92 396,205.32 396.3,203.82 396.6,208.25 396.9,204.48 397.2,207.87 397.5,208.2 397.8,207.84 398.1,208.28 398.4,206.53 398.7,206.2 399,203.52 399.3,205.23 399.6,201.76 399.9,209.07 400.2,206.14 400.5,206.11 400.8,208.22 401.1,205.74 401.4,195.71 401.7,206.99 402,204.36 402.3,210.15 402.6,203.04 402.9,206.05 403.2,204.28 403.5,207.92 403.8,207.69 404.1,204.81 404.4,200.99 404.7,206.5 405,205.85 405.3,208.38 405.6,204.34 405.9,204.04 406.2,208.81 406.5,205.09 406.8,208.22 407.1,206.92 407.4,204.86 407.7,203.79 408,204.72 408.3,204.96 408.6,206.35 408.9,205.65 409.2,207.07 409.5,199.19 409.8,209.67 410.1,205.46 410.4,207.68 410.7,204.44 411,205.47 411.3,207.98 411.6,207.78 411.9,205.81 412.2,208.19 412.5,204.62 412.8,209.28 413.1,207.4 413.4,209.61 413.7,206.96 414,206.37 414.3,206.1 414.6,206.87 414.9,206.34 415.2,201.74 415.5,206.55 415.8,207.23 416.1,206.04 416.4,206.47 416.7,203.39 417,205.15 417.3,205.06 417.6,207.34 417.9,212.8 418.2,207.41 418.5,208.33 418.8,210.83 419.1,211.66 419.4,214.22 419.7,215.03 420,215.78 420.3,216.16 420.6,216.45 420.9,216.83 421.2,218.87 421.5,216.96 421.8,219.52 422.1,220.5 422.4,221.16 422.7,220.71 423,222.58 423.3,221.19 423.6,223.07 423.9,222.09 424.2,224.1 424.5,221.14 424.8,222.25 425.1,224.02 425.4,225.28 425.7,224.34 426,223.49 426.3,224.03 426.6,223.77 426.9,222.99 427.2,223.5 427.5,224.66 427.8,225.96 428.1,225.34 428.4,225.24 428.7,226.15 429,226.48 429.3,225.52 429.6,226.75 429.9,226.24 430.2,227.87 430.5,226.6 430.8,227.72 431.1,228.24 431.4,227.2 431.7,228.99 432,228.51 432.3,228.78 432.6,229.74 432.9,229.75 433.2,228.55 433.5,228.83 433.8,231.36 434.1,229.73 434.4,229.94 434.7,231.76 435,230.64 435.3,229.09 435.6,231.46 435.9,231.24 436.2,232.37 436.5,231.88 436.8,233.54 437.1,231.33 437.4,231.81 437.7,232.64 438,231.45 438.3,232.31 438.6,232.27 438.9,233.81 439.2,233.12 439.5,233.62 439.8,235.4 440.1,232.67 440.4,233.31 440.7,230.92 441,231.5 441.3,230.75 441.6,230 441.9,229.25 442.2,228.12 442.5,226.8 442.8,225.48 443.1,224.16 443.4,222.84 443.7,221.52 444,221.31 444.3,219.28 444.6,216.77 444.9,214.65 445.2,216.39 445.5,214.75 445.8,211.01 446.1,211.11 446.4,209.49 446.7,208.02 447,211.71 447.3,208.11 447.6,210.01 447.9,203.8 448.2,211.08 448.5,209.9 448.8,205.32 449.1,207.75 449.4,206.4 449.7,206.39 450,206.65 450.3,204.68 450.6,207.09 450.9,209.49 451.2,208.38 451.5,205.78 451.8,205.52 452.1,211.58 452.4,211.66 452.7,209.05 453,205.8 453.3,207.79 453.6,203.31 453.9,212.47 454.2,209.04 454.5,208.65 454.8,207.41 455.1,198.82 455.4,199.74 455.7,208.72 456,208.66 456.3,209.87 456.6,206.79 456.9,207.35 457.2,207.54 457.5,206.55 457.8,206.01 458.1,206.4 458.4,205.46 458.7,205.86 459,208.26 459.3,208.8 459.6,207.96 459.9,207.41 460.2,210.43 460.5,196.58 460.8,203.96 461.1,208.84 461.4,209.23 461.7,206.5 462,208.12 462.3,208.2 462.6,207.27 462.9,208.26 463.2,209.62 463.5,207.03 463.8,208.45 464.1,207.72 464.4,205.97 464.7,208.6 465,214.02 465.3,209.29 465.6,209.88 465.9,208.73 466.2,202.91 466.5,207.36 466.8,205.45 467.1,208.25 467.4,208.62 467.7,208.15 468,207.1 468.3,208.82 468.6,210.69 468.9,211.02 469.2,205.77 469.5,207.39 469.8,210.89 470.1,208.98 470.4,209.76 470.7,212.06 471,214.35 471.3,216.65 471.6,218.94 471.9,221.24 472.2,222.39 472.5,222.93 472.8,224.91 473.1,225.83 473.4,227.99 473.7,230.3 474,229.46 474.3,231.01 474.6,231.7 474.9,233.8 475.2,233.2 475.5,232.7 475.8,234.42 476.1,233.3 476.4,233.49 476.7,233.89 477,231.2 477.3,232.37 477.6,232.13 477.9,233.16 478.2,232.79 478.5,232.95 478.8,232.98 479.1,234.28 479.4,233.25 479.7,234.47 480,234.41 480.3,233.37 480.6,234.6 480.9,233.87 481.2,233.87 481.5,233.32 481.8,234.22 482.1,234.23 482.4,232.35 482.7,233.97 483,234.99 483.3,232.65 483.6,232.77 483.9,233.71 484.2,234.67 484.5,234.42 484.8,233.57 485.1,232.42 485.4,233.1 485.7,233.02 486,235.14 486.3,234.24 486.6,232.73 486.9,232 487.2,234.1 487.5,235.07 487.8,233.09 488.1,232.61 488.4,234.69 488.7,234.02 489,232.42 489.3,233.57 489.6,232.38 489.9,233.95 490.2,230.05 490.5,232.5 490.8,232.9 491.1,231.99 491.4,234.36 491.7,232.71 492,234.25 492.3,233.24 492.6,234.45 492.9,232.74 493.2,235.07 493.5,232.91 493.8,233.72 494.1,232.33 494.4,232.9 494.7,232.64" fill="none" stroke="#ee0000" stroke-width="1.25" stroke-linejoin="round"/>
</g>
<rect x="323.5" y="197.5" width="171" height="41" fill="none" stroke="#000" stroke-width="0.9"/>
<line x1="494.5" y1="197.5" x2="494.5" y2="238.5" stroke="#ee0000" stroke-width="1"/>
<path d="M323.5,238.5v-2.5M323.5,197.5v2.5M352,238.5v-2.5M352,197.5v2.5M380.5,238.5v-2.5M380.5,197.5v2.5M409,238.5v-2.5M409,197.5v2.5M437.5,238.5v-2.5M437.5,197.5v2.5M466,238.5v-2.5M466,197.5v2.5M494.5,238.5v-2.5M494.5,197.5v2.5M323.5,200.2h3.5M323.5,212h3.5M323.5,223.8h3.5M323.5,235.6h3.5M323.5,200.2h1.8M323.5,202.56h1.8M323.5,204.92h1.8M323.5,207.28h1.8M323.5,209.64h1.8M323.5,212h1.8M323.5,214.36h1.8M323.5,216.72h1.8M323.5,219.08h1.8M323.5,221.44h1.8M323.5,223.8h1.8M323.5,226.16h1.8M323.5,228.52h1.8M323.5,230.88h1.8M323.5,233.24h1.8M323.5,235.6h1.8" stroke="#000" stroke-width="0.9" fill="none"/>
<path d="M494.5,200.4h-3.5M494.5,212h-3.5M494.5,223.6h-3.5M494.5,235.2h-3.5M494.5,200.4h-1.8M494.5,202.72h-1.8M494.5,205.04h-1.8M494.5,207.36h-1.8M494.5,209.68h-1.8M494.5,212h-1.8M494.5,214.32h-1.8M494.5,216.64h-1.8M494.5,218.96h-1.8M494.5,221.28h-1.8M494.5,223.6h-1.8M494.5,225.92h-1.8M494.5,228.24h-1.8M494.5,230.56h-1.8M494.5,232.88h-1.8M494.5,235.2h-1.8" stroke="#ee0000" stroke-width="0.9" fill="none"/>
<text x="0" y="0" font-size="9.6" text-anchor="end" fill="#000" font-weight="normal" stroke="#000" stroke-width="0.22" transform="translate(321.3,204.1) scale(1,1.16)">3</text>
<text x="0" y="0" font-size="9.6" text-anchor="end" fill="#000" font-weight="normal" stroke="#000" stroke-width="0.22" transform="translate(321.3,215.9) scale(1,1.16)">2</text>
<text x="0" y="0" font-size="9.6" text-anchor="end" fill="#000" font-weight="normal" stroke="#000" stroke-width="0.22" transform="translate(321.3,227.7) scale(1,1.16)">1</text>
<text x="0" y="0" font-size="9.6" text-anchor="end" fill="#000" font-weight="normal" stroke="#000" stroke-width="0.22" transform="translate(321.3,239.5) scale(1,1.16)">0</text>
<text x="0" y="0" font-size="9.6" text-anchor="start" fill="#ee0000" font-weight="normal" stroke="#ee0000" stroke-width="0.22" transform="translate(497.5,204.3) scale(1,1.16)">20</text>
<text x="0" y="0" font-size="9.6" text-anchor="start" fill="#ee0000" font-weight="normal" stroke="#ee0000" stroke-width="0.22" transform="translate(497.5,215.9) scale(1,1.16)">10</text>
<text x="0" y="0" font-size="9.6" text-anchor="start" fill="#ee0000" font-weight="normal" stroke="#ee0000" stroke-width="0.22" transform="translate(497.5,227.5) scale(1,1.16)">0</text>
<text x="0" y="0" font-size="9.6" text-anchor="start" fill="#ee0000" font-weight="normal" stroke="#ee0000" stroke-width="0.22" transform="translate(497.5,239.1) scale(1,1.16)">-10</text>
<text x="0" y="0" font-size="9.4" text-anchor="middle" fill="#000" font-weight="normal" stroke="#000" stroke-width="0.22" transform="translate(308.6,218) rotate(-90)">10<tspan font-size='5.6' dy='-4'>21</tspan></text>
<text transform="translate(336,231.2) scale(0.9,1)" font-size="10.3" font-family="Liberation Serif">Γ</text><text x="341.7" y="235.5" font-size="6.3" font-family="Liberation Serif"><tspan font-style='italic'>Ar</tspan></text>
</g>
<rect x="323.5" y="241.5" width="0.52" height="14.57" fill="#fff1e1"/>
<rect x="324" y="241.5" width="1.02" height="14.57" fill="#fff0e0"/>
<rect x="325" y="241.5" width="1.02" height="14.57" fill="#ffedda"/>
<rect x="326" y="241.5" width="2.02" height="14.57" fill="#ffefdc"/>
<rect x="328" y="241.5" width="1.02" height="14.57" fill="#fff0df"/>
<rect x="329" y="241.5" width="1.02" height="14.57" fill="#ffefdc"/>
<rect x="330" y="241.5" width="1.02" height="14.57" fill="#fff0de"/>
<rect x="331" y="241.5" width="1.02" height="14.57" fill="#ffefdd"/>
<rect x="332" y="241.5" width="1.02" height="14.57" fill="#fff2e3"/>
<rect x="333" y="241.5" width="1.02" height="14.57" fill="#fff0de"/>
<rect x="334" y="241.5" width="1.02" height="14.57" fill="#fff0df"/>
<rect x="335" y="241.5" width="1.02" height="14.57" fill="#ffeeda"/>
<rect x="336" y="241.5" width="1.02" height="14.57" fill="#ffedd9"/>
<rect x="337" y="241.5" width="1.02" height="14.57" fill="#ffecd6"/>
<rect x="338" y="241.5" width="1.02" height="14.57" fill="#fff1e1"/>
<rect x="339" y="241.5" width="1.02" height="14.57" fill="#ffedd9"/>
<rect x="340" y="241.5" width="1.02" height="14.57" fill="#fff1e1"/>
<rect x="341" y="241.5" width="1.02" height="14.57" fill="#ffefdd"/>
<rect x="342" y="241.5" width="1.02" height="14.57" fill="#ffefdc"/>
<rect x="343" y="241.5" width="1.02" height="14.57" fill="#ffeedc"/>
<rect x="344" y="241.5" width="1.02" height="14.57" fill="#fff0e0"/>
<rect x="345" y="241.5" width="1.02" height="14.57" fill="#ffefdd"/>
<rect x="346" y="241.5" width="1.02" height="14.57" fill="#ffeedb"/>
<rect x="347" y="241.5" width="1.02" height="14.57" fill="#fff0e0"/>
<rect x="348" y="241.5" width="1.02" height="14.57" fill="#ffecd6"/>
<rect x="349" y="241.5" width="1.02" height="14.57" fill="#fff2e3"/>
<rect x="350" y="241.5" width="1.02" height="14.57" fill="#fff3e5"/>
<rect x="351" y="241.5" width="1.02" height="14.57" fill="#ffe2c1"/>
<rect x="352" y="241.5" width="1.02" height="14.57" fill="#ffdeb9"/>
<rect x="353" y="241.5" width="1.02" height="14.57" fill="#ffdbb3"/>
<rect x="354" y="241.5" width="1.02" height="14.57" fill="#ffca8f"/>
<rect x="355" y="241.5" width="1.02" height="14.57" fill="#ffe1bf"/>
<rect x="356" y="241.5" width="1.02" height="14.57" fill="#ffc17c"/>
<rect x="357" y="241.5" width="1.02" height="14.57" fill="#ffc483"/>
<rect x="358" y="241.5" width="1.02" height="14.57" fill="#ffbd76"/>
<rect x="359" y="241.5" width="1.02" height="14.57" fill="#ffaf58"/>
<rect x="360" y="241.5" width="1.02" height="14.57" fill="#ffb666"/>
<rect x="361" y="241.5" width="1.02" height="14.57" fill="#ffb86b"/>
<rect x="362" y="241.5" width="1.02" height="14.57" fill="#ffb05b"/>
<rect x="363" y="241.5" width="1.02" height="14.57" fill="#ffa543"/>
<rect x="364" y="241.5" width="1.02" height="14.57" fill="#ffb05b"/>
<rect x="365" y="241.5" width="1.02" height="14.57" fill="#ff8806"/>
<rect x="366" y="241.5" width="1.02" height="14.57" fill="#ff7400"/>
<rect x="367" y="241.5" width="1.02" height="14.57" fill="#ff7800"/>
<rect x="368" y="241.5" width="1.02" height="14.57" fill="#ff7f00"/>
<rect x="369" y="241.5" width="1.02" height="14.57" fill="#ff8000"/>
<rect x="370" y="241.5" width="1.02" height="14.57" fill="#ff9420"/>
<rect x="371" y="241.5" width="1.02" height="14.57" fill="#ff7400"/>
<rect x="372" y="241.5" width="1.02" height="14.57" fill="#ff6c00"/>
<rect x="373" y="241.5" width="1.02" height="14.57" fill="#ff8200"/>
<rect x="374" y="241.5" width="1.02" height="14.57" fill="#ff7400"/>
<rect x="375" y="241.5" width="1.02" height="14.57" fill="#ff7c00"/>
<rect x="376" y="241.5" width="1.02" height="14.57" fill="#ff7f00"/>
<rect x="377" y="241.5" width="1.02" height="14.57" fill="#ff7c00"/>
<rect x="378" y="241.5" width="1.02" height="14.57" fill="#ff6d00"/>
<rect x="379" y="241.5" width="2.02" height="14.57" fill="#ff7a00"/>
<rect x="381" y="241.5" width="1.02" height="14.57" fill="#e24200"/>
<rect x="382" y="241.5" width="1.02" height="14.57" fill="#d22e00"/>
<rect x="383" y="241.5" width="1.02" height="14.57" fill="#d32e00"/>
<rect x="384" y="241.5" width="1.02" height="14.57" fill="#ea4c00"/>
<rect x="385" y="241.5" width="1.02" height="14.57" fill="#ff7c00"/>
<rect x="386" y="241.5" width="1.02" height="14.57" fill="#ff6a00"/>
<rect x="387" y="241.5" width="1.02" height="14.57" fill="#ff7200"/>
<rect x="388" y="241.5" width="1.02" height="14.57" fill="#ff7900"/>
<rect x="389" y="241.5" width="1.02" height="14.57" fill="#ff8300"/>
<rect x="390" y="241.5" width="1.02" height="14.57" fill="#ff8200"/>
<rect x="391" y="241.5" width="1.02" height="14.57" fill="#ff8100"/>
<rect x="392" y="241.5" width="1.02" height="14.57" fill="#ff8502"/>
<rect x="393" y="241.5" width="1.02" height="14.57" fill="#ff6d00"/>
<rect x="394" y="241.5" width="1.02" height="14.57" fill="#ff7e00"/>
<rect x="395" y="241.5" width="1.02" height="14.57" fill="#ff8b0d"/>
<rect x="396" y="241.5" width="1.02" height="14.57" fill="#ff8602"/>
<rect x="397" y="241.5" width="1.02" height="14.57" fill="#ff8400"/>
<rect x="398" y="241.5" width="1.02" height="14.57" fill="#ff7800"/>
<rect x="399" y="241.5" width="1.02" height="14.57" fill="#ff8300"/>
<rect x="400" y="241.5" width="1.02" height="14.57" fill="#ff6d00"/>
<rect x="401" y="241.5" width="1.02" height="14.57" fill="#ff921d"/>
<rect x="402" y="241.5" width="1.02" height="14.57" fill="#ff8000"/>
<rect x="403" y="241.5" width="1.02" height="14.57" fill="#ff7a00"/>
<rect x="404" y="241.5" width="1.02" height="14.57" fill="#ff8500"/>
<rect x="405" y="241.5" width="1.02" height="14.57" fill="#ff7800"/>
<rect x="406" y="241.5" width="1.02" height="14.57" fill="#ff9119"/>
<rect x="407" y="241.5" width="1.02" height="14.57" fill="#ff7500"/>
<rect x="408" y="241.5" width="1.02" height="14.57" fill="#ff7700"/>
<rect x="409" y="241.5" width="1.02" height="14.57" fill="#ff8200"/>
<rect x="410" y="241.5" width="1.02" height="14.57" fill="#ff7e00"/>
<rect x="411" y="241.5" width="1.02" height="14.57" fill="#ff8300"/>
<rect x="412" y="241.5" width="1.02" height="14.57" fill="#ff911a"/>
<rect x="413" y="241.5" width="1.02" height="14.57" fill="#ff6700"/>
<rect x="414" y="241.5" width="1.02" height="14.57" fill="#ff6b00"/>
<rect x="415" y="241.5" width="1.02" height="14.57" fill="#ff7100"/>
<rect x="416" y="241.5" width="1.02" height="14.57" fill="#ff7600"/>
<rect x="417" y="241.5" width="1.02" height="14.57" fill="#ff7900"/>
<rect x="418" y="241.5" width="1.02" height="14.57" fill="#ff7000"/>
<rect x="419" y="241.5" width="1.02" height="14.57" fill="#ff8705"/>
<rect x="420" y="241.5" width="1.02" height="14.57" fill="#fc6400"/>
<rect x="421" y="241.5" width="1.02" height="14.57" fill="#ff7b00"/>
<rect x="422" y="241.5" width="1.02" height="14.57" fill="#ff6b00"/>
<rect x="423" y="241.5" width="1.02" height="14.57" fill="#fc6400"/>
<rect x="424" y="241.5" width="1.02" height="14.57" fill="#ff7300"/>
<rect x="425" y="241.5" width="1.02" height="14.57" fill="#ff7400"/>
<rect x="426" y="241.5" width="1.02" height="14.57" fill="#ff6e00"/>
<rect x="427" y="241.5" width="1.02" height="14.57" fill="#f75d00"/>
<rect x="428" y="241.5" width="1.02" height="14.57" fill="#f96000"/>
<rect x="429" y="241.5" width="1.02" height="14.57" fill="#f85e00"/>
<rect x="430" y="241.5" width="1.02" height="14.57" fill="#cc2500"/>
<rect x="431" y="241.5" width="1.02" height="14.57" fill="#d73300"/>
<rect x="432" y="241.5" width="1.02" height="14.57" fill="#d12c00"/>
<rect x="433" y="241.5" width="1.02" height="14.57" fill="#d22d00"/>
<rect x="434" y="241.5" width="1.02" height="14.57" fill="#ff7400"/>
<rect x="435" y="241.5" width="1.02" height="14.57" fill="#ff7000"/>
<rect x="436" y="241.5" width="1.02" height="14.57" fill="#f95f00"/>
<rect x="437" y="241.5" width="1.02" height="14.57" fill="#ff7500"/>
<rect x="438" y="241.5" width="1.02" height="14.57" fill="#ff7000"/>
<rect x="439" y="241.5" width="1.02" height="14.57" fill="#ff7200"/>
<rect x="440" y="241.5" width="1.02" height="14.57" fill="#fb6200"/>
<rect x="441" y="241.5" width="1.02" height="14.57" fill="#ff6900"/>
<rect x="442" y="241.5" width="1.02" height="14.57" fill="#ff7100"/>
<rect x="443" y="241.5" width="1.02" height="14.57" fill="#ff8706"/>
<rect x="444" y="241.5" width="1.02" height="14.57" fill="#ff8603"/>
<rect x="445" y="241.5" width="1.02" height="14.57" fill="#ff7800"/>
<rect x="446" y="241.5" width="1.02" height="14.57" fill="#ff8602"/>
<rect x="447" y="241.5" width="1.02" height="14.57" fill="#ff7f00"/>
<rect x="448" y="241.5" width="1.02" height="14.57" fill="#ff7800"/>
<rect x="449" y="241.5" width="1.02" height="14.57" fill="#ff7400"/>
<rect x="450" y="241.5" width="1.02" height="14.57" fill="#ff8f17"/>
<rect x="451" y="241.5" width="1.02" height="14.57" fill="#ff7300"/>
<rect x="452" y="241.5" width="1.02" height="14.57" fill="#ff8807"/>
<rect x="453" y="241.5" width="1.02" height="14.57" fill="#ff8705"/>
<rect x="454" y="241.5" width="1.02" height="14.57" fill="#ff8706"/>
<rect x="455" y="241.5" width="1.02" height="14.57" fill="#ff8a0b"/>
<rect x="456" y="241.5" width="1.02" height="14.57" fill="#ff7600"/>
<rect x="457" y="241.5" width="3.02" height="14.57" fill="#ff8200"/>
<rect x="460" y="241.5" width="1.02" height="14.57" fill="#ff7800"/>
<rect x="461" y="241.5" width="1.02" height="14.57" fill="#ff8909"/>
<rect x="462" y="241.5" width="1.02" height="14.57" fill="#ff7e00"/>
<rect x="463" y="241.5" width="1.02" height="14.57" fill="#ff7900"/>
<rect x="464" y="241.5" width="1.02" height="14.57" fill="#ff890a"/>
<rect x="465" y="241.5" width="1.02" height="14.57" fill="#ff7b00"/>
<rect x="466" y="241.5" width="1.02" height="14.57" fill="#ff7300"/>
<rect x="467" y="241.5" width="1.02" height="14.57" fill="#ff7a00"/>
<rect x="468" y="241.5" width="1.02" height="14.57" fill="#ff7700"/>
<rect x="469" y="241.5" width="1.02" height="14.57" fill="#ff8200"/>
<rect x="470" y="241.5" width="1.02" height="14.57" fill="#ff8501"/>
<rect x="471" y="241.5" width="1.02" height="14.57" fill="#ff8300"/>
<rect x="472" y="241.5" width="1.02" height="14.57" fill="#ff8400"/>
<rect x="473" y="241.5" width="1.02" height="14.57" fill="#ff8704"/>
<rect x="474" y="241.5" width="1.02" height="14.57" fill="#9d0000"/>
<rect x="475" y="241.5" width="1.02" height="14.57" fill="#aa0000"/>
<rect x="476" y="241.5" width="1.02" height="14.57" fill="#af0100"/>
<rect x="477" y="241.5" width="1.02" height="14.57" fill="#b10200"/>
<rect x="478" y="241.5" width="1.02" height="14.57" fill="#9f0000"/>
<rect x="479" y="241.5" width="1.02" height="14.57" fill="#c82100"/>
<rect x="480" y="241.5" width="1.02" height="14.57" fill="#a60000"/>
<rect x="481" y="241.5" width="1.02" height="14.57" fill="#960000"/>
<rect x="482" y="241.5" width="1.02" height="14.57" fill="#b60a00"/>
<rect x="483" y="241.5" width="1.02" height="14.57" fill="#b30500"/>
<rect x="484" y="241.5" width="1.02" height="14.57" fill="#a90000"/>
<rect x="485" y="241.5" width="1.02" height="14.57" fill="#b80c00"/>
<rect x="486" y="241.5" width="1.02" height="14.57" fill="#a20000"/>
<rect x="487" y="241.5" width="1.02" height="14.57" fill="#ac0000"/>
<rect x="488" y="241.5" width="1.02" height="14.57" fill="#b10200"/>
<rect x="489" y="241.5" width="1.02" height="14.57" fill="#a90000"/>
<rect x="490" y="241.5" width="1.02" height="14.57" fill="#b80c00"/>
<rect x="491" y="241.5" width="1.02" height="14.57" fill="#b40600"/>
<rect x="492" y="241.5" width="1.02" height="14.57" fill="#b20400"/>
<rect x="493" y="241.5" width="1.02" height="14.57" fill="#b00200"/>
<rect x="494" y="241.5" width="0.52" height="14.57" fill="#aa0000"/>
<rect x="323.5" y="255.17" width="0.52" height="14.57" fill="#fff1e1"/>
<rect x="324" y="255.17" width="1.02" height="14.57" fill="#ffeeda"/>
<rect x="325" y="255.17" width="1.02" height="14.57" fill="#fff0df"/>
<rect x="326" y="255.17" width="1.02" height="14.57" fill="#fff1e0"/>
<rect x="327" y="255.17" width="2.02" height="14.57" fill="#fff3e5"/>
<rect x="329" y="255.17" width="1.02" height="14.57" fill="#fff3e6"/>
<rect x="330" y="255.17" width="1.02" height="14.57" fill="#fff5e8"/>
<rect x="331" y="255.17" width="1.02" height="14.57" fill="#fff5ea"/>
<rect x="332" y="255.17" width="1.02" height="14.57" fill="#fff2e3"/>
<rect x="333" y="255.17" width="1.02" height="14.57" fill="#fff2e4"/>
<rect x="334" y="255.17" width="1.02" height="14.57" fill="#fff0df"/>
<rect x="335" y="255.17" width="1.02" height="14.57" fill="#fff3e5"/>
<rect x="336" y="255.17" width="1.02" height="14.57" fill="#fff0e0"/>
<rect x="337" y="255.17" width="1.02" height="14.57" fill="#ffefdd"/>
<rect x="338" y="255.17" width="1.02" height="14.57" fill="#fff5e9"/>
<rect x="339" y="255.17" width="1.02" height="14.57" fill="#ffeeda"/>
<rect x="340" y="255.17" width="1.02" height="14.57" fill="#ffefdd"/>
<rect x="341" y="255.17" width="1.02" height="14.57" fill="#fff2e3"/>
<rect x="342" y="255.17" width="1.02" height="14.57" fill="#fff2e4"/>
<rect x="343" y="255.17" width="1.02" height="14.57" fill="#fff2e3"/>
<rect x="344" y="255.17" width="1.02" height="14.57" fill="#fff4e6"/>
<rect x="345" y="255.17" width="1.02" height="14.57" fill="#fff2e2"/>
<rect x="346" y="255.17" width="1.02" height="14.57" fill="#fff1e2"/>
<rect x="347" y="255.17" width="1.02" height="14.57" fill="#fff3e4"/>
<rect x="348" y="255.17" width="1.02" height="14.57" fill="#ffedd9"/>
<rect x="349" y="255.17" width="1.02" height="14.57" fill="#fff4e8"/>
<rect x="350" y="255.17" width="1.02" height="14.57" fill="#ffe5c8"/>
<rect x="351" y="255.17" width="1.02" height="14.57" fill="#ffd9af"/>
<rect x="352" y="255.17" width="1.02" height="14.57" fill="#ffdab2"/>
<rect x="353" y="255.17" width="1.02" height="14.57" fill="#ffd3a4"/>
<rect x="354" y="255.17" width="1.02" height="14.57" fill="#ffd2a0"/>
<rect x="355" y="255.17" width="1.02" height="14.57" fill="#ffe7cd"/>
<rect x="356" y="255.17" width="1.02" height="14.57" fill="#ffcd96"/>
<rect x="357" y="255.17" width="1.02" height="14.57" fill="#ffd2a1"/>
<rect x="358" y="255.17" width="1.02" height="14.57" fill="#ffc07b"/>
<rect x="359" y="255.17" width="1.02" height="14.57" fill="#ffb86b"/>
<rect x="360" y="255.17" width="1.02" height="14.57" fill="#ffb667"/>
<rect x="361" y="255.17" width="1.02" height="14.57" fill="#ffbc73"/>
<rect x="362" y="255.17" width="1.02" height="14.57" fill="#ffba6f"/>
<rect x="363" y="255.17" width="1.02" height="14.57" fill="#ffa849"/>
<rect x="364" y="255.17" width="1.02" height="14.57" fill="#ffb15b"/>
<rect x="365" y="255.17" width="1.02" height="14.57" fill="#ff8e13"/>
<rect x="366" y="255.17" width="1.02" height="14.57" fill="#ff7f00"/>
<rect x="367" y="255.17" width="1.02" height="14.57" fill="#ff8a0c"/>
<rect x="368" y="255.17" width="1.02" height="14.57" fill="#ff9018"/>
<rect x="369" y="255.17" width="1.02" height="14.57" fill="#ff8a0b"/>
<rect x="370" y="255.17" width="1.02" height="14.57" fill="#ff9420"/>
<rect x="371" y="255.17" width="1.02" height="14.57" fill="#ff7a00"/>
<rect x="372" y="255.17" width="1.02" height="14.57" fill="#ff7400"/>
<rect x="373" y="255.17" width="1.02" height="14.57" fill="#ff8806"/>
<rect x="374" y="255.17" width="1.02" height="14.57" fill="#ff7800"/>
<rect x="375" y="255.17" width="1.02" height="14.57" fill="#ff8e14"/>
<rect x="376" y="255.17" width="1.02" height="14.57" fill="#ff7600"/>
<rect x="377" y="255.17" width="1.02" height="14.57" fill="#ff7900"/>
<rect x="378" y="255.17" width="1.02" height="14.57" fill="#ff7200"/>
<rect x="379" y="255.17" width="1.02" height="14.57" fill="#ff7000"/>
<rect x="380" y="255.17" width="1.02" height="14.57" fill="#ff7300"/>
<rect x="381" y="255.17" width="1.02" height="14.57" fill="#ff8604"/>
<rect x="382" y="255.17" width="2.02" height="14.57" fill="#ff7800"/>
<rect x="384" y="255.17" width="1.02" height="14.57" fill="#ff6900"/>
<rect x="385" y="255.17" width="1.02" height="14.57" fill="#ff6800"/>
<rect x="386" y="255.17" width="1.02" height="14.57" fill="#fd6500"/>
<rect x="387" y="255.17" width="1.02" height="14.57" fill="#ff7a00"/>
<rect x="388" y="255.17" width="1.02" height="14.57" fill="#ff7300"/>
<rect x="389" y="255.17" width="1.02" height="14.57" fill="#ffa646"/>
<rect x="390" y="255.17" width="1.02" height="14.57" fill="#ffa94b"/>
<rect x="391" y="255.17" width="1.02" height="14.57" fill="#ffa84a"/>
<rect x="392" y="255.17" width="1.02" height="14.57" fill="#ffaa4e"/>
<rect x="393" y="255.17" width="1.02" height="14.57" fill="#ffa544"/>
<rect x="394" y="255.17" width="1.02" height="14.57" fill="#ffa94c"/>
<rect x="395" y="255.17" width="1.02" height="14.57" fill="#ffa543"/>
<rect x="396" y="255.17" width="1.02" height="14.57" fill="#ffb15c"/>
<rect x="397" y="255.17" width="1.02" height="14.57" fill="#ffb563"/>
<rect x="398" y="255.17" width="1.02" height="14.57" fill="#ffab51"/>
<rect x="399" y="255.17" width="1.02" height="14.57" fill="#ffa544"/>
<rect x="400" y="255.17" width="1.02" height="14.57" fill="#ffa849"/>
<rect x="401" y="255.17" width="1.02" height="14.57" fill="#ffb25d"/>
<rect x="402" y="255.17" width="1.02" height="14.57" fill="#ffa748"/>
<rect x="403" y="255.17" width="1.02" height="14.57" fill="#ffa747"/>
<rect x="404" y="255.17" width="1.02" height="14.57" fill="#ffa23d"/>
<rect x="405" y="255.17" width="1.02" height="14.57" fill="#ffa94b"/>
<rect x="406" y="255.17" width="1.02" height="14.57" fill="#ffad53"/>
<rect x="407" y="255.17" width="1.02" height="14.57" fill="#ffa543"/>
<rect x="408" y="255.17" width="1.02" height="14.57" fill="#ffaf57"/>
<rect x="409" y="255.17" width="1.02" height="14.57" fill="#ffa645"/>
<rect x="410" y="255.17" width="1.02" height="14.57" fill="#ffb25f"/>
<rect x="411" y="255.17" width="1.02" height="14.57" fill="#ffb462"/>
<rect x="412" y="255.17" width="1.02" height="14.57" fill="#ffa645"/>
<rect x="413" y="255.17" width="1.02" height="14.57" fill="#ffae55"/>
<rect x="414" y="255.17" width="1.02" height="14.57" fill="#ff9420"/>
<rect x="415" y="255.17" width="1.02" height="14.57" fill="#ff9e34"/>
<rect x="416" y="255.17" width="1.02" height="14.57" fill="#ffa849"/>
<rect x="417" y="255.17" width="1.02" height="14.57" fill="#ffab51"/>
<rect x="418" y="255.17" width="1.02" height="14.57" fill="#ffb96d"/>
<rect x="419" y="255.17" width="1.02" height="14.57" fill="#ffa646"/>
<rect x="420" y="255.17" width="1.02" height="14.57" fill="#ff7200"/>
<rect x="421" y="255.17" width="1.02" height="14.57" fill="#ff7100"/>
<rect x="422" y="255.17" width="1.02" height="14.57" fill="#ff7b00"/>
<rect x="423" y="255.17" width="1.02" height="14.57" fill="#ff6d00"/>
<rect x="424" y="255.17" width="1.02" height="14.57" fill="#ff8704"/>
<rect x="425" y="255.17" width="1.02" height="14.57" fill="#ff7200"/>
<rect x="426" y="255.17" width="1.02" height="14.57" fill="#fa6100"/>
<rect x="427" y="255.17" width="1.02" height="14.57" fill="#ff6900"/>
<rect x="428" y="255.17" width="1.02" height="14.57" fill="#ff7200"/>
<rect x="429" y="255.17" width="1.02" height="14.57" fill="#ff6d00"/>
<rect x="430" y="255.17" width="1.02" height="14.57" fill="#ff6f00"/>
<rect x="431" y="255.17" width="1.02" height="14.57" fill="#ff6800"/>
<rect x="432" y="255.17" width="1.02" height="14.57" fill="#ff7500"/>
<rect x="433" y="255.17" width="1.02" height="14.57" fill="#ff8100"/>
<rect x="434" y="255.17" width="1.02" height="14.57" fill="#ff7500"/>
<rect x="435" y="255.17" width="1.02" height="14.57" fill="#ff6800"/>
<rect x="436" y="255.17" width="1.02" height="14.57" fill="#f45900"/>
<rect x="437" y="255.17" width="1.02" height="14.57" fill="#ff7400"/>
<rect x="438" y="255.17" width="1.02" height="14.57" fill="#ff7100"/>
<rect x="439" y="255.17" width="1.02" height="14.57" fill="#ff7400"/>
<rect x="440" y="255.17" width="1.02" height="14.57" fill="#ff6e00"/>
<rect x="441" y="255.17" width="1.02" height="14.57" fill="#fa6100"/>
<rect x="442" y="255.17" width="1.02" height="14.57" fill="#ff7a00"/>
<rect x="443" y="255.17" width="1.02" height="14.57" fill="#ffa544"/>
<rect x="444" y="255.17" width="1.02" height="14.57" fill="#ffab50"/>
<rect x="445" y="255.17" width="1.02" height="14.57" fill="#ff9f38"/>
<rect x="446" y="255.17" width="1.02" height="14.57" fill="#ff9d33"/>
<rect x="447" y="255.17" width="1.02" height="14.57" fill="#ff9625"/>
<rect x="448" y="255.17" width="1.02" height="14.57" fill="#ffa33f"/>
<rect x="449" y="255.17" width="1.02" height="14.57" fill="#ffa039"/>
<rect x="450" y="255.17" width="1.02" height="14.57" fill="#ffa038"/>
<rect x="451" y="255.17" width="1.02" height="14.57" fill="#ff9522"/>
<rect x="452" y="255.17" width="1.02" height="14.57" fill="#ffa039"/>
<rect x="453" y="255.17" width="1.02" height="14.57" fill="#ff9727"/>
<rect x="454" y="255.17" width="1.02" height="14.57" fill="#ffa746"/>
<rect x="455" y="255.17" width="1.02" height="14.57" fill="#ffa03a"/>
<rect x="456" y="255.17" width="1.02" height="14.57" fill="#ff9b2f"/>
<rect x="457" y="255.17" width="1.02" height="14.57" fill="#ffa23c"/>
<rect x="458" y="255.17" width="1.02" height="14.57" fill="#ff9d33"/>
<rect x="459" y="255.17" width="1.02" height="14.57" fill="#ff9a2d"/>
<rect x="460" y="255.17" width="1.02" height="14.57" fill="#ff9625"/>
<rect x="461" y="255.17" width="1.02" height="14.57" fill="#ff9d33"/>
<rect x="462" y="255.17" width="1.02" height="14.57" fill="#ff9d32"/>
<rect x="463" y="255.17" width="1.02" height="14.57" fill="#ffa849"/>
<rect x="464" y="255.17" width="1.02" height="14.57" fill="#ffa544"/>
<rect x="465" y="255.17" width="1.02" height="14.57" fill="#ffa94b"/>
<rect x="466" y="255.17" width="2.02" height="14.57" fill="#ff9829"/>
<rect x="468" y="255.17" width="1.02" height="14.57" fill="#ff9f37"/>
<rect x="469" y="255.17" width="1.02" height="14.57" fill="#ffa038"/>
<rect x="470" y="255.17" width="1.02" height="14.57" fill="#ffa748"/>
<rect x="471" y="255.17" width="1.02" height="14.57" fill="#ff9828"/>
<rect x="472" y="255.17" width="1.02" height="14.57" fill="#ffa13c"/>
<rect x="473" y="255.17" width="1.02" height="14.57" fill="#ffa94c"/>
<rect x="474" y="255.17" width="1.02" height="14.57" fill="#9d0000"/>
<rect x="475" y="255.17" width="1.02" height="14.57" fill="#9f0000"/>
<rect x="476" y="255.17" width="1.02" height="14.57" fill="#920000"/>
<rect x="477" y="255.17" width="1.02" height="14.57" fill="#9a0000"/>
<rect x="478" y="255.17" width="1.02" height="14.57" fill="#9c0000"/>
<rect x="479" y="255.17" width="1.02" height="14.57" fill="#a70000"/>
<rect x="480" y="255.17" width="1.02" height="14.57" fill="#9d0000"/>
<rect x="481" y="255.17" width="1.02" height="14.57" fill="#930000"/>
<rect x="482" y="255.17" width="1.02" height="14.57" fill="#a30000"/>
<rect x="483" y="255.17" width="1.02" height="14.57" fill="#a10000"/>
<rect x="484" y="255.17" width="1.02" height="14.57" fill="#8a0000"/>
<rect x="485" y="255.17" width="1.02" height="14.57" fill="#a40000"/>
<rect x="486" y="255.17" width="1.02" height="14.57" fill="#990000"/>
<rect x="487" y="255.17" width="1.02" height="14.57" fill="#b70a00"/>
<rect x="488" y="255.17" width="1.02" height="14.57" fill="#a90000"/>
<rect x="489" y="255.17" width="1.02" height="14.57" fill="#910000"/>
<rect x="490" y="255.17" width="1.02" height="14.57" fill="#a20000"/>
<rect x="491" y="255.17" width="1.02" height="14.57" fill="#aa0000"/>
<rect x="492" y="255.17" width="1.02" height="14.57" fill="#970000"/>
<rect x="493" y="255.17" width="1.52" height="14.57" fill="#9d0000"/>
<rect x="323.5" y="268.83" width="0.52" height="14.57" fill="#fff1e1"/>
<rect x="324" y="268.83" width="1.02" height="14.57" fill="#fff0df"/>
<rect x="325" y="268.83" width="1.02" height="14.57" fill="#ffefdd"/>
<rect x="326" y="268.83" width="1.02" height="14.57" fill="#fff0e0"/>
<rect x="327" y="268.83" width="1.02" height="14.57" fill="#ffefdd"/>
<rect x="328" y="268.83" width="1.02" height="14.57" fill="#fff7ee"/>
<rect x="329" y="268.83" width="1.02" height="14.57" fill="#fff8ef"/>
<rect x="330" y="268.83" width="1.02" height="14.57" fill="#fff3e6"/>
<rect x="331" y="268.83" width="1.02" height="14.57" fill="#fff4e8"/>
<rect x="332" y="268.83" width="1.02" height="14.57" fill="#fff5e9"/>
<rect x="333" y="268.83" width="1.02" height="14.57" fill="#fff4e8"/>
<rect x="334" y="268.83" width="1.02" height="14.57" fill="#fff3e4"/>
<rect x="335" y="268.83" width="1.02" height="14.57" fill="#fff4e7"/>
<rect x="336" y="268.83" width="1.02" height="14.57" fill="#fff2e4"/>
<rect x="337" y="268.83" width="1.02" height="14.57" fill="#fff3e6"/>
<rect x="338" y="268.83" width="1.02" height="14.57" fill="#fff9f1"/>
<rect x="339" y="268.83" width="1.02" height="14.57" fill="#fff2e3"/>
<rect x="340" y="268.83" width="1.02" height="14.57" fill="#fff2e2"/>
<rect x="341" y="268.83" width="1.02" height="14.57" fill="#fff5e9"/>
<rect x="342" y="268.83" width="1.02" height="14.57" fill="#ffefde"/>
<rect x="343" y="268.83" width="1.02" height="14.57" fill="#fff2e3"/>
<rect x="344" y="268.83" width="1.02" height="14.57" fill="#fff3e6"/>
<rect x="345" y="268.83" width="1.02" height="14.57" fill="#fff3e5"/>
<rect x="346" y="268.83" width="1.02" height="14.57" fill="#fff4e7"/>
<rect x="347" y="268.83" width="1.02" height="14.57" fill="#fff6ec"/>
<rect x="348" y="268.83" width="1.02" height="14.57" fill="#fff2e2"/>
<rect x="349" y="268.83" width="1.02" height="14.57" fill="#fff5ea"/>
<rect x="350" y="268.83" width="1.02" height="14.57" fill="#ffe1c0"/>
<rect x="351" y="268.83" width="1.02" height="14.57" fill="#ffd19f"/>
<rect x="352" y="268.83" width="1.02" height="14.57" fill="#ffd3a3"/>
<rect x="353" y="268.83" width="1.02" height="14.57" fill="#ffd8ae"/>
<rect x="354" y="268.83" width="1.02" height="14.57" fill="#ffcd96"/>
<rect x="355" y="268.83" width="1.02" height="14.57" fill="#ffe2c2"/>
<rect x="356" y="268.83" width="1.02" height="14.57" fill="#ffbb70"/>
<rect x="357" y="268.83" width="1.02" height="14.57" fill="#ffb361"/>
<rect x="358" y="268.83" width="1.02" height="14.57" fill="#ffb25e"/>
<rect x="359" y="268.83" width="1.02" height="14.57" fill="#ffa13b"/>
<rect x="360" y="268.83" width="1.02" height="14.57" fill="#ffa747"/>
<rect x="361" y="268.83" width="1.02" height="14.57" fill="#ff9c31"/>
<rect x="362" y="268.83" width="1.02" height="14.57" fill="#ff9f36"/>
<rect x="363" y="268.83" width="1.02" height="14.57" fill="#ff8f15"/>
<rect x="364" y="268.83" width="1.02" height="14.57" fill="#ff992b"/>
<rect x="365" y="268.83" width="1.02" height="14.57" fill="#ed5100"/>
<rect x="366" y="268.83" width="1.02" height="14.57" fill="#db3900"/>
<rect x="367" y="268.83" width="1.02" height="14.57" fill="#f05400"/>
<rect x="368" y="268.83" width="1.02" height="14.57" fill="#ec4f00"/>
<rect x="369" y="268.83" width="1.02" height="14.57" fill="#f05400"/>
<rect x="370" y="268.83" width="1.02" height="14.57" fill="#ef5300"/>
<rect x="371" y="268.83" width="1.02" height="14.57" fill="#c31b00"/>
<rect x="372" y="268.83" width="1.02" height="14.57" fill="#af0000"/>
<rect x="373" y="268.83" width="1.02" height="14.57" fill="#c01700"/>
<rect x="374" y="268.83" width="1.02" height="14.57" fill="#bc1100"/>
<rect x="375" y="268.83" width="1.02" height="14.57" fill="#5c0000"/>
<rect x="376" y="268.83" width="1.02" height="14.57" fill="#4a0000"/>
<rect x="377" y="268.83" width="1.02" height="14.57" fill="#490000"/>
<rect x="378" y="268.83" width="1.02" height="14.57" fill="#3d0000"/>
<rect x="379" y="268.83" width="1.02" height="14.57" fill="#350000"/>
<rect x="380" y="268.83" width="1.02" height="14.57" fill="#5a0000"/>
<rect x="381" y="268.83" width="1.02" height="14.57" fill="#4c0000"/>
<rect x="382" y="268.83" width="1.02" height="14.57" fill="#470000"/>
<rect x="383" y="268.83" width="1.02" height="14.57" fill="#520000"/>
<rect x="384" y="268.83" width="1.02" height="14.57" fill="#580000"/>
<rect x="385" y="268.83" width="1.02" height="14.57" fill="#400000"/>
<rect x="386" y="268.83" width="1.02" height="14.57" fill="#8e0000"/>
<rect x="387" y="268.83" width="1.02" height="14.57" fill="#aa0000"/>
<rect x="388" y="268.83" width="1.02" height="14.57" fill="#970000"/>
<rect x="389" y="268.83" width="1.02" height="14.57" fill="#cf2900"/>
<rect x="390" y="268.83" width="1.02" height="14.57" fill="#e64700"/>
<rect x="391" y="268.83" width="1.02" height="14.57" fill="#e54600"/>
<rect x="392" y="268.83" width="1.02" height="14.57" fill="#d93600"/>
<rect x="393" y="268.83" width="1.02" height="14.57" fill="#d32e00"/>
<rect x="394" y="268.83" width="1.02" height="14.57" fill="#e14100"/>
<rect x="395" y="268.83" width="1.02" height="14.57" fill="#e34400"/>
<rect x="396" y="268.83" width="1.02" height="14.57" fill="#e94c00"/>
<rect x="397" y="268.83" width="1.02" height="14.57" fill="#ea4d00"/>
<rect x="398" y="268.83" width="1.02" height="14.57" fill="#f05400"/>
<rect x="399" y="268.83" width="1.02" height="14.57" fill="#ea4d00"/>
<rect x="400" y="268.83" width="1.02" height="14.57" fill="#dd3c00"/>
<rect x="401" y="268.83" width="1.02" height="14.57" fill="#f95f00"/>
<rect x="402" y="268.83" width="1.02" height="14.57" fill="#d43000"/>
<rect x="403" y="268.83" width="1.02" height="14.57" fill="#dd3c00"/>
<rect x="404" y="268.83" width="1.02" height="14.57" fill="#db3900"/>
<rect x="405" y="268.83" width="1.02" height="14.57" fill="#e84a00"/>
<rect x="406" y="268.83" width="1.02" height="14.57" fill="#ec4e00"/>
<rect x="407" y="268.83" width="1.02" height="14.57" fill="#dd3b00"/>
<rect x="408" y="268.83" width="1.02" height="14.57" fill="#e14000"/>
<rect x="409" y="268.83" width="1.02" height="14.57" fill="#dc3a00"/>
<rect x="410" y="268.83" width="1.02" height="14.57" fill="#e84a00"/>
<rect x="411" y="268.83" width="1.02" height="14.57" fill="#ea4c00"/>
<rect x="412" y="268.83" width="1.02" height="14.57" fill="#dc3b00"/>
<rect x="413" y="268.83" width="1.02" height="14.57" fill="#cb2500"/>
<rect x="414" y="268.83" width="1.02" height="14.57" fill="#c01600"/>
<rect x="415" y="268.83" width="1.02" height="14.57" fill="#db3900"/>
<rect x="416" y="268.83" width="1.02" height="14.57" fill="#e04000"/>
<rect x="417" y="268.83" width="1.02" height="14.57" fill="#db3900"/>
<rect x="418" y="268.83" width="1.02" height="14.57" fill="#e03f00"/>
<rect x="419" y="268.83" width="1.02" height="14.57" fill="#ce2800"/>
<rect x="420" y="268.83" width="1.02" height="14.57" fill="#8a0000"/>
<rect x="421" y="268.83" width="1.02" height="14.57" fill="#a30000"/>
<rect x="422" y="268.83" width="1.02" height="14.57" fill="#890000"/>
<rect x="423" y="268.83" width="1.02" height="14.57" fill="#500000"/>
<rect x="424" y="268.83" width="1.02" height="14.57" fill="#5b0000"/>
<rect x="425" y="268.83" width="1.02" height="14.57" fill="#420000"/>
<rect x="426" y="268.83" width="1.02" height="14.57" fill="#440000"/>
<rect x="427" y="268.83" width="2.02" height="14.57" fill="#460000"/>
<rect x="429" y="268.83" width="1.02" height="14.57" fill="#440000"/>
<rect x="430" y="268.83" width="1.02" height="14.57" fill="#520000"/>
<rect x="431" y="268.83" width="1.02" height="14.57" fill="#530000"/>
<rect x="432" y="268.83" width="1.02" height="14.57" fill="#490000"/>
<rect x="433" y="268.83" width="1.02" height="14.57" fill="#540000"/>
<rect x="434" y="268.83" width="1.02" height="14.57" fill="#610000"/>
<rect x="435" y="268.83" width="1.02" height="14.57" fill="#3c0000"/>
<rect x="436" y="268.83" width="1.02" height="14.57" fill="#4d0000"/>
<rect x="437" y="268.83" width="1.02" height="14.57" fill="#4a0000"/>
<rect x="438" y="268.83" width="1.02" height="14.57" fill="#480000"/>
<rect x="439" y="268.83" width="1.02" height="14.57" fill="#4f0000"/>
<rect x="440" y="268.83" width="1.02" height="14.57" fill="#8c0000"/>
<rect x="441" y="268.83" width="1.02" height="14.57" fill="#920000"/>
<rect x="442" y="268.83" width="1.02" height="14.57" fill="#8b0000"/>
<rect x="443" y="268.83" width="1.02" height="14.57" fill="#f15500"/>
<rect x="444" y="268.83" width="1.02" height="14.57" fill="#ee5200"/>
<rect x="445" y="268.83" width="1.02" height="14.57" fill="#d83600"/>
<rect x="446" y="268.83" width="1.02" height="14.57" fill="#e14100"/>
<rect x="447" y="268.83" width="1.02" height="14.57" fill="#d73300"/>
<rect x="448" y="268.83" width="1.02" height="14.57" fill="#db3900"/>
<rect x="449" y="268.83" width="1.02" height="14.57" fill="#d63200"/>
<rect x="450" y="268.83" width="1.02" height="14.57" fill="#e84a00"/>
<rect x="451" y="268.83" width="1.02" height="14.57" fill="#cd2700"/>
<rect x="452" y="268.83" width="1.02" height="14.57" fill="#ec4f00"/>
<rect x="453" y="268.83" width="1.02" height="14.57" fill="#db3900"/>
<rect x="454" y="268.83" width="1.02" height="14.57" fill="#e34300"/>
<rect x="455" y="268.83" width="2.02" height="14.57" fill="#db3900"/>
<rect x="457" y="268.83" width="1.02" height="14.57" fill="#e74800"/>
<rect x="458" y="268.83" width="1.02" height="14.57" fill="#ed5100"/>
<rect x="459" y="268.83" width="1.02" height="14.57" fill="#e14000"/>
<rect x="460" y="268.83" width="1.02" height="14.57" fill="#d22d00"/>
<rect x="461" y="268.83" width="1.02" height="14.57" fill="#e54500"/>
<rect x="462" y="268.83" width="1.02" height="14.57" fill="#e44500"/>
<rect x="463" y="268.83" width="1.02" height="14.57" fill="#e14000"/>
<rect x="464" y="268.83" width="1.02" height="14.57" fill="#e03f00"/>
<rect x="465" y="268.83" width="1.02" height="14.57" fill="#e94b00"/>
<rect x="466" y="268.83" width="1.02" height="14.57" fill="#d02b00"/>
<rect x="467" y="268.83" width="1.02" height="14.57" fill="#d93600"/>
<rect x="468" y="268.83" width="2.02" height="14.57" fill="#df3e00"/>
<rect x="470" y="268.83" width="1.02" height="14.57" fill="#e74800"/>
<rect x="471" y="268.83" width="1.02" height="14.57" fill="#d12c00"/>
<rect x="472" y="268.83" width="1.02" height="14.57" fill="#e03f00"/>
<rect x="473" y="268.83" width="1.02" height="14.57" fill="#e54600"/>
<rect x="474" y="268.83" width="1.02" height="14.57" fill="#bf1500"/>
<rect x="475" y="268.83" width="1.02" height="14.57" fill="#b40700"/>
<rect x="476" y="268.83" width="1.02" height="14.57" fill="#b90d00"/>
<rect x="477" y="268.83" width="1.02" height="14.57" fill="#b40700"/>
<rect x="478" y="268.83" width="1.02" height="14.57" fill="#b80c00"/>
<rect x="479" y="268.83" width="1.02" height="14.57" fill="#cd2700"/>
<rect x="480" y="268.83" width="1.02" height="14.57" fill="#b60900"/>
<rect x="481" y="268.83" width="1.02" height="14.57" fill="#a10000"/>
<rect x="482" y="268.83" width="1.02" height="14.57" fill="#c41b00"/>
<rect x="483" y="268.83" width="1.02" height="14.57" fill="#b80b00"/>
<rect x="484" y="268.83" width="1.02" height="14.57" fill="#c01600"/>
<rect x="485" y="268.83" width="1.02" height="14.57" fill="#c21900"/>
<rect x="486" y="268.83" width="1.02" height="14.57" fill="#b70a00"/>
<rect x="487" y="268.83" width="1.02" height="14.57" fill="#c82100"/>
<rect x="488" y="268.83" width="1.02" height="14.57" fill="#bd1200"/>
<rect x="489" y="268.83" width="1.02" height="14.57" fill="#c92200"/>
<rect x="490" y="268.83" width="1.02" height="14.57" fill="#bb1000"/>
<rect x="491" y="268.83" width="1.02" height="14.57" fill="#bc1100"/>
<rect x="492" y="268.83" width="1.02" height="14.57" fill="#a80000"/>
<rect x="493" y="268.83" width="1.02" height="14.57" fill="#bc1100"/>
<rect x="494" y="268.83" width="0.52" height="14.57" fill="#b70a00"/>
<rect x="323.5" y="282.5" width="0.52" height="14.57" fill="#fff1e1"/>
<rect x="324" y="282.5" width="1.02" height="14.57" fill="#fff2e3"/>
<rect x="325" y="282.5" width="1.02" height="14.57" fill="#fff1e1"/>
<rect x="326" y="282.5" width="1.02" height="14.57" fill="#fff5e9"/>
<rect x="327" y="282.5" width="1.02" height="14.57" fill="#fff3e4"/>
<rect x="328" y="282.5" width="1.02" height="14.57" fill="#fff8ef"/>
<rect x="329" y="282.5" width="1.02" height="14.57" fill="#fff4e7"/>
<rect x="330" y="282.5" width="1.02" height="14.57" fill="#fff3e6"/>
<rect x="331" y="282.5" width="1.02" height="14.57" fill="#fff3e5"/>
<rect x="332" y="282.5" width="1.02" height="14.57" fill="#fff4e7"/>
<rect x="333" y="282.5" width="1.02" height="14.57" fill="#fff3e4"/>
<rect x="334" y="282.5" width="1.02" height="14.57" fill="#fff2e3"/>
<rect x="335" y="282.5" width="1.02" height="14.57" fill="#fff6ec"/>
<rect x="336" y="282.5" width="1.02" height="14.57" fill="#fff2e2"/>
<rect x="337" y="282.5" width="1.02" height="14.57" fill="#fff3e4"/>
<rect x="338" y="282.5" width="1.02" height="14.57" fill="#fff9f1"/>
<rect x="339" y="282.5" width="1.02" height="14.57" fill="#fff3e5"/>
<rect x="340" y="282.5" width="1.02" height="14.57" fill="#fff4e7"/>
<rect x="341" y="282.5" width="1.02" height="14.57" fill="#fff4e8"/>
<rect x="342" y="282.5" width="1.02" height="14.57" fill="#fff2e3"/>
<rect x="343" y="282.5" width="1.02" height="14.57" fill="#fff6ec"/>
<rect x="344" y="282.5" width="1.02" height="14.57" fill="#fff4e7"/>
<rect x="345" y="282.5" width="2.02" height="14.57" fill="#fff1e1"/>
<rect x="347" y="282.5" width="1.02" height="14.57" fill="#fff6ec"/>
<rect x="348" y="282.5" width="1.02" height="14.57" fill="#fff2e2"/>
<rect x="349" y="282.5" width="1.02" height="14.57" fill="#fff6eb"/>
<rect x="350" y="282.5" width="1.02" height="14.57" fill="#ffecd6"/>
<rect x="351" y="282.5" width="1.02" height="14.57" fill="#ffe3c3"/>
<rect x="352" y="282.5" width="1.02" height="14.57" fill="#ffdab2"/>
<rect x="353" y="282.5" width="1.02" height="14.57" fill="#ffdfbb"/>
<rect x="354" y="282.5" width="1.02" height="14.57" fill="#ffd09c"/>
<rect x="355" y="282.5" width="1.02" height="14.57" fill="#ffdfbb"/>
<rect x="356" y="282.5" width="1.02" height="14.57" fill="#ffd19e"/>
<rect x="357" y="282.5" width="1.02" height="14.57" fill="#ffc78b"/>
<rect x="358" y="282.5" width="1.02" height="14.57" fill="#ffca91"/>
<rect x="359" y="282.5" width="1.02" height="14.57" fill="#ffb25e"/>
<rect x="360" y="282.5" width="1.02" height="14.57" fill="#ffb96d"/>
<rect x="361" y="282.5" width="1.02" height="14.57" fill="#ffb463"/>
<rect x="362" y="282.5" width="1.02" height="14.57" fill="#ffb667"/>
<rect x="363" y="282.5" width="1.02" height="14.57" fill="#ffa23e"/>
<rect x="364" y="282.5" width="1.02" height="14.57" fill="#ffa747"/>
<rect x="365" y="282.5" width="1.02" height="14.57" fill="#ff931e"/>
<rect x="366" y="282.5" width="1.02" height="14.57" fill="#ff7800"/>
<rect x="367" y="282.5" width="1.02" height="14.57" fill="#ff8706"/>
<rect x="368" y="282.5" width="1.02" height="14.57" fill="#ff8e13"/>
<rect x="369" y="282.5" width="1.02" height="14.57" fill="#ff7c00"/>
<rect x="370" y="282.5" width="1.02" height="14.57" fill="#ff8603"/>
<rect x="371" y="282.5" width="1.02" height="14.57" fill="#ff7200"/>
<rect x="372" y="282.5" width="1.02" height="14.57" fill="#ff6c00"/>
<rect x="373" y="282.5" width="1.02" height="14.57" fill="#ff8604"/>
<rect x="374" y="282.5" width="1.02" height="14.57" fill="#ff7100"/>
<rect x="375" y="282.5" width="1.02" height="14.57" fill="#ff8400"/>
<rect x="376" y="282.5" width="1.02" height="14.57" fill="#ff6a00"/>
<rect x="377" y="282.5" width="1.02" height="14.57" fill="#ff8d12"/>
<rect x="378" y="282.5" width="1.02" height="14.57" fill="#fe6600"/>
<rect x="379" y="282.5" width="1.02" height="14.57" fill="#e54600"/>
<rect x="380" y="282.5" width="1.02" height="14.57" fill="#e64700"/>
<rect x="381" y="282.5" width="1.02" height="14.57" fill="#eb4e00"/>
<rect x="382" y="282.5" width="1.02" height="14.57" fill="#f15500"/>
<rect x="383" y="282.5" width="1.02" height="14.57" fill="#df3e00"/>
<rect x="384" y="282.5" width="1.02" height="14.57" fill="#e74800"/>
<rect x="385" y="282.5" width="1.02" height="14.57" fill="#f15500"/>
<rect x="386" y="282.5" width="1.02" height="14.57" fill="#fa6100"/>
<rect x="387" y="282.5" width="1.02" height="14.57" fill="#ff7e00"/>
<rect x="388" y="282.5" width="1.02" height="14.57" fill="#ff8100"/>
<rect x="389" y="282.5" width="1.02" height="14.57" fill="#ff7c00"/>
<rect x="390" y="282.5" width="1.02" height="14.57" fill="#ff8f16"/>
<rect x="391" y="282.5" width="1.02" height="14.57" fill="#ff8000"/>
<rect x="392" y="282.5" width="1.02" height="14.57" fill="#ff8a0c"/>
<rect x="393" y="282.5" width="1.02" height="14.57" fill="#ff8400"/>
<rect x="394" y="282.5" width="1.02" height="14.57" fill="#ff7e00"/>
<rect x="395" y="282.5" width="1.02" height="14.57" fill="#ff8400"/>
<rect x="396" y="282.5" width="1.02" height="14.57" fill="#ff8704"/>
<rect x="397" y="282.5" width="1.02" height="14.57" fill="#ff8100"/>
<rect x="398" y="282.5" width="1.02" height="14.57" fill="#ff8e14"/>
<rect x="399" y="282.5" width="1.02" height="14.57" fill="#ff8705"/>
<rect x="400" y="282.5" width="1.02" height="14.57" fill="#ff8501"/>
<rect x="401" y="282.5" width="1.02" height="14.57" fill="#ffa039"/>
<rect x="402" y="282.5" width="1.02" height="14.57" fill="#ff8b0d"/>
<rect x="403" y="282.5" width="1.02" height="14.57" fill="#ff9017"/>
<rect x="404" y="282.5" width="1.02" height="14.57" fill="#ff8603"/>
<rect x="405" y="282.5" width="1.02" height="14.57" fill="#ff8100"/>
<rect x="406" y="282.5" width="1.02" height="14.57" fill="#ff9522"/>
<rect x="407" y="282.5" width="1.02" height="14.57" fill="#ff7a00"/>
<rect x="408" y="282.5" width="1.02" height="14.57" fill="#ff8704"/>
<rect x="409" y="282.5" width="1.02" height="14.57" fill="#ff7a00"/>
<rect x="410" y="282.5" width="1.02" height="14.57" fill="#ff8c10"/>
<rect x="411" y="282.5" width="1.02" height="14.57" fill="#ff8d11"/>
<rect x="412" y="282.5" width="1.02" height="14.57" fill="#ff9119"/>
<rect x="413" y="282.5" width="1.02" height="14.57" fill="#ff8300"/>
<rect x="414" y="282.5" width="1.02" height="14.57" fill="#ff7b00"/>
<rect x="415" y="282.5" width="1.02" height="14.57" fill="#ff8000"/>
<rect x="416" y="282.5" width="1.02" height="14.57" fill="#ff7500"/>
<rect x="417" y="282.5" width="1.02" height="14.57" fill="#ff7e00"/>
<rect x="418" y="282.5" width="1.02" height="14.57" fill="#ff8f17"/>
<rect x="419" y="282.5" width="1.02" height="14.57" fill="#ff8100"/>
<rect x="420" y="282.5" width="1.02" height="14.57" fill="#fc6300"/>
<rect x="421" y="282.5" width="1.02" height="14.57" fill="#ff7a00"/>
<rect x="422" y="282.5" width="1.02" height="14.57" fill="#ff6b00"/>
<rect x="423" y="282.5" width="1.02" height="14.57" fill="#ff6800"/>
<rect x="424" y="282.5" width="1.02" height="14.57" fill="#ff6900"/>
<rect x="425" y="282.5" width="1.02" height="14.57" fill="#fb6300"/>
<rect x="426" y="282.5" width="2.02" height="14.57" fill="#fe6600"/>
<rect x="428" y="282.5" width="1.02" height="14.57" fill="#fe6700"/>
<rect x="429" y="282.5" width="1.02" height="14.57" fill="#fd6600"/>
<rect x="430" y="282.5" width="1.02" height="14.57" fill="#ff6f00"/>
<rect x="431" y="282.5" width="1.02" height="14.57" fill="#ff7300"/>
<rect x="432" y="282.5" width="1.02" height="14.57" fill="#ff6f00"/>
<rect x="433" y="282.5" width="1.02" height="14.57" fill="#ff7b00"/>
<rect x="434" y="282.5" width="1.02" height="14.57" fill="#ff6900"/>
<rect x="435" y="282.5" width="1.02" height="14.57" fill="#fd6500"/>
<rect x="436" y="282.5" width="1.02" height="14.57" fill="#f96000"/>
<rect x="437" y="282.5" width="1.02" height="14.57" fill="#ff7700"/>
<rect x="438" y="282.5" width="1.02" height="14.57" fill="#ff6c00"/>
<rect x="439" y="282.5" width="1.02" height="14.57" fill="#fb6200"/>
<rect x="440" y="282.5" width="2.02" height="14.57" fill="#ff7100"/>
<rect x="442" y="282.5" width="1.02" height="14.57" fill="#ff6e00"/>
<rect x="443" y="282.5" width="1.02" height="14.57" fill="#ffa038"/>
<rect x="444" y="282.5" width="1.02" height="14.57" fill="#ff8706"/>
<rect x="445" y="282.5" width="1.02" height="14.57" fill="#ff7f00"/>
<rect x="446" y="282.5" width="1.02" height="14.57" fill="#ff8d11"/>
<rect x="447" y="282.5" width="1.02" height="14.57" fill="#ff7b00"/>
<rect x="448" y="282.5" width="1.02" height="14.57" fill="#ff7d00"/>
<rect x="449" y="282.5" width="1.02" height="14.57" fill="#ff8100"/>
<rect x="450" y="282.5" width="1.02" height="14.57" fill="#ff8d11"/>
<rect x="451" y="282.5" width="1.02" height="14.57" fill="#ff7300"/>
<rect x="452" y="282.5" width="1.02" height="14.57" fill="#ff8c0f"/>
<rect x="453" y="282.5" width="1.02" height="14.57" fill="#ff7600"/>
<rect x="454" y="282.5" width="1.02" height="14.57" fill="#ff9018"/>
<rect x="455" y="282.5" width="1.02" height="14.57" fill="#ff9119"/>
<rect x="456" y="282.5" width="1.02" height="14.57" fill="#ff8808"/>
<rect x="457" y="282.5" width="1.02" height="14.57" fill="#ff921b"/>
<rect x="458" y="282.5" width="1.02" height="14.57" fill="#ff8909"/>
<rect x="459" y="282.5" width="1.02" height="14.57" fill="#ff8604"/>
<rect x="460" y="282.5" width="1.02" height="14.57" fill="#ff8000"/>
<rect x="461" y="282.5" width="1.02" height="14.57" fill="#ff8200"/>
<rect x="462" y="282.5" width="1.02" height="14.57" fill="#ff7e00"/>
<rect x="463" y="282.5" width="1.02" height="14.57" fill="#ff8000"/>
<rect x="464" y="282.5" width="1.02" height="14.57" fill="#ff8e14"/>
<rect x="465" y="282.5" width="1.02" height="14.57" fill="#ff8c0f"/>
<rect x="466" y="282.5" width="1.02" height="14.57" fill="#ff8808"/>
<rect x="467" y="282.5" width="1.02" height="14.57" fill="#ff8604"/>
<rect x="468" y="282.5" width="1.02" height="14.57" fill="#ff7b00"/>
<rect x="469" y="282.5" width="1.02" height="14.57" fill="#ff8300"/>
<rect x="470" y="282.5" width="1.02" height="14.57" fill="#ff8d11"/>
<rect x="471" y="282.5" width="1.02" height="14.57" fill="#ff8908"/>
<rect x="472" y="282.5" width="1.02" height="14.57" fill="#ff8b0d"/>
<rect x="473" y="282.5" width="1.02" height="14.57" fill="#ff8502"/>
<rect x="474" y="282.5" width="1.02" height="14.57" fill="#ffcc95"/>
<rect x="475" y="282.5" width="1.02" height="14.57" fill="#ffd7ac"/>
<rect x="476" y="282.5" width="1.02" height="14.57" fill="#ffcd97"/>
<rect x="477" y="282.5" width="1.02" height="14.57" fill="#ffd6a8"/>
<rect x="478" y="282.5" width="1.02" height="14.57" fill="#ffcf9b"/>
<rect x="479" y="282.5" width="1.02" height="14.57" fill="#ffe4c7"/>
<rect x="480" y="282.5" width="1.02" height="14.57" fill="#ffd7aa"/>
<rect x="481" y="282.5" width="1.02" height="14.57" fill="#ffd3a2"/>
<rect x="482" y="282.5" width="1.02" height="14.57" fill="#ffd7aa"/>
<rect x="483" y="282.5" width="1.02" height="14.57" fill="#ffd3a4"/>
<rect x="484" y="282.5" width="1.02" height="14.57" fill="#ffd4a5"/>
<rect x="485" y="282.5" width="1.02" height="14.57" fill="#ffddb8"/>
<rect x="486" y="282.5" width="1.02" height="14.57" fill="#ffcf9b"/>
<rect x="487" y="282.5" width="1.02" height="14.57" fill="#ffd9b0"/>
<rect x="488" y="282.5" width="1.02" height="14.57" fill="#ffdfbc"/>
<rect x="489" y="282.5" width="1.02" height="14.57" fill="#ffd3a2"/>
<rect x="490" y="282.5" width="1.02" height="14.57" fill="#ffd8ac"/>
<rect x="491" y="282.5" width="1.02" height="14.57" fill="#ffddb8"/>
<rect x="492" y="282.5" width="1.02" height="14.57" fill="#ffd5a8"/>
<rect x="493" y="282.5" width="1.02" height="14.57" fill="#ffdeb9"/>
<rect x="494" y="282.5" width="0.52" height="14.57" fill="#ffd19e"/>
<rect x="323.5" y="296.17" width="0.52" height="14.57" fill="#fff1e1"/>
<rect x="324" y="296.17" width="2.02" height="14.57" fill="#fff3e5"/>
<rect x="326" y="296.17" width="1.02" height="14.57" fill="#fff5ea"/>
<rect x="327" y="296.17" width="1.02" height="14.57" fill="#fff4e7"/>
<rect x="328" y="296.17" width="1.02" height="14.57" fill="#fff6ec"/>
<rect x="329" y="296.17" width="1.02" height="14.57" fill="#fff6ea"/>
<rect x="330" y="296.17" width="1.02" height="14.57" fill="#fff4e7"/>
<rect x="331" y="296.17" width="1.02" height="14.57" fill="#fff7ed"/>
<rect x="332" y="296.17" width="1.02" height="14.57" fill="#fff3e5"/>
<rect x="333" y="296.17" width="1.02" height="14.57" fill="#fff2e3"/>
<rect x="334" y="296.17" width="1.02" height="14.57" fill="#fff5e9"/>
<rect x="335" y="296.17" width="1.02" height="14.57" fill="#fff6ec"/>
<rect x="336" y="296.17" width="1.02" height="14.57" fill="#fff8ef"/>
<rect x="337" y="296.17" width="1.02" height="14.57" fill="#fff4e8"/>
<rect x="338" y="296.17" width="1.02" height="14.57" fill="#fff8ef"/>
<rect x="339" y="296.17" width="1.02" height="14.57" fill="#fff3e5"/>
<rect x="340" y="296.17" width="1.02" height="14.57" fill="#fff2e3"/>
<rect x="341" y="296.17" width="1.02" height="14.57" fill="#fff6eb"/>
<rect x="342" y="296.17" width="1.02" height="14.57" fill="#fff5e9"/>
<rect x="343" y="296.17" width="1.02" height="14.57" fill="#fff2e2"/>
<rect x="344" y="296.17" width="1.02" height="14.57" fill="#fff3e4"/>
<rect x="345" y="296.17" width="1.02" height="14.57" fill="#fff8f0"/>
<rect x="346" y="296.17" width="1.02" height="14.57" fill="#fff4e8"/>
<rect x="347" y="296.17" width="1.02" height="14.57" fill="#fff8f0"/>
<rect x="348" y="296.17" width="1.02" height="14.57" fill="#fff1e2"/>
<rect x="349" y="296.17" width="1.02" height="14.57" fill="#fff5e9"/>
<rect x="350" y="296.17" width="1.02" height="14.57" fill="#ffedd8"/>
<rect x="351" y="296.17" width="1.02" height="14.57" fill="#ffe2c1"/>
<rect x="352" y="296.17" width="1.02" height="14.57" fill="#ffd6a9"/>
<rect x="353" y="296.17" width="1.02" height="14.57" fill="#ffd9af"/>
<rect x="354" y="296.17" width="1.02" height="14.57" fill="#ffd4a5"/>
<rect x="355" y="296.17" width="1.02" height="14.57" fill="#ffe2c2"/>
<rect x="356" y="296.17" width="1.02" height="14.57" fill="#ffbf79"/>
<rect x="357" y="296.17" width="1.02" height="14.57" fill="#ffb462"/>
<rect x="358" y="296.17" width="1.02" height="14.57" fill="#ffba6e"/>
<rect x="359" y="296.17" width="1.02" height="14.57" fill="#ffa645"/>
<rect x="360" y="296.17" width="1.02" height="14.57" fill="#ffb361"/>
<rect x="361" y="296.17" width="1.02" height="14.57" fill="#ffa747"/>
<rect x="362" y="296.17" width="1.02" height="14.57" fill="#f45900"/>
<rect x="363" y="296.17" width="1.02" height="14.57" fill="#ef5300"/>
<rect x="364" y="296.17" width="1.02" height="14.57" fill="#f45a00"/>
<rect x="365" y="296.17" width="1.02" height="14.57" fill="#f35900"/>
<rect x="366" y="296.17" width="1.02" height="14.57" fill="#d93600"/>
<rect x="367" y="296.17" width="1.02" height="14.57" fill="#e54600"/>
<rect x="368" y="296.17" width="1.02" height="14.57" fill="#ea4c00"/>
<rect x="369" y="296.17" width="1.02" height="14.57" fill="#e94c00"/>
<rect x="370" y="296.17" width="1.02" height="14.57" fill="#f25700"/>
<rect x="371" y="296.17" width="1.02" height="14.57" fill="#ffdeba"/>
<rect x="372" y="296.17" width="1.02" height="14.57" fill="#ffd5a8"/>
<rect x="373" y="296.17" width="1.02" height="14.57" fill="#ffead3"/>
<rect x="374" y="296.17" width="1.02" height="14.57" fill="#ffdab1"/>
<rect x="375" y="296.17" width="1.02" height="14.57" fill="#ffe7cd"/>
<rect x="376" y="296.17" width="1.02" height="14.57" fill="#ffe0be"/>
<rect x="377" y="296.17" width="1.02" height="14.57" fill="#ffe3c4"/>
<rect x="378" y="296.17" width="1.02" height="14.57" fill="#ffdab1"/>
<rect x="379" y="296.17" width="1.02" height="14.57" fill="#ffdcb6"/>
<rect x="380" y="296.17" width="1.02" height="14.57" fill="#ffe2c2"/>
<rect x="381" y="296.17" width="1.02" height="14.57" fill="#ffdeba"/>
<rect x="382" y="296.17" width="1.02" height="14.57" fill="#ffe6ca"/>
<rect x="383" y="296.17" width="1.02" height="14.57" fill="#ffe1bf"/>
<rect x="384" y="296.17" width="1.02" height="14.57" fill="#ffe4c6"/>
<rect x="385" y="296.17" width="1.02" height="14.57" fill="#ffddb7"/>
<rect x="386" y="296.17" width="1.02" height="14.57" fill="#ffdfbd"/>
<rect x="387" y="296.17" width="1.02" height="14.57" fill="#ffdeba"/>
<rect x="388" y="296.17" width="1.02" height="14.57" fill="#ffdfbc"/>
<rect x="389" y="296.17" width="1.02" height="14.57" fill="#b20400"/>
<rect x="390" y="296.17" width="1.02" height="14.57" fill="#c71f00"/>
<rect x="391" y="296.17" width="1.02" height="14.57" fill="#c41b00"/>
<rect x="392" y="296.17" width="1.02" height="14.57" fill="#cc2600"/>
<rect x="393" y="296.17" width="1.02" height="14.57" fill="#ac0000"/>
<rect x="394" y="296.17" width="1.02" height="14.57" fill="#ce2800"/>
<rect x="395" y="296.17" width="1.02" height="14.57" fill="#d93700"/>
<rect x="396" y="296.17" width="1.02" height="14.57" fill="#cf2900"/>
<rect x="397" y="296.17" width="1.02" height="14.57" fill="#d32e00"/>
<rect x="398" y="296.17" width="1.02" height="14.57" fill="#ca2300"/>
<rect x="399" y="296.17" width="1.02" height="14.57" fill="#d43000"/>
<rect x="400" y="296.17" width="1.02" height="14.57" fill="#c92200"/>
<rect x="401" y="296.17" width="1.02" height="14.57" fill="#dc3b00"/>
<rect x="402" y="296.17" width="1.02" height="14.57" fill="#d32e00"/>
<rect x="403" y="296.17" width="1.02" height="14.57" fill="#c61d00"/>
<rect x="404" y="296.17" width="1.02" height="14.57" fill="#cf2900"/>
<rect x="405" y="296.17" width="1.02" height="14.57" fill="#bf1500"/>
<rect x="406" y="296.17" width="1.02" height="14.57" fill="#d12b00"/>
<rect x="407" y="296.17" width="1.02" height="14.57" fill="#b70b00"/>
<rect x="408" y="296.17" width="1.02" height="14.57" fill="#bd1200"/>
<rect x="409" y="296.17" width="1.02" height="14.57" fill="#d12c00"/>
<rect x="410" y="296.17" width="1.02" height="14.57" fill="#d83500"/>
<rect x="411" y="296.17" width="1.02" height="14.57" fill="#d73400"/>
<rect x="412" y="296.17" width="1.02" height="14.57" fill="#ca2300"/>
<rect x="413" y="296.17" width="1.02" height="14.57" fill="#c21900"/>
<rect x="414" y="296.17" width="1.02" height="14.57" fill="#b90d00"/>
<rect x="415" y="296.17" width="1.02" height="14.57" fill="#c21800"/>
<rect x="416" y="296.17" width="1.02" height="14.57" fill="#b50800"/>
<rect x="417" y="296.17" width="1.02" height="14.57" fill="#be1300"/>
<rect x="418" y="296.17" width="1.02" height="14.57" fill="#ff9727"/>
<rect x="419" y="296.17" width="1.02" height="14.57" fill="#ff8f16"/>
<rect x="420" y="296.17" width="1.02" height="14.57" fill="#ffddb7"/>
<rect x="421" y="296.17" width="1.02" height="14.57" fill="#ffdeba"/>
<rect x="422" y="296.17" width="1.02" height="14.57" fill="#ffd4a5"/>
<rect x="423" y="296.17" width="1.02" height="14.57" fill="#ffdab2"/>
<rect x="424" y="296.17" width="1.02" height="14.57" fill="#ffdfbb"/>
<rect x="425" y="296.17" width="1.02" height="14.57" fill="#ffd7ab"/>
<rect x="426" y="296.17" width="1.02" height="14.57" fill="#ffdbb4"/>
<rect x="427" y="296.17" width="1.02" height="14.57" fill="#ffd7aa"/>
<rect x="428" y="296.17" width="1.02" height="14.57" fill="#ffd8ac"/>
<rect x="429" y="296.17" width="1.02" height="14.57" fill="#ffd9b0"/>
<rect x="430" y="296.17" width="1.02" height="14.57" fill="#ffdab2"/>
<rect x="431" y="296.17" width="1.02" height="14.57" fill="#ffe2c2"/>
<rect x="432" y="296.17" width="1.02" height="14.57" fill="#ffe6ca"/>
<rect x="433" y="296.17" width="1.02" height="14.57" fill="#ffdab2"/>
<rect x="434" y="296.17" width="1.02" height="14.57" fill="#ffdeb9"/>
<rect x="435" y="296.17" width="1.02" height="14.57" fill="#ffdbb3"/>
<rect x="436" y="296.17" width="1.02" height="14.57" fill="#ffdbb2"/>
<rect x="437" y="296.17" width="1.02" height="14.57" fill="#ffdeba"/>
<rect x="438" y="296.17" width="1.02" height="14.57" fill="#ffdcb5"/>
<rect x="439" y="296.17" width="1.02" height="14.57" fill="#ffe0bd"/>
<rect x="440" y="296.17" width="1.02" height="14.57" fill="#ffddb7"/>
<rect x="441" y="296.17" width="1.02" height="14.57" fill="#ffdeb9"/>
<rect x="442" y="296.17" width="1.02" height="14.57" fill="#ffd6a9"/>
<rect x="443" y="296.17" width="2.02" height="14.57" fill="#ff9a2c"/>
<rect x="445" y="296.17" width="1.02" height="14.57" fill="#b70a00"/>
<rect x="446" y="296.17" width="1.02" height="14.57" fill="#b80c00"/>
<rect x="447" y="296.17" width="1.02" height="14.57" fill="#b40700"/>
<rect x="448" y="296.17" width="1.02" height="14.57" fill="#c92200"/>
<rect x="449" y="296.17" width="1.02" height="14.57" fill="#c31900"/>
<rect x="450" y="296.17" width="1.02" height="14.57" fill="#cb2400"/>
<rect x="451" y="296.17" width="1.02" height="14.57" fill="#b80c00"/>
<rect x="452" y="296.17" width="1.02" height="14.57" fill="#cc2600"/>
<rect x="453" y="296.17" width="1.02" height="14.57" fill="#c21900"/>
<rect x="454" y="296.17" width="1.02" height="14.57" fill="#cd2700"/>
<rect x="455" y="296.17" width="1.02" height="14.57" fill="#bf1400"/>
<rect x="456" y="296.17" width="1.02" height="14.57" fill="#cf2900"/>
<rect x="457" y="296.17" width="1.02" height="14.57" fill="#d53200"/>
<rect x="458" y="296.17" width="1.02" height="14.57" fill="#d63300"/>
<rect x="459" y="296.17" width="1.02" height="14.57" fill="#cc2500"/>
<rect x="460" y="296.17" width="1.02" height="14.57" fill="#b50700"/>
<rect x="461" y="296.17" width="1.02" height="14.57" fill="#b20300"/>
<rect x="462" y="296.17" width="1.02" height="14.57" fill="#c41b00"/>
<rect x="463" y="296.17" width="1.02" height="14.57" fill="#cc2500"/>
<rect x="464" y="296.17" width="1.02" height="14.57" fill="#bd1200"/>
<rect x="465" y="296.17" width="1.02" height="14.57" fill="#c11700"/>
<rect x="466" y="296.17" width="1.02" height="14.57" fill="#da3800"/>
<rect x="467" y="296.17" width="1.02" height="14.57" fill="#c01600"/>
<rect x="468" y="296.17" width="1.02" height="14.57" fill="#b10300"/>
<rect x="469" y="296.17" width="1.02" height="14.57" fill="#d02a00"/>
<rect x="470" y="296.17" width="1.02" height="14.57" fill="#d12c00"/>
<rect x="471" y="296.17" width="1.02" height="14.57" fill="#ff921c"/>
<rect x="472" y="296.17" width="1.02" height="14.57" fill="#ff8c0f"/>
<rect x="473" y="296.17" width="1.02" height="14.57" fill="#ff9726"/>
<rect x="474" y="296.17" width="1.02" height="14.57" fill="#ffd7aa"/>
<rect x="475" y="296.17" width="1.02" height="14.57" fill="#ffd3a2"/>
<rect x="476" y="296.17" width="1.02" height="14.57" fill="#ffd8ad"/>
<rect x="477" y="296.17" width="1.02" height="14.57" fill="#ffd5a7"/>
<rect x="478" y="296.17" width="1.02" height="14.57" fill="#ffdab1"/>
<rect x="479" y="296.17" width="1.02" height="14.57" fill="#ffe6cb"/>
<rect x="480" y="296.17" width="1.02" height="14.57" fill="#ffd6a8"/>
<rect x="481" y="296.17" width="1.02" height="14.57" fill="#ffd4a5"/>
<rect x="482" y="296.17" width="1.02" height="14.57" fill="#ffd9b0"/>
<rect x="483" y="296.17" width="1.02" height="14.57" fill="#ffd4a5"/>
<rect x="484" y="296.17" width="1.02" height="14.57" fill="#ffd09d"/>
<rect x="485" y="296.17" width="1.02" height="14.57" fill="#ffdab0"/>
<rect x="486" y="296.17" width="1.02" height="14.57" fill="#ffd8ac"/>
<rect x="487" y="296.17" width="1.02" height="14.57" fill="#ffddb7"/>
<rect x="488" y="296.17" width="1.02" height="14.57" fill="#ffd8ae"/>
<rect x="489" y="296.17" width="1.02" height="14.57" fill="#ffd8ac"/>
<rect x="490" y="296.17" width="1.02" height="14.57" fill="#ffdab0"/>
<rect x="491" y="296.17" width="1.02" height="14.57" fill="#ffddb7"/>
<rect x="492" y="296.17" width="1.02" height="14.57" fill="#ffd4a5"/>
<rect x="493" y="296.17" width="1.02" height="14.57" fill="#ffdfbb"/>
<rect x="494" y="296.17" width="0.52" height="14.57" fill="#ffddb7"/>
<rect x="323.5" y="309.83" width="0.52" height="13.67" fill="#fff1e1"/>
<rect x="324" y="309.83" width="1.02" height="13.67" fill="#fff4e8"/>
<rect x="325" y="309.83" width="2.02" height="13.67" fill="#fff5e8"/>
<rect x="327" y="309.83" width="1.02" height="13.67" fill="#fff7ee"/>
<rect x="328" y="309.83" width="1.02" height="13.67" fill="#fff9f1"/>
<rect x="329" y="309.83" width="2.02" height="13.67" fill="#fff7ed"/>
<rect x="331" y="309.83" width="1.02" height="13.67" fill="#fff6ea"/>
<rect x="332" y="309.83" width="1.02" height="13.67" fill="#fff8ef"/>
<rect x="333" y="309.83" width="1.02" height="13.67" fill="#fff6ec"/>
<rect x="334" y="309.83" width="2.02" height="13.67" fill="#fff7ee"/>
<rect x="336" y="309.83" width="1.02" height="13.67" fill="#fff5e9"/>
<rect x="337" y="309.83" width="1.02" height="13.67" fill="#fff6eb"/>
<rect x="338" y="309.83" width="1.02" height="13.67" fill="#fff9f1"/>
<rect x="339" y="309.83" width="1.02" height="13.67" fill="#fff6eb"/>
<rect x="340" y="309.83" width="1.02" height="13.67" fill="#fff5ea"/>
<rect x="341" y="309.83" width="1.02" height="13.67" fill="#fff6ec"/>
<rect x="342" y="309.83" width="1.02" height="13.67" fill="#fff7ed"/>
<rect x="343" y="309.83" width="1.02" height="13.67" fill="#fff4e6"/>
<rect x="344" y="309.83" width="1.02" height="13.67" fill="#fff7ed"/>
<rect x="345" y="309.83" width="1.02" height="13.67" fill="#fff7ee"/>
<rect x="346" y="309.83" width="1.02" height="13.67" fill="#fff5e9"/>
<rect x="347" y="309.83" width="1.02" height="13.67" fill="#fff6eb"/>
<rect x="348" y="309.83" width="1.02" height="13.67" fill="#fff4e8"/>
<rect x="349" y="309.83" width="1.02" height="13.67" fill="#fff5ea"/>
<rect x="350" y="309.83" width="1.02" height="13.67" fill="#ffefdd"/>
<rect x="351" y="309.83" width="1.02" height="13.67" fill="#fff2e3"/>
<rect x="352" y="309.83" width="1.02" height="13.67" fill="#ffe9d0"/>
<rect x="353" y="309.83" width="1.02" height="13.67" fill="#ffecd7"/>
<rect x="354" y="309.83" width="1.02" height="13.67" fill="#ffebd4"/>
<rect x="355" y="309.83" width="1.02" height="13.67" fill="#fff7ee"/>
<rect x="356" y="309.83" width="1.02" height="13.67" fill="#ffe2c2"/>
<rect x="357" y="309.83" width="1.02" height="13.67" fill="#ffe5c7"/>
<rect x="358" y="309.83" width="1.02" height="13.67" fill="#ffe7cb"/>
<rect x="359" y="309.83" width="1.02" height="13.67" fill="#ffd9ae"/>
<rect x="360" y="309.83" width="1.02" height="13.67" fill="#ffead3"/>
<rect x="361" y="309.83" width="1.02" height="13.67" fill="#ffddb7"/>
<rect x="362" y="309.83" width="1.02" height="13.67" fill="#ffc88d"/>
<rect x="363" y="309.83" width="1.02" height="13.67" fill="#ffca90"/>
<rect x="364" y="309.83" width="1.02" height="13.67" fill="#ffd19f"/>
<rect x="365" y="309.83" width="1.02" height="13.67" fill="#ffd09d"/>
<rect x="366" y="309.83" width="1.02" height="13.67" fill="#ffbe76"/>
<rect x="367" y="309.83" width="1.02" height="13.67" fill="#ffc789"/>
<rect x="368" y="309.83" width="1.02" height="13.67" fill="#ffc688"/>
<rect x="369" y="309.83" width="1.02" height="13.67" fill="#ffca8f"/>
<rect x="370" y="309.83" width="1.02" height="13.67" fill="#ffcb91"/>
<rect x="371" y="309.83" width="1.02" height="13.67" fill="#ffeeda"/>
<rect x="372" y="309.83" width="1.02" height="13.67" fill="#ffead3"/>
<rect x="373" y="309.83" width="1.02" height="13.67" fill="#fff4e7"/>
<rect x="374" y="309.83" width="1.02" height="13.67" fill="#ffe9d1"/>
<rect x="375" y="309.83" width="1.02" height="13.67" fill="#fff6ea"/>
<rect x="376" y="309.83" width="1.02" height="13.67" fill="#ffeedb"/>
<rect x="377" y="309.83" width="1.02" height="13.67" fill="#fff0de"/>
<rect x="378" y="309.83" width="1.02" height="13.67" fill="#ffe4c6"/>
<rect x="379" y="309.83" width="1.02" height="13.67" fill="#ffebd4"/>
<rect x="380" y="309.83" width="1.02" height="13.67" fill="#ffecd7"/>
<rect x="381" y="309.83" width="1.02" height="13.67" fill="#ffedd8"/>
<rect x="382" y="309.83" width="1.02" height="13.67" fill="#ffe9d0"/>
<rect x="383" y="309.83" width="1.02" height="13.67" fill="#ffe8ce"/>
<rect x="384" y="309.83" width="1.02" height="13.67" fill="#fff1e2"/>
<rect x="385" y="309.83" width="1.02" height="13.67" fill="#ffebd4"/>
<rect x="386" y="309.83" width="1.02" height="13.67" fill="#ffe8cf"/>
<rect x="387" y="309.83" width="1.02" height="13.67" fill="#ffebd4"/>
<rect x="388" y="309.83" width="1.02" height="13.67" fill="#ffecd7"/>
<rect x="389" y="309.83" width="1.02" height="13.67" fill="#ff8100"/>
<rect x="390" y="309.83" width="1.02" height="13.67" fill="#ff8b0d"/>
<rect x="391" y="309.83" width="1.02" height="13.67" fill="#ff8f15"/>
<rect x="392" y="309.83" width="1.02" height="13.67" fill="#ff8300"/>
<rect x="393" y="309.83" width="1.02" height="13.67" fill="#ff7300"/>
<rect x="394" y="309.83" width="1.02" height="13.67" fill="#ff921c"/>
<rect x="395" y="309.83" width="1.02" height="13.67" fill="#ff7f00"/>
<rect x="396" y="309.83" width="1.02" height="13.67" fill="#ff8705"/>
<rect x="397" y="309.83" width="1.02" height="13.67" fill="#ff9625"/>
<rect x="398" y="309.83" width="1.02" height="13.67" fill="#ff8c0f"/>
<rect x="399" y="309.83" width="1.02" height="13.67" fill="#ff8500"/>
<rect x="400" y="309.83" width="1.02" height="13.67" fill="#ff7900"/>
<rect x="401" y="309.83" width="1.02" height="13.67" fill="#ffa13a"/>
<rect x="402" y="309.83" width="1.02" height="13.67" fill="#ff8000"/>
<rect x="403" y="309.83" width="1.02" height="13.67" fill="#ff8808"/>
<rect x="404" y="309.83" width="2.02" height="13.67" fill="#ff7c00"/>
<rect x="406" y="309.83" width="1.02" height="13.67" fill="#ffa038"/>
<rect x="407" y="309.83" width="1.02" height="13.67" fill="#ff8d11"/>
<rect x="408" y="309.83" width="1.02" height="13.67" fill="#ff8400"/>
<rect x="409" y="309.83" width="1.02" height="13.67" fill="#ff7c00"/>
<rect x="410" y="309.83" width="1.02" height="13.67" fill="#ff9b2f"/>
<rect x="411" y="309.83" width="1.02" height="13.67" fill="#ff8500"/>
<rect x="412" y="309.83" width="1.02" height="13.67" fill="#ff8f15"/>
<rect x="413" y="309.83" width="1.02" height="13.67" fill="#ff8000"/>
<rect x="414" y="309.83" width="1.02" height="13.67" fill="#ff7b00"/>
<rect x="415" y="309.83" width="1.02" height="13.67" fill="#ff890a"/>
<rect x="416" y="309.83" width="1.02" height="13.67" fill="#ff8602"/>
<rect x="417" y="309.83" width="1.02" height="13.67" fill="#ff8b0e"/>
<rect x="418" y="309.83" width="1.02" height="13.67" fill="#ff921c"/>
<rect x="419" y="309.83" width="1.02" height="13.67" fill="#ff8000"/>
<rect x="420" y="309.83" width="1.02" height="13.67" fill="#ffe2c2"/>
<rect x="421" y="309.83" width="1.02" height="13.67" fill="#ffe6c9"/>
<rect x="422" y="309.83" width="1.02" height="13.67" fill="#ffe8ce"/>
<rect x="423" y="309.83" width="1.02" height="13.67" fill="#ffe6ca"/>
<rect x="424" y="309.83" width="1.02" height="13.67" fill="#ffe7cb"/>
<rect x="425" y="309.83" width="1.02" height="13.67" fill="#ffe4c5"/>
<rect x="426" y="309.83" width="1.02" height="13.67" fill="#ffe7cc"/>
<rect x="427" y="309.83" width="1.02" height="13.67" fill="#ffe6c9"/>
<rect x="428" y="309.83" width="1.02" height="13.67" fill="#ffe3c5"/>
<rect x="429" y="309.83" width="1.02" height="13.67" fill="#ffe2c2"/>
<rect x="430" y="309.83" width="1.02" height="13.67" fill="#ffe5c8"/>
<rect x="431" y="309.83" width="1.02" height="13.67" fill="#ffe3c5"/>
<rect x="432" y="309.83" width="1.02" height="13.67" fill="#ffebd5"/>
<rect x="433" y="309.83" width="1.02" height="13.67" fill="#ffe4c5"/>
<rect x="434" y="309.83" width="1.02" height="13.67" fill="#ffe9d1"/>
<rect x="435" y="309.83" width="1.02" height="13.67" fill="#ffe0bd"/>
<rect x="436" y="309.83" width="1.02" height="13.67" fill="#ffe5c7"/>
<rect x="437" y="309.83" width="1.02" height="13.67" fill="#ffeedb"/>
<rect x="438" y="309.83" width="1.02" height="13.67" fill="#ffe7cc"/>
<rect x="439" y="309.83" width="1.02" height="13.67" fill="#ffe5c9"/>
<rect x="440" y="309.83" width="1.02" height="13.67" fill="#ffe6cb"/>
<rect x="441" y="309.83" width="1.02" height="13.67" fill="#ffe4c7"/>
<rect x="442" y="309.83" width="1.02" height="13.67" fill="#ffe8cf"/>
<rect x="443" y="309.83" width="1.02" height="13.67" fill="#ffc17d"/>
<rect x="444" y="309.83" width="1.02" height="13.67" fill="#ffb360"/>
<rect x="445" y="309.83" width="1.02" height="13.67" fill="#ffa645"/>
<rect x="446" y="309.83" width="1.02" height="13.67" fill="#ffaa4d"/>
<rect x="447" y="309.83" width="1.02" height="13.67" fill="#ffa038"/>
<rect x="448" y="309.83" width="1.02" height="13.67" fill="#ffaa4d"/>
<rect x="449" y="309.83" width="1.02" height="13.67" fill="#ffb96c"/>
<rect x="450" y="309.83" width="1.02" height="13.67" fill="#ffbd74"/>
<rect x="451" y="309.83" width="1.02" height="13.67" fill="#ffa543"/>
<rect x="452" y="309.83" width="1.02" height="13.67" fill="#ffb35f"/>
<rect x="453" y="309.83" width="1.02" height="13.67" fill="#ff931d"/>
<rect x="454" y="309.83" width="1.02" height="13.67" fill="#ffb25f"/>
<rect x="455" y="309.83" width="1.02" height="13.67" fill="#ffaa4d"/>
<rect x="456" y="309.83" width="1.02" height="13.67" fill="#ffba6e"/>
<rect x="457" y="309.83" width="1.02" height="13.67" fill="#ffa23d"/>
<rect x="458" y="309.83" width="1.02" height="13.67" fill="#ffb360"/>
<rect x="459" y="309.83" width="1.02" height="13.67" fill="#ff9d33"/>
<rect x="460" y="309.83" width="1.02" height="13.67" fill="#ffad53"/>
<rect x="461" y="309.83" width="1.02" height="13.67" fill="#ffa645"/>
<rect x="462" y="309.83" width="1.02" height="13.67" fill="#ffa543"/>
<rect x="463" y="309.83" width="1.02" height="13.67" fill="#ffb059"/>
<rect x="464" y="309.83" width="1.02" height="13.67" fill="#ffab4f"/>
<rect x="465" y="309.83" width="1.02" height="13.67" fill="#ffb361"/>
<rect x="466" y="309.83" width="1.02" height="13.67" fill="#ffaf58"/>
<rect x="467" y="309.83" width="1.02" height="13.67" fill="#ffa03a"/>
<rect x="468" y="309.83" width="1.02" height="13.67" fill="#ffac51"/>
<rect x="469" y="309.83" width="1.02" height="13.67" fill="#ffae56"/>
<rect x="470" y="309.83" width="1.02" height="13.67" fill="#ffb361"/>
<rect x="471" y="309.83" width="1.02" height="13.67" fill="#ffa23d"/>
<rect x="472" y="309.83" width="1.02" height="13.67" fill="#ffa13b"/>
<rect x="473" y="309.83" width="1.02" height="13.67" fill="#ff9b2e"/>
<rect x="474" y="309.83" width="2.02" height="13.67" fill="#ffe3c4"/>
<rect x="476" y="309.83" width="1.02" height="13.67" fill="#ffe2c1"/>
<rect x="477" y="309.83" width="1.02" height="13.67" fill="#ffdcb5"/>
<rect x="478" y="309.83" width="1.02" height="13.67" fill="#ffdfbc"/>
<rect x="479" y="309.83" width="1.02" height="13.67" fill="#ffe8ce"/>
<rect x="480" y="309.83" width="1.02" height="13.67" fill="#ffe4c5"/>
<rect x="481" y="309.83" width="1.02" height="13.67" fill="#ffdcb6"/>
<rect x="482" y="309.83" width="1.02" height="13.67" fill="#ffedd9"/>
<rect x="483" y="309.83" width="1.02" height="13.67" fill="#ffdfbc"/>
<rect x="484" y="309.83" width="1.02" height="13.67" fill="#ffdeba"/>
<rect x="485" y="309.83" width="1.02" height="13.67" fill="#ffe5c7"/>
<rect x="486" y="309.83" width="1.02" height="13.67" fill="#ffddb8"/>
<rect x="487" y="309.83" width="1.02" height="13.67" fill="#ffead3"/>
<rect x="488" y="309.83" width="1.02" height="13.67" fill="#ffe3c4"/>
<rect x="489" y="309.83" width="1.02" height="13.67" fill="#ffe0bd"/>
<rect x="490" y="309.83" width="1.02" height="13.67" fill="#ffe1c0"/>
<rect x="491" y="309.83" width="1.02" height="13.67" fill="#ffe7cd"/>
<rect x="492" y="309.83" width="1.02" height="13.67" fill="#ffdcb5"/>
<rect x="493" y="309.83" width="1.02" height="13.67" fill="#ffdfbb"/>
<rect x="494" y="309.83" width="0.52" height="13.67" fill="#ffddb8"/>
<line x1="370.7" y1="241.5" x2="370.7" y2="323.5" stroke="#fff" stroke-width="1.4" stroke-dasharray="6.5,3.2"/>
<line x1="389.4" y1="241.5" x2="389.4" y2="323.5" stroke="#fff" stroke-width="1.4" stroke-dasharray="6.5,3.2"/>
<line x1="420.3" y1="241.5" x2="420.3" y2="323.5" stroke="#fff" stroke-width="1.4" stroke-dasharray="6.5,3.2"/>
<line x1="442.8" y1="241.5" x2="442.8" y2="323.5" stroke="#fff" stroke-width="1.4" stroke-dasharray="6.5,3.2"/>
<line x1="474.1" y1="241.5" x2="474.1" y2="323.5" stroke="#fff" stroke-width="1.4" stroke-dasharray="6.5,3.2"/>
<text x="0" y="0" font-size="9.4" text-anchor="middle" fill="#1e0600" font-weight="normal" stroke="#1e0600" stroke-width="0.22" transform="translate(380,251.93) scale(1,1.1)">(ii)</text>
<text x="0" y="0" font-size="9.4" text-anchor="middle" fill="#1e0600" font-weight="normal" stroke="#1e0600" stroke-width="0.22" transform="translate(404.8,251.93) scale(1,1.1)">(i)</text>
<text x="0" y="0" font-size="9.4" text-anchor="middle" fill="#1e0600" font-weight="normal" stroke="#1e0600" stroke-width="0.22" transform="translate(431.5,251.93) scale(1,1.1)">(ii)</text>
<text x="0" y="0" font-size="9.4" text-anchor="middle" fill="#1e0600" font-weight="normal" stroke="#1e0600" stroke-width="0.22" transform="translate(458.4,251.93) scale(1,1.1)">(i)</text>
<text x="0" y="0" font-size="9.4" text-anchor="middle" fill="#1e0600" font-weight="normal" stroke="#1e0600" stroke-width="0.22" transform="translate(484.5,251.93) scale(1,1.1)">(iii)</text>
<line x1="363" y1="298.1" x2="377.3" y2="276.8" stroke="#fff" stroke-width="2" marker-end="url(#ah)"/>
<line x1="385.5" y1="279.7" x2="400.3" y2="302.3" stroke="#fff" stroke-width="2" marker-end="url(#ah)"/>
<line x1="411.1" y1="301.3" x2="426.5" y2="278.5" stroke="#fff" stroke-width="2" marker-end="url(#ah)"/>
<line x1="437.7" y1="279.7" x2="452.4" y2="302.3" stroke="#fff" stroke-width="2" marker-end="url(#ah)"/>
<line x1="462.3" y1="301.5" x2="482.2" y2="263.1" stroke="#fff" stroke-width="2" marker-end="url(#ah)"/>
<text x="0" y="0" font-size="9.4" text-anchor="start" fill="#1a0a00" font-weight="normal" stroke="#1a0a00" stroke-width="0.22" transform="translate(329.3,320.27) scale(1,1.1)">Strike-point</text>
<rect x="323.5" y="241.5" width="171" height="82" fill="none" stroke="#000" stroke-width="0.9" stroke-dasharray="2,1"/>
<line x1="323.5" y1="241.5" x2="323.5" y2="323.5" stroke="#000" stroke-width="0.9"/>
<text x="0" y="0" font-size="9.6" text-anchor="end" fill="#000" font-weight="normal" stroke="#000" stroke-width="0.22" transform="translate(321.3,252.23) scale(1,1.16)">6</text>
<text x="0" y="0" font-size="9.6" text-anchor="end" fill="#000" font-weight="normal" stroke="#000" stroke-width="0.22" transform="translate(321.3,265.9) scale(1,1.16)">5</text>
<text x="0" y="0" font-size="9.6" text-anchor="end" fill="#000" font-weight="normal" stroke="#000" stroke-width="0.22" transform="translate(321.3,279.57) scale(1,1.16)">4</text>
<text x="0" y="0" font-size="9.6" text-anchor="end" fill="#000" font-weight="normal" stroke="#000" stroke-width="0.22" transform="translate(321.3,293.23) scale(1,1.16)">3</text>
<text x="0" y="0" font-size="9.6" text-anchor="end" fill="#000" font-weight="normal" stroke="#000" stroke-width="0.22" transform="translate(321.3,306.9) scale(1,1.16)">2</text>
<text x="0" y="0" font-size="9.6" text-anchor="end" fill="#000" font-weight="normal" stroke="#000" stroke-width="0.22" transform="translate(321.3,320.57) scale(1,1.16)">1</text>
<text x="0" y="0" font-size="9.6" text-anchor="middle" fill="#000" font-weight="normal" stroke="#000" stroke-width="0.22" transform="translate(323.5,336.4) scale(1,1.16)">2</text>
<text x="0" y="0" font-size="9.6" text-anchor="middle" fill="#000" font-weight="normal" stroke="#000" stroke-width="0.22" transform="translate(352,336.4) scale(1,1.16)">3</text>
<text x="0" y="0" font-size="9.6" text-anchor="middle" fill="#000" font-weight="normal" stroke="#000" stroke-width="0.22" transform="translate(380.5,336.4) scale(1,1.16)">4</text>
<text x="0" y="0" font-size="9.6" text-anchor="middle" fill="#000" font-weight="normal" stroke="#000" stroke-width="0.22" transform="translate(409,336.4) scale(1,1.16)">5</text>
<text x="0" y="0" font-size="9.6" text-anchor="middle" fill="#000" font-weight="normal" stroke="#000" stroke-width="0.22" transform="translate(437.5,336.4) scale(1,1.16)">6</text>
<text x="0" y="0" font-size="9.6" text-anchor="middle" fill="#000" font-weight="normal" stroke="#000" stroke-width="0.22" transform="translate(466,336.4) scale(1,1.16)">7</text>
<text x="0" y="0" font-size="9.6" text-anchor="middle" fill="#000" font-weight="normal" stroke="#000" stroke-width="0.22" transform="translate(494.5,336.4) scale(1,1.16)">8</text>
<path d="M323.5,248.33h3M494.5,248.33h-3M323.5,262h3M494.5,262h-3M323.5,275.67h3M494.5,275.67h-3M323.5,289.33h3M494.5,289.33h-3M323.5,303h3M494.5,303h-3M323.5,316.67h3M494.5,316.67h-3M323.5,323.5v-2.5M352,323.5v-2.5M380.5,323.5v-2.5M409,323.5v-2.5M437.5,323.5v-2.5M466,323.5v-2.5M494.5,323.5v-2.5" stroke="#000" stroke-width="0.9" fill="none"/>
<text x="0" y="0" font-size="9.6" text-anchor="middle" fill="#000" font-weight="normal" stroke="#000" stroke-width="0.22" transform="translate(409.6,347.2) scale(1,1.2)">Time [s]</text>
<text x="0" y="0" font-size="9.6" text-anchor="middle" fill="#000" font-weight="normal" stroke="#000" stroke-width="0.22" transform="translate(308.6,282.5) rotate(-90)">Sightline</text>
<rect x="498.2" y="241.5" width="7.6" height="82" fill="url(#cbar)" stroke="#000" stroke-width="0.8"/>
<text x="0" y="0" font-size="9.6" text-anchor="start" fill="#000" font-weight="normal" stroke="#000" stroke-width="0.22" transform="translate(508.6,248.4) scale(1,1.16)">10</text>
<text x="0" y="0" font-size="9.6" text-anchor="start" fill="#000" font-weight="normal" stroke="#000" stroke-width="0.22" transform="translate(508.6,262.8) scale(1,1.16)">8</text>
<text x="0" y="0" font-size="9.6" text-anchor="start" fill="#000" font-weight="normal" stroke="#000" stroke-width="0.22" transform="translate(508.6,278.9) scale(1,1.16)">6</text>
<text x="0" y="0" font-size="9.6" text-anchor="start" fill="#000" font-weight="normal" stroke="#000" stroke-width="0.22" transform="translate(508.6,295.2) scale(1,1.16)">4</text>
<text x="0" y="0" font-size="9.6" text-anchor="start" fill="#000" font-weight="normal" stroke="#000" stroke-width="0.22" transform="translate(508.6,311.4) scale(1,1.16)">2</text>
<text x="0" y="0" font-size="9.6" text-anchor="start" fill="#000" font-weight="normal" stroke="#000" stroke-width="0.22" transform="translate(508.6,324.8) scale(1,1.16)">0</text>
<text x="0" y="0" font-size="9.2" text-anchor="middle" fill="#000" font-weight="normal" stroke="#000" stroke-width="0.22" transform="translate(527.8,283) rotate(-90)">10<tspan font-size="6.3" dy="-3.5">17</tspan><tspan dy="3.5"> ph/s/m</tspan><tspan font-size="6.3" dy="-3.5">2</tspan><tspan dy="3.5">/sr</tspan></text>
<text x="0" y="0" font-size="9.2" text-anchor="start" fill="#000" font-weight="normal" stroke="#000" stroke-width="0.22" transform="translate(310.5,362) scale(1,1.08)">(d) #40250: N II</text>
<g>
<clipPath id="cp3"><rect x="323.5" y="371.5" width="171" height="41"/></clipPath>
<g clip-path="url(#cp3)">
<polyline points="352.7,412.6 352.7,398.2 429.5,401.3 429.5,395 495,397.5" fill="none" stroke="#000" stroke-width="1.1" stroke-linejoin="round"/>
<polyline points="324,389.84 324.3,386.67 324.6,387.81 324.9,383.6 325.2,384.96 325.5,378.25 325.8,384.09 326.1,385.12 326.4,383.96 326.7,382.78 327,390.37 327.3,387.76 327.6,387.26 327.9,381.89 328.2,383.94 328.5,383.09 328.8,387.15 329.1,381.97 329.4,385.23 329.7,390.14 330,385.44 330.3,388.69 330.6,383.9 330.9,387.78 331.2,384.49 331.5,383.36 331.8,385.81 332.1,383.92 332.4,383.79 332.7,385.57 333,385.5 333.3,381.96 333.6,389.2 333.9,383.16 334.2,384.29 334.5,384.34 334.8,385.42 335.1,388.92 335.4,385.95 335.7,388.08 336,389.14 336.3,387.3 336.6,388.38 336.9,379.07 337.2,385.25 337.5,385.55 337.8,383.96 338.1,389.92 338.4,388.83 338.7,383.91 339,386.68 339.3,381.09 339.6,383.19 339.9,386 340.2,386.67 340.5,384.11 340.8,390.39 341.1,381.47 341.4,382.6 341.7,386.1 342,388.22 342.3,384.35 342.6,390.24 342.9,386.06 343.2,387.38 343.5,387.82 343.8,385.67 344.1,383.85 344.4,385.54 344.7,388.98 345,388.92 345.3,386.66 345.6,381.48 345.9,385.29 346.2,387.09 346.5,385.48 346.8,390.2 347.1,388.08 347.4,382.54 347.7,385.63 348,383.86 348.3,388.52 348.6,385.2 348.9,388.38 349.2,388.56 349.5,384.18 349.8,384.88 350.1,387.06 350.4,390.4 350.7,384.29 351,385.53 351.3,384.41 351.6,383.58 351.9,387.19 352.2,386.44 352.5,385.66 352.8,385.56 353.1,385.34 353.4,386.85 353.7,387.32 354,388.28 354.3,385.49 354.6,390.01 354.9,389.13 355.2,384.59 355.5,388.74 355.8,388.67 356.1,389.68 356.4,389.02 356.7,389.4 357,389.37 357.3,389.78 357.6,386.93 357.9,390.37 358.2,389.32 358.5,389.45 358.8,389.34 359.1,389.78 359.4,388.98 359.7,389.96 360,390.05 360.3,389.91 360.6,390.39 360.9,390.98 361.2,390.3 361.5,390.75 361.8,392.93 362.1,389.54 362.4,388.72 362.7,389.88 363,390.58 363.3,391.89 363.6,389.11 363.9,388.96 364.2,388.92 364.5,388.53 364.8,390.71 365.1,390.03 365.4,389.59 365.7,389.88 366,391.71 366.3,389.01 366.6,389.72 366.9,389.22 367.2,390.48 367.5,389.46 367.8,388.04 368.1,388.53 368.4,389.86 368.7,389.13 369,392.7 369.3,388.74 369.6,392.17 369.9,390.98 370.2,391.24 370.5,390.64 370.8,389.27 371.1,390.73 371.4,391.79 371.7,392.08 372,393.15 372.3,391.85 372.6,393.36 372.9,392.95 373.2,393.19 373.5,394.54 373.8,394.37 374.1,394.74 374.4,394.9 374.7,394.51 375,394.87 375.3,393.89 375.6,394.13 375.9,393.18 376.2,396.52 376.5,396.22 376.8,397.16 377.1,397.4 377.4,397.04 377.7,397.51 378,397.13 378.3,397.81 378.6,399.13 378.9,399.02 379.2,398.5 379.5,398.28 379.8,398.53 380.1,400.79 380.4,399.68 380.7,399.67 381,401.01 381.3,400.45 381.6,400.75 381.9,400.84 382.2,400.22 382.5,401.54 382.8,400.03 383.1,399.41 383.4,400.3 383.7,399.36 384,400.35 384.3,400.8 384.6,398.45 384.9,399.03 385.2,400.36 385.5,400.61 385.8,400.36 386.1,401.36 386.4,399.12 386.7,398.93 387,398.99 387.3,399.48 387.6,399.57 387.9,398.84 388.2,400.14 388.5,400.14 388.8,399.87 389.1,397.94 389.4,397.86 389.7,394.45 390,394.08 390.3,393.1 390.6,393.34 390.9,390.52 391.2,389.98 391.5,391.22 391.8,389.31 392.1,385.22 392.4,384.93 392.7,381.41 393,382.77 393.3,385.06 393.6,384.06 393.9,382.29 394.2,379.64 394.5,382.95 394.8,382.19 395.1,385.71 395.4,387.91 395.7,385.61 396,386.01 396.3,383.02 396.6,383.56 396.9,382.31 397.2,386.49 397.5,380.28 397.8,380.45 398.1,384.3 398.4,382.52 398.7,383.75 399,380.33 399.3,381.12 399.6,386.02 399.9,386.34 400.2,384.37 400.5,383.96 400.8,382.67 401.1,383.64 401.4,385.08 401.7,381.85 402,383.24 402.3,384.84 402.6,386.26 402.9,382.96 403.2,384.65 403.5,382.45 403.8,377.32 404.1,385.38 404.4,385.97 404.7,385.28 405,384.3 405.3,382.15 405.6,385.55 405.9,380.72 406.2,386.76 406.5,383.42 406.8,385.44 407.1,385.41 407.4,384.55 407.7,382.38 408,378.16 408.3,384.06 408.6,384.67 408.9,385.46 409.2,384.68 409.5,384.01 409.8,386.86 410.1,379.22 410.4,378.56 410.7,385.04 411,380.26 411.3,383.2 411.6,383.05 411.9,388.05 412.2,381.03 412.5,384.91 412.8,381.2 413.1,383.1 413.4,386.85 413.7,383.75 414,386.34 414.3,383.72 414.6,385.97 414.9,384.99 415.2,385.04 415.5,382.3 415.8,385.82 416.1,386.56 416.4,385.67 416.7,380.27 417,384.35 417.3,386.19 417.6,387.82 417.9,390.31 418.2,390.94 418.5,392.72 418.8,393.76 419.1,394.54 419.4,396.66 419.7,396.58 420,396.92 420.3,396.87 420.6,397.96 420.9,399.52 421.2,397.84 421.5,400.8 421.8,398.59 422.1,400.74 422.4,401.42 422.7,401.04 423,400.32 423.3,400.17 423.6,400.07 423.9,401.71 424.2,401.28 424.5,400.54 424.8,402.01 425.1,401.09 425.4,401.35 425.7,401.7 426,401.48 426.3,401.41 426.6,402.02 426.9,401.81 427.2,401.49 427.5,400.83 427.8,401.76 428.1,401.51 428.4,401.76 428.7,401.96 429,400.97 429.3,402.83 429.6,400.21 429.9,400.63 430.2,400.73 430.5,402.01 430.8,401.7 431.1,403.23 431.4,404.08 431.7,404.16 432,403.68 432.3,404.16 432.6,403.17 432.9,403.42 433.2,398.88 433.5,403.86 433.8,406.3 434.1,403.06 434.4,405.31 434.7,404.45 435,403.96 435.3,403.75 435.6,403.68 435.9,403.65 436.2,404.21 436.5,404.22 436.8,404.3 437.1,404.25 437.4,405.17 437.7,404.55 438,404.53 438.3,404.73 438.6,405.07 438.9,405.21 439.2,406.9 439.5,405.06 439.8,406.51 440.1,405.25 440.4,404.75 440.7,406.35 441,405.6 441.3,405.42 441.6,402.5 441.9,403.62 442.2,402.4 442.5,401.5 442.8,400.6 443.1,399.5 443.4,398 443.7,396.5 444,394.94 444.3,398.14 444.6,392.27 444.9,391.55 445.2,389.74 445.5,384.98 445.8,389.99 446.1,385.55 446.4,384.95 446.7,384.81 447,384.5 447.3,375.4 447.6,385.49 447.9,385.85 448.2,384.35 448.5,383.91 448.8,385.69 449.1,384.95 449.4,382.66 449.7,380.43 450,385.28 450.3,389.46 450.6,384.31 450.9,385.93 451.2,386.7 451.5,383.07 451.8,385.12 452.1,388.47 452.4,385.48 452.7,382.2 453,384.32 453.3,384.88 453.6,383.23 453.9,387.38 454.2,384.99 454.5,384.68 454.8,391.27 455.1,385.29 455.4,388.29 455.7,385.74 456,386.41 456.3,385.99 456.6,385.08 456.9,383.84 457.2,383.35 457.5,388.97 457.8,385.51 458.1,379.79 458.4,381.77 458.7,385.44 459,383.49 459.3,382.69 459.6,385.09 459.9,383.76 460.2,383.68 460.5,385.17 460.8,390.21 461.1,383.25 461.4,385.31 461.7,387.98 462,384.53 462.3,386.28 462.6,384.26 462.9,382.78 463.2,386.46 463.5,386.15 463.8,385.28 464.1,386.2 464.4,384.78 464.7,387.36 465,386.98 465.3,384.94 465.6,386.08 465.9,385.05 466.2,383.68 466.5,385.92 466.8,384.67 467.1,384.34 467.4,385.69 467.7,385.61 468,386.19 468.3,387.16 468.6,386.41 468.9,385.25 469.2,387.37 469.5,383.24 469.8,382.84 470.1,386.6 470.4,388.4 470.7,390.2 471,392 471.3,393.8 471.6,395.6 471.9,397.4 472.2,398.96 472.5,398.17 472.8,399.51 473.1,401.64 473.4,401 473.7,403.88 474,403.02 474.3,405.76 474.6,407.34 474.9,406.42 475.2,406.82 475.5,407.33 475.8,405.85 476.1,406.81 476.4,408.31 476.7,407.21 477,407.55 477.3,406.13 477.6,405.93 477.9,407.43 478.2,406.22 478.5,405.57 478.8,406.46 479.1,405.86 479.4,407.52 479.7,407.47 480,407.34 480.3,407.25 480.6,408.41 480.9,407.51 481.2,408.43 481.5,407.51 481.8,408.83 482.1,406.98 482.4,402.28 482.7,408.03 483,406.93 483.3,407.86 483.6,405.89 483.9,406.59 484.2,406.33 484.5,408.88 484.8,406.97 485.1,407.67 485.4,406.22 485.7,407.79 486,405.81 486.3,408.33 486.6,406.7 486.9,406.89 487.2,405.92 487.5,407.69 487.8,407.24 488.1,406.21 488.4,406.09 488.7,406.4 489,407.25 489.3,406.76 489.6,408.88 489.9,407.6 490.2,407.95 490.5,409.03 490.8,405.52 491.1,407.02 491.4,407.46 491.7,408.84 492,407.12 492.3,407.44 492.6,407.98 492.9,406.69 493.2,408.25 493.5,406.16 493.8,406.9 494.1,406.73 494.4,407.14 494.7,408.3" fill="none" stroke="#ee0000" stroke-width="1.25" stroke-linejoin="round"/>
</g>
<rect x="323.5" y="371.5" width="171" height="41" fill="none" stroke="#000" stroke-width="0.9"/>
<line x1="494.5" y1="371.5" x2="494.5" y2="412.5" stroke="#ee0000" stroke-width="1"/>
<path d="M323.5,412.5v-2.5M323.5,371.5v2.5M352,412.5v-2.5M352,371.5v2.5M380.5,412.5v-2.5M380.5,371.5v2.5M409,412.5v-2.5M409,371.5v2.5M437.5,412.5v-2.5M437.5,371.5v2.5M466,412.5v-2.5M466,371.5v2.5M494.5,412.5v-2.5M494.5,371.5v2.5M323.5,374.2h3.5M323.5,386h3.5M323.5,397.8h3.5M323.5,409.6h3.5M323.5,374.2h1.8M323.5,376.56h1.8M323.5,378.92h1.8M323.5,381.28h1.8M323.5,383.64h1.8M323.5,386h1.8M323.5,388.36h1.8M323.5,390.72h1.8M323.5,393.08h1.8M323.5,395.44h1.8M323.5,397.8h1.8M323.5,400.16h1.8M323.5,402.52h1.8M323.5,404.88h1.8M323.5,407.24h1.8M323.5,409.6h1.8" stroke="#000" stroke-width="0.9" fill="none"/>
<path d="M494.5,374.4h-3.5M494.5,386h-3.5M494.5,397.6h-3.5M494.5,409.2h-3.5M494.5,374.4h-1.8M494.5,376.72h-1.8M494.5,379.04h-1.8M494.5,381.36h-1.8M494.5,383.68h-1.8M494.5,386h-1.8M494.5,388.32h-1.8M494.5,390.64h-1.8M494.5,392.96h-1.8M494.5,395.28h-1.8M494.5,397.6h-1.8M494.5,399.92h-1.8M494.5,402.24h-1.8M494.5,404.56h-1.8M494.5,406.88h-1.8M494.5,409.2h-1.8" stroke="#ee0000" stroke-width="0.9" fill="none"/>
<text x="0" y="0" font-size="9.6" text-anchor="end" fill="#000" font-weight="normal" stroke="#000" stroke-width="0.22" transform="translate(321.3,378.1) scale(1,1.16)">3</text>
<text x="0" y="0" font-size="9.6" text-anchor="end" fill="#000" font-weight="normal" stroke="#000" stroke-width="0.22" transform="translate(321.3,389.9) scale(1,1.16)">2</text>
<text x="0" y="0" font-size="9.6" text-anchor="end" fill="#000" font-weight="normal" stroke="#000" stroke-width="0.22" transform="translate(321.3,401.7) scale(1,1.16)">1</text>
<text x="0" y="0" font-size="9.6" text-anchor="end" fill="#000" font-weight="normal" stroke="#000" stroke-width="0.22" transform="translate(321.3,413.5) scale(1,1.16)">0</text>
<text x="0" y="0" font-size="9.6" text-anchor="start" fill="#ee0000" font-weight="normal" stroke="#ee0000" stroke-width="0.22" transform="translate(497.5,378.3) scale(1,1.16)">20</text>
<text x="0" y="0" font-size="9.6" text-anchor="start" fill="#ee0000" font-weight="normal" stroke="#ee0000" stroke-width="0.22" transform="translate(497.5,389.9) scale(1,1.16)">10</text>
<text x="0" y="0" font-size="9.6" text-anchor="start" fill="#ee0000" font-weight="normal" stroke="#ee0000" stroke-width="0.22" transform="translate(497.5,401.5) scale(1,1.16)">0</text>
<text x="0" y="0" font-size="9.6" text-anchor="start" fill="#ee0000" font-weight="normal" stroke="#ee0000" stroke-width="0.22" transform="translate(497.5,413.1) scale(1,1.16)">-10</text>
<text x="0" y="0" font-size="9.4" text-anchor="middle" fill="#000" font-weight="normal" stroke="#000" stroke-width="0.22" transform="translate(308.6,392) rotate(-90)">10<tspan font-size='5.6' dy='-4'>22</tspan></text>
<text transform="translate(336,405.8) scale(0.9,1)" font-size="10.3" font-family="Liberation Serif">Γ</text><text x="341.7" y="410.1" font-size="6.3" font-family="Liberation Serif">N</text>
</g>
<rect x="323.5" y="416.5" width="0.52" height="14.57" fill="#fff1e1"/>
<rect x="324" y="416.5" width="1.02" height="14.57" fill="#ffcc94"/>
<rect x="325" y="416.5" width="1.02" height="14.57" fill="#ffe3c4"/>
<rect x="326" y="416.5" width="1.02" height="14.57" fill="#ffcc94"/>
<rect x="327" y="416.5" width="1.02" height="14.57" fill="#ffd4a4"/>
<rect x="328" y="416.5" width="1.02" height="14.57" fill="#ffd7aa"/>
<rect x="329" y="416.5" width="1.02" height="14.57" fill="#ffcf9b"/>
<rect x="330" y="416.5" width="1.02" height="14.57" fill="#ffdab1"/>
<rect x="331" y="416.5" width="1.02" height="14.57" fill="#ffd19e"/>
<rect x="332" y="416.5" width="1.02" height="14.57" fill="#ffd8ad"/>
<rect x="333" y="416.5" width="1.02" height="14.57" fill="#ffcb93"/>
<rect x="334" y="416.5" width="1.02" height="14.57" fill="#ffd3a3"/>
<rect x="335" y="416.5" width="1.02" height="14.57" fill="#ffd5a6"/>
<rect x="336" y="416.5" width="1.02" height="14.57" fill="#ffcc93"/>
<rect x="337" y="416.5" width="1.02" height="14.57" fill="#ffd8ae"/>
<rect x="338" y="416.5" width="1.02" height="14.57" fill="#ffca90"/>
<rect x="339" y="416.5" width="1.02" height="14.57" fill="#ffeeda"/>
<rect x="340" y="416.5" width="1.02" height="14.57" fill="#fff1e0"/>
<rect x="341" y="416.5" width="1.02" height="14.57" fill="#ffdab2"/>
<rect x="342" y="416.5" width="1.02" height="14.57" fill="#ffd3a4"/>
<rect x="343" y="416.5" width="1.02" height="14.57" fill="#ffdab1"/>
<rect x="344" y="416.5" width="1.02" height="14.57" fill="#ffd9af"/>
<rect x="345" y="416.5" width="2.02" height="14.57" fill="#ffe4c6"/>
<rect x="347" y="416.5" width="1.02" height="14.57" fill="#ffdebb"/>
<rect x="348" y="416.5" width="1.02" height="14.57" fill="#ffd6aa"/>
<rect x="349" y="416.5" width="1.02" height="14.57" fill="#ffcb92"/>
<rect x="350" y="416.5" width="1.02" height="14.57" fill="#ffd6a8"/>
<rect x="351" y="416.5" width="1.02" height="14.57" fill="#ffcc94"/>
<rect x="352" y="416.5" width="1.02" height="14.57" fill="#ffd6a8"/>
<rect x="353" y="416.5" width="1.02" height="14.57" fill="#ffc789"/>
<rect x="354" y="416.5" width="1.02" height="14.57" fill="#ffc78a"/>
<rect x="355" y="416.5" width="1.02" height="14.57" fill="#ffc07b"/>
<rect x="356" y="416.5" width="1.02" height="14.57" fill="#ffa442"/>
<rect x="357" y="416.5" width="1.02" height="14.57" fill="#ffbd75"/>
<rect x="358" y="416.5" width="1.02" height="14.57" fill="#ff9828"/>
<rect x="359" y="416.5" width="1.02" height="14.57" fill="#ffa645"/>
<rect x="360" y="416.5" width="1.02" height="14.57" fill="#ff9523"/>
<rect x="361" y="416.5" width="1.02" height="14.57" fill="#ff9b2e"/>
<rect x="362" y="416.5" width="1.02" height="14.57" fill="#ff8c0f"/>
<rect x="363" y="416.5" width="1.02" height="14.57" fill="#ff9119"/>
<rect x="364" y="416.5" width="1.02" height="14.57" fill="#ff9522"/>
<rect x="365" y="416.5" width="1.02" height="14.57" fill="#ff9420"/>
<rect x="366" y="416.5" width="1.02" height="14.57" fill="#ff9b2f"/>
<rect x="367" y="416.5" width="1.02" height="14.57" fill="#ff9e36"/>
<rect x="368" y="416.5" width="1.02" height="14.57" fill="#ff9e35"/>
<rect x="369" y="416.5" width="1.02" height="14.57" fill="#ff8e15"/>
<rect x="370" y="416.5" width="1.02" height="14.57" fill="#ff8a0c"/>
<rect x="371" y="416.5" width="1.02" height="14.57" fill="#ff992b"/>
<rect x="372" y="416.5" width="1.02" height="14.57" fill="#ff921b"/>
<rect x="373" y="416.5" width="1.02" height="14.57" fill="#ff8502"/>
<rect x="374" y="416.5" width="1.02" height="14.57" fill="#ffa13b"/>
<rect x="375" y="416.5" width="1.02" height="14.57" fill="#ff8000"/>
<rect x="376" y="416.5" width="1.02" height="14.57" fill="#ff9b2e"/>
<rect x="377" y="416.5" width="1.02" height="14.57" fill="#ff8a0c"/>
<rect x="378" y="416.5" width="1.02" height="14.57" fill="#ff992a"/>
<rect x="379" y="416.5" width="1.02" height="14.57" fill="#ff8502"/>
<rect x="380" y="416.5" width="1.02" height="14.57" fill="#ff911b"/>
<rect x="381" y="416.5" width="1.02" height="14.57" fill="#ff7d00"/>
<rect x="382" y="416.5" width="1.02" height="14.57" fill="#ff8604"/>
<rect x="383" y="416.5" width="1.02" height="14.57" fill="#ff921b"/>
<rect x="384" y="416.5" width="1.02" height="14.57" fill="#ff8f16"/>
<rect x="385" y="416.5" width="1.02" height="14.57" fill="#ff8909"/>
<rect x="386" y="416.5" width="1.02" height="14.57" fill="#ff9a2c"/>
<rect x="387" y="416.5" width="1.02" height="14.57" fill="#ff9521"/>
<rect x="388" y="416.5" width="1.02" height="14.57" fill="#ff8602"/>
<rect x="389" y="416.5" width="1.02" height="14.57" fill="#ff8100"/>
<rect x="390" y="416.5" width="1.02" height="14.57" fill="#ff992b"/>
<rect x="391" y="416.5" width="1.02" height="14.57" fill="#ff7d00"/>
<rect x="392" y="416.5" width="1.02" height="14.57" fill="#ff8d11"/>
<rect x="393" y="416.5" width="1.02" height="14.57" fill="#ff8b0e"/>
<rect x="394" y="416.5" width="1.02" height="14.57" fill="#ff8a0c"/>
<rect x="395" y="416.5" width="1.02" height="14.57" fill="#ff8f15"/>
<rect x="396" y="416.5" width="1.02" height="14.57" fill="#ff8000"/>
<rect x="397" y="416.5" width="1.02" height="14.57" fill="#ff8a0b"/>
<rect x="398" y="416.5" width="2.02" height="14.57" fill="#ff8b0e"/>
<rect x="400" y="416.5" width="1.02" height="14.57" fill="#ff8200"/>
<rect x="401" y="416.5" width="1.02" height="14.57" fill="#ff8e15"/>
<rect x="402" y="416.5" width="1.02" height="14.57" fill="#ff8b0d"/>
<rect x="403" y="416.5" width="1.02" height="14.57" fill="#ff7d00"/>
<rect x="404" y="416.5" width="1.02" height="14.57" fill="#ff9828"/>
<rect x="405" y="416.5" width="1.02" height="14.57" fill="#ff9a2d"/>
<rect x="406" y="416.5" width="1.02" height="14.57" fill="#ff911b"/>
<rect x="407" y="416.5" width="1.02" height="14.57" fill="#ff8603"/>
<rect x="408" y="416.5" width="1.02" height="14.57" fill="#ff8e15"/>
<rect x="409" y="416.5" width="1.02" height="14.57" fill="#ff9017"/>
<rect x="410" y="416.5" width="1.02" height="14.57" fill="#ff8b0d"/>
<rect x="411" y="416.5" width="1.02" height="14.57" fill="#ff8501"/>
<rect x="412" y="416.5" width="1.02" height="14.57" fill="#ff8100"/>
<rect x="413" y="416.5" width="1.02" height="14.57" fill="#ff8909"/>
<rect x="414" y="416.5" width="1.02" height="14.57" fill="#ff8f16"/>
<rect x="415" y="416.5" width="1.02" height="14.57" fill="#ff8705"/>
<rect x="416" y="416.5" width="1.02" height="14.57" fill="#ff8603"/>
<rect x="417" y="416.5" width="1.02" height="14.57" fill="#ff8f16"/>
<rect x="418" y="416.5" width="1.02" height="14.57" fill="#ff8501"/>
<rect x="419" y="416.5" width="1.02" height="14.57" fill="#ff8200"/>
<rect x="420" y="416.5" width="1.02" height="14.57" fill="#ff8400"/>
<rect x="421" y="416.5" width="1.02" height="14.57" fill="#ff8e13"/>
<rect x="422" y="416.5" width="1.02" height="14.57" fill="#ff7e00"/>
<rect x="423" y="416.5" width="1.02" height="14.57" fill="#ff8e14"/>
<rect x="424" y="416.5" width="1.02" height="14.57" fill="#ff8d11"/>
<rect x="425" y="416.5" width="1.02" height="14.57" fill="#ff8704"/>
<rect x="426" y="416.5" width="1.02" height="14.57" fill="#ff8e13"/>
<rect x="427" y="416.5" width="1.02" height="14.57" fill="#ff7c00"/>
<rect x="428" y="416.5" width="1.02" height="14.57" fill="#ff8c10"/>
<rect x="429" y="416.5" width="1.02" height="14.57" fill="#ff8602"/>
<rect x="430" y="416.5" width="1.02" height="14.57" fill="#ff8300"/>
<rect x="431" y="416.5" width="1.02" height="14.57" fill="#ff8100"/>
<rect x="432" y="416.5" width="1.02" height="14.57" fill="#ff8604"/>
<rect x="433" y="416.5" width="2.02" height="14.57" fill="#ff7e00"/>
<rect x="435" y="416.5" width="1.02" height="14.57" fill="#ff8000"/>
<rect x="436" y="416.5" width="1.02" height="14.57" fill="#ff8d12"/>
<rect x="437" y="416.5" width="1.02" height="14.57" fill="#ff8300"/>
<rect x="438" y="416.5" width="1.02" height="14.57" fill="#ff7900"/>
<rect x="439" y="416.5" width="1.02" height="14.57" fill="#ff7d00"/>
<rect x="440" y="416.5" width="1.02" height="14.57" fill="#ff7900"/>
<rect x="441" y="416.5" width="1.02" height="14.57" fill="#ff8a0a"/>
<rect x="442" y="416.5" width="1.02" height="14.57" fill="#ff8400"/>
<rect x="443" y="416.5" width="1.02" height="14.57" fill="#ff8000"/>
<rect x="444" y="416.5" width="1.02" height="14.57" fill="#ff7f00"/>
<rect x="445" y="416.5" width="1.02" height="14.57" fill="#ff7d00"/>
<rect x="446" y="416.5" width="1.02" height="14.57" fill="#ff8d11"/>
<rect x="447" y="416.5" width="1.02" height="14.57" fill="#ff8f15"/>
<rect x="448" y="416.5" width="1.02" height="14.57" fill="#ff8808"/>
<rect x="449" y="416.5" width="1.02" height="14.57" fill="#ff8908"/>
<rect x="450" y="416.5" width="1.02" height="14.57" fill="#ff8300"/>
<rect x="451" y="416.5" width="1.02" height="14.57" fill="#ff9017"/>
<rect x="452" y="416.5" width="1.02" height="14.57" fill="#ff8808"/>
<rect x="453" y="416.5" width="1.02" height="14.57" fill="#ff7e00"/>
<rect x="454" y="416.5" width="1.02" height="14.57" fill="#ff7900"/>
<rect x="455" y="416.5" width="1.02" height="14.57" fill="#ff8603"/>
<rect x="456" y="416.5" width="1.02" height="14.57" fill="#ff8400"/>
<rect x="457" y="416.5" width="1.02" height="14.57" fill="#ff8705"/>
<rect x="458" y="416.5" width="1.02" height="14.57" fill="#ff7c00"/>
<rect x="459" y="416.5" width="1.02" height="14.57" fill="#ff8602"/>
<rect x="460" y="416.5" width="1.02" height="14.57" fill="#ff7a00"/>
<rect x="461" y="416.5" width="1.02" height="14.57" fill="#ff8603"/>
<rect x="462" y="416.5" width="1.02" height="14.57" fill="#ff7200"/>
<rect x="463" y="416.5" width="1.02" height="14.57" fill="#ff8000"/>
<rect x="464" y="416.5" width="1.02" height="14.57" fill="#ff7b00"/>
<rect x="465" y="416.5" width="1.02" height="14.57" fill="#ff8200"/>
<rect x="466" y="416.5" width="1.02" height="14.57" fill="#ff8b0d"/>
<rect x="467" y="416.5" width="1.02" height="14.57" fill="#ff8d12"/>
<rect x="468" y="416.5" width="1.02" height="14.57" fill="#ff7700"/>
<rect x="469" y="416.5" width="1.02" height="14.57" fill="#ff8300"/>
<rect x="470" y="416.5" width="1.02" height="14.57" fill="#ff8502"/>
<rect x="471" y="416.5" width="1.02" height="14.57" fill="#ff8100"/>
<rect x="472" y="416.5" width="1.02" height="14.57" fill="#ff7c00"/>
<rect x="473" y="416.5" width="1.02" height="14.57" fill="#ff8a0b"/>
<rect x="474" y="416.5" width="1.02" height="14.57" fill="#ff8501"/>
<rect x="475" y="416.5" width="1.02" height="14.57" fill="#ff8705"/>
<rect x="476" y="416.5" width="1.02" height="14.57" fill="#ff7e00"/>
<rect x="477" y="416.5" width="1.02" height="14.57" fill="#ff8d11"/>
<rect x="478" y="416.5" width="1.02" height="14.57" fill="#ff8200"/>
<rect x="479" y="416.5" width="1.02" height="14.57" fill="#ff7e00"/>
<rect x="480" y="416.5" width="1.02" height="14.57" fill="#ff8f15"/>
<rect x="481" y="416.5" width="1.02" height="14.57" fill="#ff8a0c"/>
<rect x="482" y="416.5" width="1.02" height="14.57" fill="#ff7b00"/>
<rect x="483" y="416.5" width="1.02" height="14.57" fill="#ff7a00"/>
<rect x="484" y="416.5" width="1.02" height="14.57" fill="#ff8603"/>
<rect x="485" y="416.5" width="1.02" height="14.57" fill="#ff7a00"/>
<rect x="486" y="416.5" width="1.02" height="14.57" fill="#ff7f00"/>
<rect x="487" y="416.5" width="1.02" height="14.57" fill="#ff8b0e"/>
<rect x="488" y="416.5" width="1.02" height="14.57" fill="#ff8704"/>
<rect x="489" y="416.5" width="1.02" height="14.57" fill="#ff7a00"/>
<rect x="490" y="416.5" width="1.02" height="14.57" fill="#ff8f16"/>
<rect x="491" y="416.5" width="1.02" height="14.57" fill="#ff7c00"/>
<rect x="492" y="416.5" width="1.02" height="14.57" fill="#ff7800"/>
<rect x="493" y="416.5" width="1.02" height="14.57" fill="#ff7c00"/>
<rect x="494" y="416.5" width="0.52" height="14.57" fill="#ff8300"/>
<rect x="323.5" y="430.17" width="0.52" height="14.57" fill="#fff1e1"/>
<rect x="324" y="430.17" width="1.02" height="14.57" fill="#ffe4c6"/>
<rect x="325" y="430.17" width="1.02" height="14.57" fill="#ffead3"/>
<rect x="326" y="430.17" width="1.02" height="14.57" fill="#ffe6cb"/>
<rect x="327" y="430.17" width="1.02" height="14.57" fill="#ffead3"/>
<rect x="328" y="430.17" width="1.02" height="14.57" fill="#ffeeda"/>
<rect x="329" y="430.17" width="1.02" height="14.57" fill="#ffe3c4"/>
<rect x="330" y="430.17" width="1.02" height="14.57" fill="#ffebd4"/>
<rect x="331" y="430.17" width="1.02" height="14.57" fill="#ffecd7"/>
<rect x="332" y="430.17" width="1.02" height="14.57" fill="#ffe5c7"/>
<rect x="333" y="430.17" width="1.02" height="14.57" fill="#ffe2c2"/>
<rect x="334" y="430.17" width="1.02" height="14.57" fill="#ffe9d0"/>
<rect x="335" y="430.17" width="1.02" height="14.57" fill="#ffe1bf"/>
<rect x="336" y="430.17" width="1.02" height="14.57" fill="#ffe7cd"/>
<rect x="337" y="430.17" width="1.02" height="14.57" fill="#ffe5c8"/>
<rect x="338" y="430.17" width="1.02" height="14.57" fill="#ffebd4"/>
<rect x="339" y="430.17" width="1.02" height="14.57" fill="#fff1e0"/>
<rect x="340" y="430.17" width="1.02" height="14.57" fill="#ffead3"/>
<rect x="341" y="430.17" width="1.02" height="14.57" fill="#ffebd5"/>
<rect x="342" y="430.17" width="1.02" height="14.57" fill="#ffe6c9"/>
<rect x="343" y="430.17" width="1.02" height="14.57" fill="#ffe6cb"/>
<rect x="344" y="430.17" width="1.02" height="14.57" fill="#ffe4c6"/>
<rect x="345" y="430.17" width="1.02" height="14.57" fill="#ffe8cf"/>
<rect x="346" y="430.17" width="1.02" height="14.57" fill="#ffe9d1"/>
<rect x="347" y="430.17" width="1.02" height="14.57" fill="#ffebd4"/>
<rect x="348" y="430.17" width="1.02" height="14.57" fill="#ffefdc"/>
<rect x="349" y="430.17" width="1.02" height="14.57" fill="#ffe6cb"/>
<rect x="350" y="430.17" width="1.02" height="14.57" fill="#ffdbb3"/>
<rect x="351" y="430.17" width="1.02" height="14.57" fill="#ffe4c6"/>
<rect x="352" y="430.17" width="1.02" height="14.57" fill="#ffd6aa"/>
<rect x="353" y="430.17" width="1.02" height="14.57" fill="#ffd2a0"/>
<rect x="354" y="430.17" width="1.02" height="14.57" fill="#ffd2a1"/>
<rect x="355" y="430.17" width="1.02" height="14.57" fill="#ffc585"/>
<rect x="356" y="430.17" width="1.02" height="14.57" fill="#ffb059"/>
<rect x="357" y="430.17" width="1.02" height="14.57" fill="#ffc17e"/>
<rect x="358" y="430.17" width="1.02" height="14.57" fill="#ffa442"/>
<rect x="359" y="430.17" width="1.02" height="14.57" fill="#ff9e35"/>
<rect x="360" y="430.17" width="1.02" height="14.57" fill="#ff9725"/>
<rect x="361" y="430.17" width="1.02" height="14.57" fill="#ff9b2e"/>
<rect x="362" y="430.17" width="1.02" height="14.57" fill="#ff8c10"/>
<rect x="363" y="430.17" width="1.02" height="14.57" fill="#ff8604"/>
<rect x="364" y="430.17" width="1.02" height="14.57" fill="#ff890a"/>
<rect x="365" y="430.17" width="1.02" height="14.57" fill="#ffa039"/>
<rect x="366" y="430.17" width="1.02" height="14.57" fill="#ff9625"/>
<rect x="367" y="430.17" width="1.02" height="14.57" fill="#ffa340"/>
<rect x="368" y="430.17" width="1.02" height="14.57" fill="#ff9018"/>
<rect x="369" y="430.17" width="1.02" height="14.57" fill="#ff921d"/>
<rect x="370" y="430.17" width="1.02" height="14.57" fill="#ff8807"/>
<rect x="371" y="430.17" width="1.02" height="14.57" fill="#ff9a2d"/>
<rect x="372" y="430.17" width="1.02" height="14.57" fill="#ff8c0f"/>
<rect x="373" y="430.17" width="1.02" height="14.57" fill="#ff8808"/>
<rect x="374" y="430.17" width="1.02" height="14.57" fill="#ff9726"/>
<rect x="375" y="430.17" width="1.02" height="14.57" fill="#ff7e00"/>
<rect x="376" y="430.17" width="1.02" height="14.57" fill="#ffa23e"/>
<rect x="377" y="430.17" width="1.02" height="14.57" fill="#ff8d11"/>
<rect x="378" y="430.17" width="1.02" height="14.57" fill="#ff8909"/>
<rect x="379" y="430.17" width="1.02" height="14.57" fill="#ff7d00"/>
<rect x="380" y="430.17" width="1.02" height="14.57" fill="#ff8808"/>
<rect x="381" y="430.17" width="1.02" height="14.57" fill="#ff8807"/>
<rect x="382" y="430.17" width="1.02" height="14.57" fill="#ff9828"/>
<rect x="383" y="430.17" width="1.02" height="14.57" fill="#ff8501"/>
<rect x="384" y="430.17" width="1.02" height="14.57" fill="#ff8e13"/>
<rect x="385" y="430.17" width="1.02" height="14.57" fill="#ff8200"/>
<rect x="386" y="430.17" width="1.02" height="14.57" fill="#ff8909"/>
<rect x="387" y="430.17" width="1.02" height="14.57" fill="#ff8400"/>
<rect x="388" y="430.17" width="1.02" height="14.57" fill="#ff7d00"/>
<rect x="389" y="430.17" width="1.02" height="14.57" fill="#ff7100"/>
<rect x="390" y="430.17" width="1.02" height="14.57" fill="#ff9929"/>
<rect x="391" y="430.17" width="1.02" height="14.57" fill="#ff7a00"/>
<rect x="392" y="430.17" width="1.02" height="14.57" fill="#ff7200"/>
<rect x="393" y="430.17" width="1.02" height="14.57" fill="#ff8705"/>
<rect x="394" y="430.17" width="1.02" height="14.57" fill="#ff7b00"/>
<rect x="395" y="430.17" width="1.02" height="14.57" fill="#ff8501"/>
<rect x="396" y="430.17" width="1.02" height="14.57" fill="#ff7c00"/>
<rect x="397" y="430.17" width="1.02" height="14.57" fill="#ff7800"/>
<rect x="398" y="430.17" width="1.02" height="14.57" fill="#ff7d00"/>
<rect x="399" y="430.17" width="1.02" height="14.57" fill="#ff8500"/>
<rect x="400" y="430.17" width="1.02" height="14.57" fill="#ff7e00"/>
<rect x="401" y="430.17" width="2.02" height="14.57" fill="#ff8b0d"/>
<rect x="403" y="430.17" width="1.02" height="14.57" fill="#ff7200"/>
<rect x="404" y="430.17" width="1.02" height="14.57" fill="#ff8c10"/>
<rect x="405" y="430.17" width="1.02" height="14.57" fill="#ff9b2f"/>
<rect x="406" y="430.17" width="1.02" height="14.57" fill="#ff8000"/>
<rect x="407" y="430.17" width="1.02" height="14.57" fill="#ff8100"/>
<rect x="408" y="430.17" width="1.02" height="14.57" fill="#ff7900"/>
<rect x="409" y="430.17" width="1.02" height="14.57" fill="#ff7e00"/>
<rect x="410" y="430.17" width="1.02" height="14.57" fill="#ff8500"/>
<rect x="411" y="430.17" width="1.02" height="14.57" fill="#ff8300"/>
<rect x="412" y="430.17" width="1.02" height="14.57" fill="#ff7e00"/>
<rect x="413" y="430.17" width="1.02" height="14.57" fill="#ff8603"/>
<rect x="414" y="430.17" width="1.02" height="14.57" fill="#ff7c00"/>
<rect x="415" y="430.17" width="1.02" height="14.57" fill="#ff6f00"/>
<rect x="416" y="430.17" width="1.02" height="14.57" fill="#ff7700"/>
<rect x="417" y="430.17" width="1.02" height="14.57" fill="#ff8501"/>
<rect x="418" y="430.17" width="1.02" height="14.57" fill="#ff7700"/>
<rect x="419" y="430.17" width="1.02" height="14.57" fill="#ff7900"/>
<rect x="420" y="430.17" width="1.02" height="14.57" fill="#ff7e00"/>
<rect x="421" y="430.17" width="1.02" height="14.57" fill="#ff7d00"/>
<rect x="422" y="430.17" width="1.02" height="14.57" fill="#ff8100"/>
<rect x="423" y="430.17" width="1.02" height="14.57" fill="#ff7f00"/>
<rect x="424" y="430.17" width="1.02" height="14.57" fill="#ff7600"/>
<rect x="425" y="430.17" width="1.02" height="14.57" fill="#ff8502"/>
<rect x="426" y="430.17" width="1.02" height="14.57" fill="#ff8400"/>
<rect x="427" y="430.17" width="1.02" height="14.57" fill="#ff7400"/>
<rect x="428" y="430.17" width="1.02" height="14.57" fill="#ff7100"/>
<rect x="429" y="430.17" width="1.02" height="14.57" fill="#ff7800"/>
<rect x="430" y="430.17" width="1.02" height="14.57" fill="#ff7700"/>
<rect x="431" y="430.17" width="1.02" height="14.57" fill="#ff7b00"/>
<rect x="432" y="430.17" width="1.02" height="14.57" fill="#ff7500"/>
<rect x="433" y="430.17" width="1.02" height="14.57" fill="#ff7800"/>
<rect x="434" y="430.17" width="1.02" height="14.57" fill="#ff7900"/>
<rect x="435" y="430.17" width="1.02" height="14.57" fill="#ff7b00"/>
<rect x="436" y="430.17" width="1.02" height="14.57" fill="#ff8100"/>
<rect x="437" y="430.17" width="1.02" height="14.57" fill="#ff8200"/>
<rect x="438" y="430.17" width="2.02" height="14.57" fill="#ff7600"/>
<rect x="440" y="430.17" width="1.02" height="14.57" fill="#ff7e00"/>
<rect x="441" y="430.17" width="1.02" height="14.57" fill="#ff7500"/>
<rect x="442" y="430.17" width="1.02" height="14.57" fill="#ff6f00"/>
<rect x="443" y="430.17" width="1.02" height="14.57" fill="#ff7e00"/>
<rect x="444" y="430.17" width="1.02" height="14.57" fill="#ff7f00"/>
<rect x="445" y="430.17" width="1.02" height="14.57" fill="#ff7800"/>
<rect x="446" y="430.17" width="1.02" height="14.57" fill="#ff7e00"/>
<rect x="447" y="430.17" width="1.02" height="14.57" fill="#ff7f00"/>
<rect x="448" y="430.17" width="1.02" height="14.57" fill="#ff7900"/>
<rect x="449" y="430.17" width="1.02" height="14.57" fill="#ff7d00"/>
<rect x="450" y="430.17" width="1.02" height="14.57" fill="#ff7c00"/>
<rect x="451" y="430.17" width="1.02" height="14.57" fill="#ff8200"/>
<rect x="452" y="430.17" width="1.02" height="14.57" fill="#ff8a0b"/>
<rect x="453" y="430.17" width="1.02" height="14.57" fill="#ff7a00"/>
<rect x="454" y="430.17" width="1.02" height="14.57" fill="#ff6f00"/>
<rect x="455" y="430.17" width="1.02" height="14.57" fill="#ff7400"/>
<rect x="456" y="430.17" width="1.02" height="14.57" fill="#ff7700"/>
<rect x="457" y="430.17" width="1.02" height="14.57" fill="#ff7b00"/>
<rect x="458" y="430.17" width="1.02" height="14.57" fill="#ff7c00"/>
<rect x="459" y="430.17" width="1.02" height="14.57" fill="#ff7e00"/>
<rect x="460" y="430.17" width="1.02" height="14.57" fill="#ff7900"/>
<rect x="461" y="430.17" width="1.02" height="14.57" fill="#ff7b00"/>
<rect x="462" y="430.17" width="1.02" height="14.57" fill="#ff6e00"/>
<rect x="463" y="430.17" width="1.02" height="14.57" fill="#ff7700"/>
<rect x="464" y="430.17" width="1.02" height="14.57" fill="#ff7b00"/>
<rect x="465" y="430.17" width="1.02" height="14.57" fill="#ff8500"/>
<rect x="466" y="430.17" width="1.02" height="14.57" fill="#ff7c00"/>
<rect x="467" y="430.17" width="1.02" height="14.57" fill="#ff7900"/>
<rect x="468" y="430.17" width="2.02" height="14.57" fill="#ff7a00"/>
<rect x="470" y="430.17" width="1.02" height="14.57" fill="#ff7700"/>
<rect x="471" y="430.17" width="1.02" height="14.57" fill="#ff8000"/>
<rect x="472" y="430.17" width="1.02" height="14.57" fill="#ff7600"/>
<rect x="473" y="430.17" width="1.02" height="14.57" fill="#ff8000"/>
<rect x="474" y="430.17" width="1.02" height="14.57" fill="#ff7200"/>
<rect x="475" y="430.17" width="1.02" height="14.57" fill="#ff7700"/>
<rect x="476" y="430.17" width="1.02" height="14.57" fill="#ff7100"/>
<rect x="477" y="430.17" width="1.02" height="14.57" fill="#ff7300"/>
<rect x="478" y="430.17" width="1.02" height="14.57" fill="#ff7c00"/>
<rect x="479" y="430.17" width="1.02" height="14.57" fill="#ff7500"/>
<rect x="480" y="430.17" width="1.02" height="14.57" fill="#ff8400"/>
<rect x="481" y="430.17" width="1.02" height="14.57" fill="#ff7b00"/>
<rect x="482" y="430.17" width="1.02" height="14.57" fill="#ff6e00"/>
<rect x="483" y="430.17" width="1.02" height="14.57" fill="#ff7c00"/>
<rect x="484" y="430.17" width="1.02" height="14.57" fill="#ff7800"/>
<rect x="485" y="430.17" width="1.02" height="14.57" fill="#ff7400"/>
<rect x="486" y="430.17" width="2.02" height="14.57" fill="#ff7f00"/>
<rect x="488" y="430.17" width="1.02" height="14.57" fill="#ff7b00"/>
<rect x="489" y="430.17" width="1.02" height="14.57" fill="#ff7800"/>
<rect x="490" y="430.17" width="1.02" height="14.57" fill="#ff8000"/>
<rect x="491" y="430.17" width="1.02" height="14.57" fill="#ff7e00"/>
<rect x="492" y="430.17" width="1.02" height="14.57" fill="#ff7600"/>
<rect x="493" y="430.17" width="1.02" height="14.57" fill="#ff7500"/>
<rect x="494" y="430.17" width="0.52" height="14.57" fill="#ff7b00"/>
<rect x="323.5" y="443.83" width="0.52" height="14.57" fill="#fff1e1"/>
<rect x="324" y="443.83" width="1.02" height="14.57" fill="#ffbf79"/>
<rect x="325" y="443.83" width="1.02" height="14.57" fill="#ffcc94"/>
<rect x="326" y="443.83" width="1.02" height="14.57" fill="#ffbc74"/>
<rect x="327" y="443.83" width="1.02" height="14.57" fill="#ffd2a2"/>
<rect x="328" y="443.83" width="1.02" height="14.57" fill="#ffc27f"/>
<rect x="329" y="443.83" width="1.02" height="14.57" fill="#ffbd76"/>
<rect x="330" y="443.83" width="1.02" height="14.57" fill="#ffcc94"/>
<rect x="331" y="443.83" width="1.02" height="14.57" fill="#ffc88d"/>
<rect x="332" y="443.83" width="1.02" height="14.57" fill="#ffcc95"/>
<rect x="333" y="443.83" width="1.02" height="14.57" fill="#ffcb93"/>
<rect x="334" y="443.83" width="1.02" height="14.57" fill="#ffc88b"/>
<rect x="335" y="443.83" width="1.02" height="14.57" fill="#ffc78a"/>
<rect x="336" y="443.83" width="1.02" height="14.57" fill="#ffc789"/>
<rect x="337" y="443.83" width="1.02" height="14.57" fill="#ffcd96"/>
<rect x="338" y="443.83" width="1.02" height="14.57" fill="#ffcf9b"/>
<rect x="339" y="443.83" width="1.02" height="14.57" fill="#ffd2a1"/>
<rect x="340" y="443.83" width="1.02" height="14.57" fill="#ffc483"/>
<rect x="341" y="443.83" width="1.02" height="14.57" fill="#ffce99"/>
<rect x="342" y="443.83" width="1.02" height="14.57" fill="#ffca91"/>
<rect x="343" y="443.83" width="1.02" height="14.57" fill="#ffcc95"/>
<rect x="344" y="443.83" width="1.02" height="14.57" fill="#ffce98"/>
<rect x="345" y="443.83" width="1.02" height="14.57" fill="#ffc688"/>
<rect x="346" y="443.83" width="1.02" height="14.57" fill="#ffca91"/>
<rect x="347" y="443.83" width="1.02" height="14.57" fill="#ffbf7a"/>
<rect x="348" y="443.83" width="1.02" height="14.57" fill="#ffbe77"/>
<rect x="349" y="443.83" width="1.02" height="14.57" fill="#ffc07b"/>
<rect x="350" y="443.83" width="1.02" height="14.57" fill="#ffc484"/>
<rect x="351" y="443.83" width="1.02" height="14.57" fill="#ffb96c"/>
<rect x="352" y="443.83" width="1.02" height="14.57" fill="#ffc07a"/>
<rect x="353" y="443.83" width="1.02" height="14.57" fill="#ffa645"/>
<rect x="354" y="443.83" width="1.02" height="14.57" fill="#ff9c32"/>
<rect x="355" y="443.83" width="1.02" height="14.57" fill="#ff931d"/>
<rect x="356" y="443.83" width="1.02" height="14.57" fill="#ff7700"/>
<rect x="357" y="443.83" width="1.02" height="14.57" fill="#ff8808"/>
<rect x="358" y="443.83" width="1.02" height="14.57" fill="#fa6100"/>
<rect x="359" y="443.83" width="1.02" height="14.57" fill="#f75d00"/>
<rect x="360" y="443.83" width="1.02" height="14.57" fill="#ee5200"/>
<rect x="361" y="443.83" width="1.02" height="14.57" fill="#e54600"/>
<rect x="362" y="443.83" width="1.02" height="14.57" fill="#f05400"/>
<rect x="363" y="443.83" width="1.02" height="14.57" fill="#e14000"/>
<rect x="364" y="443.83" width="1.02" height="14.57" fill="#e64700"/>
<rect x="365" y="443.83" width="1.02" height="14.57" fill="#d53200"/>
<rect x="366" y="443.83" width="1.02" height="14.57" fill="#dd3c00"/>
<rect x="367" y="443.83" width="1.02" height="14.57" fill="#de3d00"/>
<rect x="368" y="443.83" width="1.02" height="14.57" fill="#ce2800"/>
<rect x="369" y="443.83" width="1.02" height="14.57" fill="#d93700"/>
<rect x="370" y="443.83" width="1.02" height="14.57" fill="#a20000"/>
<rect x="371" y="443.83" width="1.02" height="14.57" fill="#bc1100"/>
<rect x="372" y="443.83" width="1.02" height="14.57" fill="#b50800"/>
<rect x="373" y="443.83" width="1.02" height="14.57" fill="#b90d00"/>
<rect x="374" y="443.83" width="1.02" height="14.57" fill="#b50800"/>
<rect x="375" y="443.83" width="1.02" height="14.57" fill="#b10300"/>
<rect x="376" y="443.83" width="1.02" height="14.57" fill="#b70b00"/>
<rect x="377" y="443.83" width="1.02" height="14.57" fill="#b50800"/>
<rect x="378" y="443.83" width="1.02" height="14.57" fill="#b10300"/>
<rect x="379" y="443.83" width="1.02" height="14.57" fill="#ad0000"/>
<rect x="380" y="443.83" width="1.02" height="14.57" fill="#b80c00"/>
<rect x="381" y="443.83" width="1.02" height="14.57" fill="#a80000"/>
<rect x="382" y="443.83" width="1.02" height="14.57" fill="#af0100"/>
<rect x="383" y="443.83" width="1.02" height="14.57" fill="#ae0000"/>
<rect x="384" y="443.83" width="1.02" height="14.57" fill="#af0000"/>
<rect x="385" y="443.83" width="1.02" height="14.57" fill="#a60000"/>
<rect x="386" y="443.83" width="1.02" height="14.57" fill="#b70a00"/>
<rect x="387" y="443.83" width="1.02" height="14.57" fill="#b60900"/>
<rect x="388" y="443.83" width="1.02" height="14.57" fill="#b40700"/>
<rect x="389" y="443.83" width="1.02" height="14.57" fill="#c71f00"/>
<rect x="390" y="443.83" width="1.02" height="14.57" fill="#e34300"/>
<rect x="391" y="443.83" width="1.02" height="14.57" fill="#c71e00"/>
<rect x="392" y="443.83" width="1.02" height="14.57" fill="#cf2a00"/>
<rect x="393" y="443.83" width="1.02" height="14.57" fill="#dc3b00"/>
<rect x="394" y="443.83" width="1.02" height="14.57" fill="#ce2800"/>
<rect x="395" y="443.83" width="1.02" height="14.57" fill="#cc2500"/>
<rect x="396" y="443.83" width="1.02" height="14.57" fill="#cd2700"/>
<rect x="397" y="443.83" width="1.02" height="14.57" fill="#d83600"/>
<rect x="398" y="443.83" width="1.02" height="14.57" fill="#da3800"/>
<rect x="399" y="443.83" width="1.02" height="14.57" fill="#d02b00"/>
<rect x="400" y="443.83" width="1.02" height="14.57" fill="#d93600"/>
<rect x="401" y="443.83" width="1.02" height="14.57" fill="#d73400"/>
<rect x="402" y="443.83" width="1.02" height="14.57" fill="#d53100"/>
<rect x="403" y="443.83" width="1.02" height="14.57" fill="#ca2200"/>
<rect x="404" y="443.83" width="1.02" height="14.57" fill="#dd3c00"/>
<rect x="405" y="443.83" width="1.02" height="14.57" fill="#ea4c00"/>
<rect x="406" y="443.83" width="1.02" height="14.57" fill="#d83600"/>
<rect x="407" y="443.83" width="1.02" height="14.57" fill="#d43000"/>
<rect x="408" y="443.83" width="1.02" height="14.57" fill="#d12d00"/>
<rect x="409" y="443.83" width="1.02" height="14.57" fill="#d22d00"/>
<rect x="410" y="443.83" width="1.02" height="14.57" fill="#d83500"/>
<rect x="411" y="443.83" width="1.02" height="14.57" fill="#d12b00"/>
<rect x="412" y="443.83" width="1.02" height="14.57" fill="#cd2600"/>
<rect x="413" y="443.83" width="1.02" height="14.57" fill="#d63300"/>
<rect x="414" y="443.83" width="1.02" height="14.57" fill="#d32f00"/>
<rect x="415" y="443.83" width="1.02" height="14.57" fill="#c51c00"/>
<rect x="416" y="443.83" width="1.02" height="14.57" fill="#d02b00"/>
<rect x="417" y="443.83" width="1.02" height="14.57" fill="#d93600"/>
<rect x="418" y="443.83" width="1.02" height="14.57" fill="#ce2800"/>
<rect x="419" y="443.83" width="1.02" height="14.57" fill="#ce2900"/>
<rect x="420" y="443.83" width="1.02" height="14.57" fill="#b60900"/>
<rect x="421" y="443.83" width="1.02" height="14.57" fill="#ba0f00"/>
<rect x="422" y="443.83" width="1.02" height="14.57" fill="#b60900"/>
<rect x="423" y="443.83" width="1.02" height="14.57" fill="#b40600"/>
<rect x="424" y="443.83" width="1.02" height="14.57" fill="#aa0000"/>
<rect x="425" y="443.83" width="1.02" height="14.57" fill="#b70a00"/>
<rect x="426" y="443.83" width="1.02" height="14.57" fill="#b50800"/>
<rect x="427" y="443.83" width="1.02" height="14.57" fill="#ab0000"/>
<rect x="428" y="443.83" width="1.02" height="14.57" fill="#b80c00"/>
<rect x="429" y="443.83" width="1.02" height="14.57" fill="#ba0e00"/>
<rect x="430" y="443.83" width="1.02" height="14.57" fill="#b30500"/>
<rect x="431" y="443.83" width="1.02" height="14.57" fill="#b60900"/>
<rect x="432" y="443.83" width="1.02" height="14.57" fill="#ad0000"/>
<rect x="433" y="443.83" width="1.02" height="14.57" fill="#ab0000"/>
<rect x="434" y="443.83" width="1.02" height="14.57" fill="#b40700"/>
<rect x="435" y="443.83" width="1.02" height="14.57" fill="#b80c00"/>
<rect x="436" y="443.83" width="1.02" height="14.57" fill="#b10300"/>
<rect x="437" y="443.83" width="1.02" height="14.57" fill="#bf1400"/>
<rect x="438" y="443.83" width="1.02" height="14.57" fill="#ab0000"/>
<rect x="439" y="443.83" width="1.02" height="14.57" fill="#ae0000"/>
<rect x="440" y="443.83" width="1.02" height="14.57" fill="#b20400"/>
<rect x="441" y="443.83" width="1.02" height="14.57" fill="#b00100"/>
<rect x="442" y="443.83" width="1.02" height="14.57" fill="#810000"/>
<rect x="443" y="443.83" width="1.02" height="14.57" fill="#8e0000"/>
<rect x="444" y="443.83" width="1.02" height="14.57" fill="#880000"/>
<rect x="445" y="443.83" width="1.02" height="14.57" fill="#820000"/>
<rect x="446" y="443.83" width="1.02" height="14.57" fill="#8d0000"/>
<rect x="447" y="443.83" width="1.02" height="14.57" fill="#920000"/>
<rect x="448" y="443.83" width="1.02" height="14.57" fill="#8b0000"/>
<rect x="449" y="443.83" width="1.02" height="14.57" fill="#810000"/>
<rect x="450" y="443.83" width="1.02" height="14.57" fill="#800000"/>
<rect x="451" y="443.83" width="1.02" height="14.57" fill="#880000"/>
<rect x="452" y="443.83" width="1.02" height="14.57" fill="#8d0000"/>
<rect x="453" y="443.83" width="1.02" height="14.57" fill="#810000"/>
<rect x="454" y="443.83" width="1.02" height="14.57" fill="#750000"/>
<rect x="455" y="443.83" width="1.02" height="14.57" fill="#830000"/>
<rect x="456" y="443.83" width="1.02" height="14.57" fill="#820000"/>
<rect x="457" y="443.83" width="1.02" height="14.57" fill="#870000"/>
<rect x="458" y="443.83" width="1.02" height="14.57" fill="#790000"/>
<rect x="459" y="443.83" width="1.02" height="14.57" fill="#880000"/>
<rect x="460" y="443.83" width="1.02" height="14.57" fill="#790000"/>
<rect x="461" y="443.83" width="1.02" height="14.57" fill="#900000"/>
<rect x="462" y="443.83" width="1.02" height="14.57" fill="#7c0000"/>
<rect x="463" y="443.83" width="1.02" height="14.57" fill="#830000"/>
<rect x="464" y="443.83" width="1.02" height="14.57" fill="#860000"/>
<rect x="465" y="443.83" width="1.02" height="14.57" fill="#830000"/>
<rect x="466" y="443.83" width="2.02" height="14.57" fill="#840000"/>
<rect x="468" y="443.83" width="1.02" height="14.57" fill="#820000"/>
<rect x="469" y="443.83" width="1.02" height="14.57" fill="#770000"/>
<rect x="470" y="443.83" width="1.02" height="14.57" fill="#820000"/>
<rect x="471" y="443.83" width="1.02" height="14.57" fill="#7d0000"/>
<rect x="472" y="443.83" width="1.02" height="14.57" fill="#820000"/>
<rect x="473" y="443.83" width="1.02" height="14.57" fill="#7c0000"/>
<rect x="474" y="443.83" width="1.02" height="14.57" fill="#ea4c00"/>
<rect x="475" y="443.83" width="1.02" height="14.57" fill="#ee5200"/>
<rect x="476" y="443.83" width="1.02" height="14.57" fill="#e74800"/>
<rect x="477" y="443.83" width="1.02" height="14.57" fill="#f15500"/>
<rect x="478" y="443.83" width="1.02" height="14.57" fill="#ec4f00"/>
<rect x="479" y="443.83" width="1.02" height="14.57" fill="#ef5300"/>
<rect x="480" y="443.83" width="1.02" height="14.57" fill="#e84a00"/>
<rect x="481" y="443.83" width="1.02" height="14.57" fill="#f15500"/>
<rect x="482" y="443.83" width="1.02" height="14.57" fill="#e84900"/>
<rect x="483" y="443.83" width="1.02" height="14.57" fill="#e44500"/>
<rect x="484" y="443.83" width="1.02" height="14.57" fill="#ed5000"/>
<rect x="485" y="443.83" width="1.02" height="14.57" fill="#f05500"/>
<rect x="486" y="443.83" width="1.02" height="14.57" fill="#e84a00"/>
<rect x="487" y="443.83" width="1.02" height="14.57" fill="#ea4d00"/>
<rect x="488" y="443.83" width="1.02" height="14.57" fill="#ed5000"/>
<rect x="489" y="443.83" width="1.02" height="14.57" fill="#ef5200"/>
<rect x="490" y="443.83" width="1.02" height="14.57" fill="#f55b00"/>
<rect x="491" y="443.83" width="1.02" height="14.57" fill="#ee5200"/>
<rect x="492" y="443.83" width="1.02" height="14.57" fill="#ea4c00"/>
<rect x="493" y="443.83" width="1.02" height="14.57" fill="#e84900"/>
<rect x="494" y="443.83" width="0.52" height="14.57" fill="#f25600"/>
<rect x="323.5" y="457.5" width="0.52" height="14.57" fill="#fff1e1"/>
<rect x="324" y="457.5" width="1.02" height="14.57" fill="#ffdab0"/>
<rect x="325" y="457.5" width="1.02" height="14.57" fill="#ffe9cf"/>
<rect x="326" y="457.5" width="1.02" height="14.57" fill="#ffd8ae"/>
<rect x="327" y="457.5" width="1.02" height="14.57" fill="#ffe0bd"/>
<rect x="328" y="457.5" width="1.02" height="14.57" fill="#ffe0bf"/>
<rect x="329" y="457.5" width="1.02" height="14.57" fill="#ffd5a8"/>
<rect x="330" y="457.5" width="1.02" height="14.57" fill="#ffd5a6"/>
<rect x="331" y="457.5" width="1.02" height="14.57" fill="#ffe3c5"/>
<rect x="332" y="457.5" width="1.02" height="14.57" fill="#ffe2c1"/>
<rect x="333" y="457.5" width="1.02" height="14.57" fill="#ffd6a9"/>
<rect x="334" y="457.5" width="1.02" height="14.57" fill="#ffe1c0"/>
<rect x="335" y="457.5" width="1.02" height="14.57" fill="#ffd6a8"/>
<rect x="336" y="457.5" width="1.02" height="14.57" fill="#ffe6ca"/>
<rect x="337" y="457.5" width="1.02" height="14.57" fill="#ffe1c0"/>
<rect x="338" y="457.5" width="1.02" height="14.57" fill="#ffdcb5"/>
<rect x="339" y="457.5" width="1.02" height="14.57" fill="#ffdfbc"/>
<rect x="340" y="457.5" width="1.02" height="14.57" fill="#ffe2c1"/>
<rect x="341" y="457.5" width="1.02" height="14.57" fill="#ffe2c2"/>
<rect x="342" y="457.5" width="1.02" height="14.57" fill="#ffdfbc"/>
<rect x="343" y="457.5" width="1.02" height="14.57" fill="#ffe0be"/>
<rect x="344" y="457.5" width="1.02" height="14.57" fill="#ffe0bd"/>
<rect x="345" y="457.5" width="1.02" height="14.57" fill="#ffd8ad"/>
<rect x="346" y="457.5" width="1.02" height="14.57" fill="#ffe0be"/>
<rect x="347" y="457.5" width="1.02" height="14.57" fill="#ffdeb9"/>
<rect x="348" y="457.5" width="1.02" height="14.57" fill="#ffdbb4"/>
<rect x="349" y="457.5" width="1.02" height="14.57" fill="#ffd7ab"/>
<rect x="350" y="457.5" width="1.02" height="14.57" fill="#ffd4a6"/>
<rect x="351" y="457.5" width="1.02" height="14.57" fill="#ffd5a7"/>
<rect x="352" y="457.5" width="1.02" height="14.57" fill="#ffd9b0"/>
<rect x="353" y="457.5" width="1.02" height="14.57" fill="#ffca91"/>
<rect x="354" y="457.5" width="1.02" height="14.57" fill="#ffc27f"/>
<rect x="355" y="457.5" width="1.02" height="14.57" fill="#ffc78a"/>
<rect x="356" y="457.5" width="1.02" height="14.57" fill="#ffb059"/>
<rect x="357" y="457.5" width="1.02" height="14.57" fill="#ffcd96"/>
<rect x="358" y="457.5" width="1.02" height="14.57" fill="#ffab50"/>
<rect x="359" y="457.5" width="1.02" height="14.57" fill="#ffb667"/>
<rect x="360" y="457.5" width="1.02" height="14.57" fill="#ffb05a"/>
<rect x="361" y="457.5" width="1.02" height="14.57" fill="#ffa84b"/>
<rect x="362" y="457.5" width="1.02" height="14.57" fill="#ffa442"/>
<rect x="363" y="457.5" width="1.02" height="14.57" fill="#ff9f37"/>
<rect x="364" y="457.5" width="1.02" height="14.57" fill="#ffa440"/>
<rect x="365" y="457.5" width="1.02" height="14.57" fill="#ffa544"/>
<rect x="366" y="457.5" width="1.02" height="14.57" fill="#ffa84a"/>
<rect x="367" y="457.5" width="1.02" height="14.57" fill="#ff9828"/>
<rect x="368" y="457.5" width="1.02" height="14.57" fill="#ff9f36"/>
<rect x="369" y="457.5" width="1.02" height="14.57" fill="#ffa039"/>
<rect x="370" y="457.5" width="1.02" height="14.57" fill="#ff6a00"/>
<rect x="371" y="457.5" width="1.02" height="14.57" fill="#ffa03a"/>
<rect x="372" y="457.5" width="1.02" height="14.57" fill="#ff9c30"/>
<rect x="373" y="457.5" width="1.02" height="14.57" fill="#ff9d34"/>
<rect x="374" y="457.5" width="1.02" height="14.57" fill="#ff9625"/>
<rect x="375" y="457.5" width="1.02" height="14.57" fill="#ff8c0f"/>
<rect x="376" y="457.5" width="1.02" height="14.57" fill="#ffc382"/>
<rect x="377" y="457.5" width="1.02" height="14.57" fill="#ff9726"/>
<rect x="378" y="457.5" width="1.02" height="14.57" fill="#ffba6e"/>
<rect x="379" y="457.5" width="1.02" height="14.57" fill="#ff8b0d"/>
<rect x="380" y="457.5" width="1.02" height="14.57" fill="#ffa038"/>
<rect x="381" y="457.5" width="1.02" height="14.57" fill="#ff8e13"/>
<rect x="382" y="457.5" width="1.02" height="14.57" fill="#ff9d32"/>
<rect x="383" y="457.5" width="1.02" height="14.57" fill="#ff8e13"/>
<rect x="384" y="457.5" width="1.02" height="14.57" fill="#ffaf58"/>
<rect x="385" y="457.5" width="1.02" height="14.57" fill="#ff8909"/>
<rect x="386" y="457.5" width="1.02" height="14.57" fill="#ffad55"/>
<rect x="387" y="457.5" width="1.02" height="14.57" fill="#ffa646"/>
<rect x="388" y="457.5" width="1.02" height="14.57" fill="#ff9521"/>
<rect x="389" y="457.5" width="1.02" height="14.57" fill="#f65c00"/>
<rect x="390" y="457.5" width="1.02" height="14.57" fill="#ff8100"/>
<rect x="391" y="457.5" width="1.02" height="14.57" fill="#fc6400"/>
<rect x="392" y="457.5" width="1.02" height="14.57" fill="#f55a00"/>
<rect x="393" y="457.5" width="1.02" height="14.57" fill="#fc6400"/>
<rect x="394" y="457.5" width="1.02" height="14.57" fill="#fb6300"/>
<rect x="395" y="457.5" width="1.02" height="14.57" fill="#ff6f00"/>
<rect x="396" y="457.5" width="1.02" height="14.57" fill="#fe6600"/>
<rect x="397" y="457.5" width="1.02" height="14.57" fill="#ff6f00"/>
<rect x="398" y="457.5" width="1.02" height="14.57" fill="#ff7500"/>
<rect x="399" y="457.5" width="1.02" height="14.57" fill="#ff6a00"/>
<rect x="400" y="457.5" width="2.02" height="14.57" fill="#fc6400"/>
<rect x="402" y="457.5" width="1.02" height="14.57" fill="#ff7100"/>
<rect x="403" y="457.5" width="1.02" height="14.57" fill="#f75d00"/>
<rect x="404" y="457.5" width="1.02" height="14.57" fill="#ff7800"/>
<rect x="405" y="457.5" width="1.02" height="14.57" fill="#ff8602"/>
<rect x="406" y="457.5" width="1.02" height="14.57" fill="#fe6600"/>
<rect x="407" y="457.5" width="1.02" height="14.57" fill="#f85f00"/>
<rect x="408" y="457.5" width="1.02" height="14.57" fill="#ff6d00"/>
<rect x="409" y="457.5" width="1.02" height="14.57" fill="#f45a00"/>
<rect x="410" y="457.5" width="1.02" height="14.57" fill="#ff7d00"/>
<rect x="411" y="457.5" width="1.02" height="14.57" fill="#ff7700"/>
<rect x="412" y="457.5" width="1.02" height="14.57" fill="#ff6f00"/>
<rect x="413" y="457.5" width="1.02" height="14.57" fill="#ff7600"/>
<rect x="414" y="457.5" width="1.02" height="14.57" fill="#ff6f00"/>
<rect x="415" y="457.5" width="1.02" height="14.57" fill="#e74900"/>
<rect x="416" y="457.5" width="1.02" height="14.57" fill="#ff6c00"/>
<rect x="417" y="457.5" width="1.02" height="14.57" fill="#ff6800"/>
<rect x="418" y="457.5" width="1.02" height="14.57" fill="#f55b00"/>
<rect x="419" y="457.5" width="1.02" height="14.57" fill="#fb6300"/>
<rect x="420" y="457.5" width="1.02" height="14.57" fill="#ffd09d"/>
<rect x="421" y="457.5" width="1.02" height="14.57" fill="#ffad53"/>
<rect x="422" y="457.5" width="1.02" height="14.57" fill="#ffb96d"/>
<rect x="423" y="457.5" width="1.02" height="14.57" fill="#ffce98"/>
<rect x="424" y="457.5" width="1.02" height="14.57" fill="#ffab50"/>
<rect x="425" y="457.5" width="1.02" height="14.57" fill="#ffc98e"/>
<rect x="426" y="457.5" width="1.02" height="14.57" fill="#ffbd74"/>
<rect x="427" y="457.5" width="1.02" height="14.57" fill="#ffb15b"/>
<rect x="428" y="457.5" width="1.02" height="14.57" fill="#ffcc94"/>
<rect x="429" y="457.5" width="1.02" height="14.57" fill="#ffe0bd"/>
<rect x="430" y="457.5" width="1.02" height="14.57" fill="#ff8100"/>
<rect x="431" y="457.5" width="1.02" height="14.57" fill="#ff6f00"/>
<rect x="432" y="457.5" width="1.02" height="14.57" fill="#ff7600"/>
<rect x="433" y="457.5" width="2.02" height="14.57" fill="#ff7a00"/>
<rect x="435" y="457.5" width="1.02" height="14.57" fill="#ff9625"/>
<rect x="436" y="457.5" width="1.02" height="14.57" fill="#ff7400"/>
<rect x="437" y="457.5" width="1.02" height="14.57" fill="#ff9625"/>
<rect x="438" y="457.5" width="1.02" height="14.57" fill="#ff8a0b"/>
<rect x="439" y="457.5" width="1.02" height="14.57" fill="#ff6b00"/>
<rect x="440" y="457.5" width="1.02" height="14.57" fill="#ff7d00"/>
<rect x="441" y="457.5" width="1.02" height="14.57" fill="#ff8f16"/>
<rect x="442" y="457.5" width="1.02" height="14.57" fill="#cd2700"/>
<rect x="443" y="457.5" width="1.02" height="14.57" fill="#cb2400"/>
<rect x="444" y="457.5" width="1.02" height="14.57" fill="#c82100"/>
<rect x="445" y="457.5" width="1.02" height="14.57" fill="#d53100"/>
<rect x="446" y="457.5" width="1.02" height="14.57" fill="#e34400"/>
<rect x="447" y="457.5" width="1.02" height="14.57" fill="#c21800"/>
<rect x="448" y="457.5" width="1.02" height="14.57" fill="#d83500"/>
<rect x="449" y="457.5" width="1.02" height="14.57" fill="#cd2700"/>
<rect x="450" y="457.5" width="1.02" height="14.57" fill="#ca2200"/>
<rect x="451" y="457.5" width="1.02" height="14.57" fill="#d73300"/>
<rect x="452" y="457.5" width="1.02" height="14.57" fill="#d43000"/>
<rect x="453" y="457.5" width="1.02" height="14.57" fill="#d53100"/>
<rect x="454" y="457.5" width="1.02" height="14.57" fill="#c72000"/>
<rect x="455" y="457.5" width="1.02" height="14.57" fill="#da3700"/>
<rect x="456" y="457.5" width="1.02" height="14.57" fill="#c61d00"/>
<rect x="457" y="457.5" width="1.02" height="14.57" fill="#d22d00"/>
<rect x="458" y="457.5" width="1.02" height="14.57" fill="#c11800"/>
<rect x="459" y="457.5" width="1.02" height="14.57" fill="#c92200"/>
<rect x="460" y="457.5" width="1.02" height="14.57" fill="#cf2900"/>
<rect x="461" y="457.5" width="1.02" height="14.57" fill="#d02b00"/>
<rect x="462" y="457.5" width="1.02" height="14.57" fill="#c21900"/>
<rect x="463" y="457.5" width="1.02" height="14.57" fill="#cc2600"/>
<rect x="464" y="457.5" width="1.02" height="14.57" fill="#cf2a00"/>
<rect x="465" y="457.5" width="1.02" height="14.57" fill="#d02b00"/>
<rect x="466" y="457.5" width="1.02" height="14.57" fill="#cb2400"/>
<rect x="467" y="457.5" width="1.02" height="14.57" fill="#d22e00"/>
<rect x="468" y="457.5" width="1.02" height="14.57" fill="#ca2200"/>
<rect x="469" y="457.5" width="1.02" height="14.57" fill="#c71f00"/>
<rect x="470" y="457.5" width="1.02" height="14.57" fill="#d02a00"/>
<rect x="471" y="457.5" width="1.02" height="14.57" fill="#c92200"/>
<rect x="472" y="457.5" width="1.02" height="14.57" fill="#ce2800"/>
<rect x="473" y="457.5" width="1.02" height="14.57" fill="#c21900"/>
<rect x="474" y="457.5" width="1.02" height="14.57" fill="#ffc07c"/>
<rect x="475" y="457.5" width="1.02" height="14.57" fill="#ffb96c"/>
<rect x="476" y="457.5" width="1.02" height="14.57" fill="#ffad54"/>
<rect x="477" y="457.5" width="1.02" height="14.57" fill="#ffaf58"/>
<rect x="478" y="457.5" width="1.02" height="14.57" fill="#ffc17e"/>
<rect x="479" y="457.5" width="1.02" height="14.57" fill="#ffbe77"/>
<rect x="480" y="457.5" width="1.02" height="14.57" fill="#ffb86b"/>
<rect x="481" y="457.5" width="1.02" height="14.57" fill="#ffb05a"/>
<rect x="482" y="457.5" width="1.02" height="14.57" fill="#ffa13b"/>
<rect x="483" y="457.5" width="1.02" height="14.57" fill="#ffa23d"/>
<rect x="484" y="457.5" width="1.02" height="14.57" fill="#ffba6e"/>
<rect x="485" y="457.5" width="1.02" height="14.57" fill="#ffb666"/>
<rect x="486" y="457.5" width="1.02" height="14.57" fill="#ff9625"/>
<rect x="487" y="457.5" width="1.02" height="14.57" fill="#ffc98f"/>
<rect x="488" y="457.5" width="1.02" height="14.57" fill="#ffb361"/>
<rect x="489" y="457.5" width="1.02" height="14.57" fill="#ffa038"/>
<rect x="490" y="457.5" width="1.02" height="14.57" fill="#ffcb91"/>
<rect x="491" y="457.5" width="1.02" height="14.57" fill="#ffc27f"/>
<rect x="492" y="457.5" width="1.02" height="14.57" fill="#ffbd75"/>
<rect x="493" y="457.5" width="1.02" height="14.57" fill="#ff9a2d"/>
<rect x="494" y="457.5" width="0.52" height="14.57" fill="#ffd7aa"/>
<rect x="323.5" y="471.17" width="0.52" height="14.57" fill="#fff1e1"/>
<rect x="324" y="471.17" width="1.02" height="14.57" fill="#ffcf9b"/>
<rect x="325" y="471.17" width="1.02" height="14.57" fill="#ffd5a8"/>
<rect x="326" y="471.17" width="1.02" height="14.57" fill="#ffd09c"/>
<rect x="327" y="471.17" width="1.02" height="14.57" fill="#ffddb7"/>
<rect x="328" y="471.17" width="1.02" height="14.57" fill="#ffddb8"/>
<rect x="329" y="471.17" width="1.02" height="14.57" fill="#ffcd96"/>
<rect x="330" y="471.17" width="1.02" height="14.57" fill="#ffd7ab"/>
<rect x="331" y="471.17" width="1.02" height="14.57" fill="#ffd5a8"/>
<rect x="332" y="471.17" width="1.02" height="14.57" fill="#ffd19e"/>
<rect x="333" y="471.17" width="1.02" height="14.57" fill="#ffcf9a"/>
<rect x="334" y="471.17" width="1.02" height="14.57" fill="#ffdab1"/>
<rect x="335" y="471.17" width="1.02" height="14.57" fill="#ffd9af"/>
<rect x="336" y="471.17" width="1.02" height="14.57" fill="#ffd4a5"/>
<rect x="337" y="471.17" width="1.02" height="14.57" fill="#ffd8ae"/>
<rect x="338" y="471.17" width="1.02" height="14.57" fill="#ffdbb3"/>
<rect x="339" y="471.17" width="1.02" height="14.57" fill="#ffe2c2"/>
<rect x="340" y="471.17" width="1.02" height="14.57" fill="#ffd8ad"/>
<rect x="341" y="471.17" width="1.02" height="14.57" fill="#ffe0be"/>
<rect x="342" y="471.17" width="1.02" height="14.57" fill="#ffdab0"/>
<rect x="343" y="471.17" width="1.02" height="14.57" fill="#ffd2a1"/>
<rect x="344" y="471.17" width="1.02" height="14.57" fill="#ffd4a5"/>
<rect x="345" y="471.17" width="1.02" height="14.57" fill="#ffd19f"/>
<rect x="346" y="471.17" width="1.02" height="14.57" fill="#ffdfbb"/>
<rect x="347" y="471.17" width="1.02" height="14.57" fill="#ffe1bf"/>
<rect x="348" y="471.17" width="1.02" height="14.57" fill="#ffd7ac"/>
<rect x="349" y="471.17" width="1.02" height="14.57" fill="#ffd2a1"/>
<rect x="350" y="471.17" width="1.02" height="14.57" fill="#ffd2a0"/>
<rect x="351" y="471.17" width="1.02" height="14.57" fill="#ffba6f"/>
<rect x="352" y="471.17" width="1.02" height="14.57" fill="#ffba6e"/>
<rect x="353" y="471.17" width="1.02" height="14.57" fill="#ffae55"/>
<rect x="354" y="471.17" width="1.02" height="14.57" fill="#ffa13c"/>
<rect x="355" y="471.17" width="1.02" height="14.57" fill="#ff9523"/>
<rect x="356" y="471.17" width="1.02" height="14.57" fill="#ff7e00"/>
<rect x="357" y="471.17" width="1.02" height="14.57" fill="#ff7a00"/>
<rect x="358" y="471.17" width="1.02" height="14.57" fill="#ff6e00"/>
<rect x="359" y="471.17" width="1.02" height="14.57" fill="#f15500"/>
<rect x="360" y="471.17" width="1.02" height="14.57" fill="#ba0e00"/>
<rect x="361" y="471.17" width="1.02" height="14.57" fill="#cf2900"/>
<rect x="362" y="471.17" width="1.02" height="14.57" fill="#bd1200"/>
<rect x="363" y="471.17" width="1.02" height="14.57" fill="#b80c00"/>
<rect x="364" y="471.17" width="1.02" height="14.57" fill="#ca2300"/>
<rect x="365" y="471.17" width="1.02" height="14.57" fill="#c82000"/>
<rect x="366" y="471.17" width="1.02" height="14.57" fill="#c92200"/>
<rect x="367" y="471.17" width="1.02" height="14.57" fill="#c41b00"/>
<rect x="368" y="471.17" width="1.02" height="14.57" fill="#c11700"/>
<rect x="369" y="471.17" width="1.02" height="14.57" fill="#d43000"/>
<rect x="370" y="471.17" width="1.02" height="14.57" fill="#de3d00"/>
<rect x="371" y="471.17" width="1.02" height="14.57" fill="#ff8200"/>
<rect x="372" y="471.17" width="1.02" height="14.57" fill="#ff992b"/>
<rect x="373" y="471.17" width="1.02" height="14.57" fill="#ff6f00"/>
<rect x="374" y="471.17" width="1.02" height="14.57" fill="#ff6d00"/>
<rect x="375" y="471.17" width="1.02" height="14.57" fill="#ff6a00"/>
<rect x="376" y="471.17" width="1.02" height="14.57" fill="#ffab51"/>
<rect x="377" y="471.17" width="1.02" height="14.57" fill="#ff8100"/>
<rect x="378" y="471.17" width="1.02" height="14.57" fill="#ff6d00"/>
<rect x="379" y="471.17" width="1.02" height="14.57" fill="#ef5300"/>
<rect x="380" y="471.17" width="1.02" height="14.57" fill="#ffb96d"/>
<rect x="381" y="471.17" width="1.02" height="14.57" fill="#dd3b00"/>
<rect x="382" y="471.17" width="1.02" height="14.57" fill="#ff8603"/>
<rect x="383" y="471.17" width="1.02" height="14.57" fill="#fa6100"/>
<rect x="384" y="471.17" width="1.02" height="14.57" fill="#e74800"/>
<rect x="385" y="471.17" width="1.02" height="14.57" fill="#ff7200"/>
<rect x="386" y="471.17" width="1.02" height="14.57" fill="#ff9019"/>
<rect x="387" y="471.17" width="1.02" height="14.57" fill="#f65b00"/>
<rect x="388" y="471.17" width="1.02" height="14.57" fill="#ff6a00"/>
<rect x="389" y="471.17" width="1.02" height="14.57" fill="#f15500"/>
<rect x="390" y="471.17" width="1.02" height="14.57" fill="#ff8808"/>
<rect x="391" y="471.17" width="1.02" height="14.57" fill="#df3e00"/>
<rect x="392" y="471.17" width="1.02" height="14.57" fill="#9b0000"/>
<rect x="393" y="471.17" width="1.02" height="14.57" fill="#a40000"/>
<rect x="394" y="471.17" width="1.02" height="14.57" fill="#a20000"/>
<rect x="395" y="471.17" width="3.02" height="14.57" fill="#a40000"/>
<rect x="398" y="471.17" width="1.02" height="14.57" fill="#a10000"/>
<rect x="399" y="471.17" width="1.02" height="14.57" fill="#ac0000"/>
<rect x="400" y="471.17" width="2.02" height="14.57" fill="#a50000"/>
<rect x="402" y="471.17" width="1.02" height="14.57" fill="#ab0000"/>
<rect x="403" y="471.17" width="1.02" height="14.57" fill="#8b0000"/>
<rect x="404" y="471.17" width="1.02" height="14.57" fill="#aa0000"/>
<rect x="405" y="471.17" width="1.02" height="14.57" fill="#b40700"/>
<rect x="406" y="471.17" width="1.02" height="14.57" fill="#a90000"/>
<rect x="407" y="471.17" width="2.02" height="14.57" fill="#a40000"/>
<rect x="409" y="471.17" width="1.02" height="14.57" fill="#a50000"/>
<rect x="410" y="471.17" width="1.02" height="14.57" fill="#a30000"/>
<rect x="411" y="471.17" width="1.02" height="14.57" fill="#940000"/>
<rect x="412" y="471.17" width="1.02" height="14.57" fill="#970000"/>
<rect x="413" y="471.17" width="1.02" height="14.57" fill="#9d0000"/>
<rect x="414" y="471.17" width="1.02" height="14.57" fill="#9e0000"/>
<rect x="415" y="471.17" width="1.02" height="14.57" fill="#8a0000"/>
<rect x="416" y="471.17" width="1.02" height="14.57" fill="#a50000"/>
<rect x="417" y="471.17" width="1.02" height="14.57" fill="#ff8807"/>
<rect x="418" y="471.17" width="1.02" height="14.57" fill="#f05400"/>
<rect x="419" y="471.17" width="1.02" height="14.57" fill="#fc6400"/>
<rect x="420" y="471.17" width="1.02" height="14.57" fill="#ffbe78"/>
<rect x="421" y="471.17" width="1.02" height="14.57" fill="#ffd09c"/>
<rect x="422" y="471.17" width="2.02" height="14.57" fill="#ffa94c"/>
<rect x="424" y="471.17" width="1.02" height="14.57" fill="#ffc27f"/>
<rect x="425" y="471.17" width="1.02" height="14.57" fill="#ffcc93"/>
<rect x="426" y="471.17" width="1.02" height="14.57" fill="#ffad53"/>
<rect x="427" y="471.17" width="1.02" height="14.57" fill="#ffad54"/>
<rect x="428" y="471.17" width="1.02" height="14.57" fill="#ffc27f"/>
<rect x="429" y="471.17" width="1.02" height="14.57" fill="#ffc687"/>
<rect x="430" y="471.17" width="1.02" height="14.57" fill="#ffcf9b"/>
<rect x="431" y="471.17" width="1.02" height="14.57" fill="#ff9b2e"/>
<rect x="432" y="471.17" width="1.02" height="14.57" fill="#ffad55"/>
<rect x="433" y="471.17" width="1.02" height="14.57" fill="#ffa038"/>
<rect x="434" y="471.17" width="1.02" height="14.57" fill="#ffb564"/>
<rect x="435" y="471.17" width="1.02" height="14.57" fill="#ffb361"/>
<rect x="436" y="471.17" width="1.02" height="14.57" fill="#ffcb92"/>
<rect x="437" y="471.17" width="1.02" height="14.57" fill="#ffac53"/>
<rect x="438" y="471.17" width="1.02" height="14.57" fill="#ffa645"/>
<rect x="439" y="471.17" width="1.02" height="14.57" fill="#ffa13a"/>
<rect x="440" y="471.17" width="1.02" height="14.57" fill="#ff8706"/>
<rect x="441" y="471.17" width="1.02" height="14.57" fill="#ffcd95"/>
<rect x="442" y="471.17" width="1.02" height="14.57" fill="#ff6900"/>
<rect x="443" y="471.17" width="1.02" height="14.57" fill="#ff7800"/>
<rect x="444" y="471.17" width="1.02" height="14.57" fill="#ff8909"/>
<rect x="445" y="471.17" width="1.02" height="14.57" fill="#310000"/>
<rect x="446" y="471.17" width="1.02" height="14.57" fill="#4b0000"/>
<rect x="447" y="471.17" width="1.02" height="14.57" fill="#3d0000"/>
<rect x="448" y="471.17" width="1.02" height="14.57" fill="#460000"/>
<rect x="449" y="471.17" width="1.02" height="14.57" fill="#380000"/>
<rect x="450" y="471.17" width="1.02" height="14.57" fill="#420000"/>
<rect x="451" y="471.17" width="1.02" height="14.57" fill="#390000"/>
<rect x="452" y="471.17" width="1.02" height="14.57" fill="#480000"/>
<rect x="453" y="471.17" width="1.02" height="14.57" fill="#440000"/>
<rect x="454" y="471.17" width="1.02" height="14.57" fill="#3d0000"/>
<rect x="455" y="471.17" width="1.02" height="14.57" fill="#3e0000"/>
<rect x="456" y="471.17" width="1.02" height="14.57" fill="#460000"/>
<rect x="457" y="471.17" width="1.02" height="14.57" fill="#3c0000"/>
<rect x="458" y="471.17" width="1.02" height="14.57" fill="#350000"/>
<rect x="459" y="471.17" width="1.02" height="14.57" fill="#450000"/>
<rect x="460" y="471.17" width="1.02" height="14.57" fill="#420000"/>
<rect x="461" y="471.17" width="1.02" height="14.57" fill="#460000"/>
<rect x="462" y="471.17" width="1.02" height="14.57" fill="#330000"/>
<rect x="463" y="471.17" width="1.02" height="14.57" fill="#3f0000"/>
<rect x="464" y="471.17" width="1.02" height="14.57" fill="#300000"/>
<rect x="465" y="471.17" width="1.02" height="14.57" fill="#480000"/>
<rect x="466" y="471.17" width="1.02" height="14.57" fill="#3d0000"/>
<rect x="467" y="471.17" width="1.02" height="14.57" fill="#390000"/>
<rect x="468" y="471.17" width="1.02" height="14.57" fill="#370000"/>
<rect x="469" y="471.17" width="1.02" height="14.57" fill="#380000"/>
<rect x="470" y="471.17" width="1.02" height="14.57" fill="#ff6a00"/>
<rect x="471" y="471.17" width="1.02" height="14.57" fill="#ff6c00"/>
<rect x="472" y="471.17" width="1.02" height="14.57" fill="#f96000"/>
<rect x="473" y="471.17" width="1.02" height="14.57" fill="#ff7500"/>
<rect x="474" y="471.17" width="1.02" height="14.57" fill="#ffba70"/>
<rect x="475" y="471.17" width="1.02" height="14.57" fill="#ffd2a0"/>
<rect x="476" y="471.17" width="1.02" height="14.57" fill="#ffbb70"/>
<rect x="477" y="471.17" width="1.02" height="14.57" fill="#fff0de"/>
<rect x="478" y="471.17" width="1.02" height="14.57" fill="#ffe1bf"/>
<rect x="479" y="471.17" width="1.02" height="14.57" fill="#ffd9b0"/>
<rect x="480" y="471.17" width="1.02" height="14.57" fill="#ffd4a6"/>
<rect x="481" y="471.17" width="1.02" height="14.57" fill="#ffdeb9"/>
<rect x="482" y="471.17" width="1.02" height="14.57" fill="#ffce98"/>
<rect x="483" y="471.17" width="1.02" height="14.57" fill="#ffc98e"/>
<rect x="484" y="471.17" width="1.02" height="14.57" fill="#ffcd97"/>
<rect x="485" y="471.17" width="1.02" height="14.57" fill="#ffc07c"/>
<rect x="486" y="471.17" width="1.02" height="14.57" fill="#ffd09d"/>
<rect x="487" y="471.17" width="1.02" height="14.57" fill="#ffc98e"/>
<rect x="488" y="471.17" width="1.02" height="14.57" fill="#ffd9ae"/>
<rect x="489" y="471.17" width="1.02" height="14.57" fill="#ffbf7a"/>
<rect x="490" y="471.17" width="1.02" height="14.57" fill="#fff0de"/>
<rect x="491" y="471.17" width="1.02" height="14.57" fill="#ffbe76"/>
<rect x="492" y="471.17" width="1.02" height="14.57" fill="#ffa84a"/>
<rect x="493" y="471.17" width="1.02" height="14.57" fill="#ffcd96"/>
<rect x="494" y="471.17" width="0.52" height="14.57" fill="#ffcf9b"/>
<rect x="323.5" y="484.83" width="0.52" height="13.67" fill="#fff1e1"/>
<rect x="324" y="484.83" width="1.02" height="13.67" fill="#ffedd9"/>
<rect x="325" y="484.83" width="1.02" height="13.67" fill="#fff0e0"/>
<rect x="326" y="484.83" width="1.02" height="13.67" fill="#ffe2c1"/>
<rect x="327" y="484.83" width="1.02" height="13.67" fill="#ffedd9"/>
<rect x="328" y="484.83" width="1.02" height="13.67" fill="#ffebd5"/>
<rect x="329" y="484.83" width="2.02" height="13.67" fill="#ffecd6"/>
<rect x="331" y="484.83" width="1.02" height="13.67" fill="#ffefdc"/>
<rect x="332" y="484.83" width="1.02" height="13.67" fill="#ffe7cc"/>
<rect x="333" y="484.83" width="1.02" height="13.67" fill="#ffebd4"/>
<rect x="334" y="484.83" width="1.02" height="13.67" fill="#ffe5c8"/>
<rect x="335" y="484.83" width="2.02" height="13.67" fill="#ffeeda"/>
<rect x="337" y="484.83" width="1.02" height="13.67" fill="#fff3e5"/>
<rect x="338" y="484.83" width="1.02" height="13.67" fill="#ffeedc"/>
<rect x="339" y="484.83" width="1.02" height="13.67" fill="#ffecd7"/>
<rect x="340" y="484.83" width="1.02" height="13.67" fill="#fff0e0"/>
<rect x="341" y="484.83" width="1.02" height="13.67" fill="#fff4e8"/>
<rect x="342" y="484.83" width="1.02" height="13.67" fill="#ffebd5"/>
<rect x="343" y="484.83" width="1.02" height="13.67" fill="#ffead2"/>
<rect x="344" y="484.83" width="1.02" height="13.67" fill="#ffecd6"/>
<rect x="345" y="484.83" width="1.02" height="13.67" fill="#ffe9d1"/>
<rect x="346" y="484.83" width="1.02" height="13.67" fill="#fff4e7"/>
<rect x="347" y="484.83" width="1.02" height="13.67" fill="#ffe7cc"/>
<rect x="348" y="484.83" width="1.02" height="13.67" fill="#ffe9d1"/>
<rect x="349" y="484.83" width="1.02" height="13.67" fill="#fff0df"/>
<rect x="350" y="484.83" width="1.02" height="13.67" fill="#ffe9d0"/>
<rect x="351" y="484.83" width="1.02" height="13.67" fill="#ffefdc"/>
<rect x="352" y="484.83" width="1.02" height="13.67" fill="#fff0df"/>
<rect x="353" y="484.83" width="1.02" height="13.67" fill="#fff3e6"/>
<rect x="354" y="484.83" width="2.02" height="13.67" fill="#fffbf5"/>
<rect x="356" y="484.83" width="1.02" height="13.67" fill="#fe6600"/>
<rect x="357" y="484.83" width="1.02" height="13.67" fill="#ffb96d"/>
<rect x="358" y="484.83" width="1.02" height="13.67" fill="#ff9017"/>
<rect x="359" y="484.83" width="1.02" height="13.67" fill="#ff8d12"/>
<rect x="360" y="484.83" width="1.02" height="13.67" fill="#ff7b00"/>
<rect x="361" y="484.83" width="1.02" height="13.67" fill="#ff931e"/>
<rect x="362" y="484.83" width="1.02" height="13.67" fill="#ff7600"/>
<rect x="363" y="484.83" width="1.02" height="13.67" fill="#ff9018"/>
<rect x="364" y="484.83" width="1.02" height="13.67" fill="#ffb25e"/>
<rect x="365" y="484.83" width="1.02" height="13.67" fill="#ffa13a"/>
<rect x="366" y="484.83" width="1.02" height="13.67" fill="#ff9d32"/>
<rect x="367" y="484.83" width="1.02" height="13.67" fill="#ff9a2d"/>
<rect x="368" y="484.83" width="1.02" height="13.67" fill="#ff7900"/>
<rect x="369" y="484.83" width="1.02" height="13.67" fill="#ffa33f"/>
<rect x="370" y="484.83" width="1.02" height="13.67" fill="#ff7f00"/>
<rect x="371" y="484.83" width="1.02" height="13.67" fill="#ff9f37"/>
<rect x="372" y="484.83" width="1.02" height="13.67" fill="#ff9727"/>
<rect x="373" y="484.83" width="1.02" height="13.67" fill="#ff9e36"/>
<rect x="374" y="484.83" width="1.02" height="13.67" fill="#ffae55"/>
<rect x="375" y="484.83" width="1.02" height="13.67" fill="#ff9522"/>
<rect x="376" y="484.83" width="1.02" height="13.67" fill="#ffc383"/>
<rect x="377" y="484.83" width="1.02" height="13.67" fill="#ffb15d"/>
<rect x="378" y="484.83" width="1.02" height="13.67" fill="#ff9d32"/>
<rect x="379" y="484.83" width="1.02" height="13.67" fill="#f55b00"/>
<rect x="380" y="484.83" width="1.02" height="13.67" fill="#ffd3a2"/>
<rect x="381" y="484.83" width="1.02" height="13.67" fill="#fd6500"/>
<rect x="382" y="484.83" width="1.02" height="13.67" fill="#ffa543"/>
<rect x="383" y="484.83" width="1.02" height="13.67" fill="#ff931e"/>
<rect x="384" y="484.83" width="1.02" height="13.67" fill="#ffa23c"/>
<rect x="385" y="484.83" width="1.02" height="13.67" fill="#ff7100"/>
<rect x="386" y="484.83" width="1.02" height="13.67" fill="#ffae57"/>
<rect x="387" y="484.83" width="1.02" height="13.67" fill="#ffb769"/>
<rect x="388" y="484.83" width="1.02" height="13.67" fill="#ff7f00"/>
<rect x="389" y="484.83" width="1.02" height="13.67" fill="#ed5000"/>
<rect x="390" y="484.83" width="1.02" height="13.67" fill="#ffa13c"/>
<rect x="391" y="484.83" width="1.02" height="13.67" fill="#e44400"/>
<rect x="392" y="484.83" width="1.02" height="13.67" fill="#ff8100"/>
<rect x="393" y="484.83" width="1.02" height="13.67" fill="#ff7f00"/>
<rect x="394" y="484.83" width="1.02" height="13.67" fill="#ff6e00"/>
<rect x="395" y="484.83" width="1.02" height="13.67" fill="#ff8602"/>
<rect x="396" y="484.83" width="1.02" height="13.67" fill="#ec4f00"/>
<rect x="397" y="484.83" width="1.02" height="13.67" fill="#ff6b00"/>
<rect x="398" y="484.83" width="1.02" height="13.67" fill="#ff8c10"/>
<rect x="399" y="484.83" width="1.02" height="13.67" fill="#ff8200"/>
<rect x="400" y="484.83" width="1.02" height="13.67" fill="#fc6400"/>
<rect x="401" y="484.83" width="1.02" height="13.67" fill="#ff9829"/>
<rect x="402" y="484.83" width="1.02" height="13.67" fill="#ff8f17"/>
<rect x="403" y="484.83" width="1.02" height="13.67" fill="#fb6200"/>
<rect x="404" y="484.83" width="1.02" height="13.67" fill="#ffc27f"/>
<rect x="405" y="484.83" width="1.02" height="13.67" fill="#ffd9b0"/>
<rect x="406" y="484.83" width="1.02" height="13.67" fill="#ff7700"/>
<rect x="407" y="484.83" width="1.02" height="13.67" fill="#f05400"/>
<rect x="408" y="484.83" width="1.02" height="13.67" fill="#ff7500"/>
<rect x="409" y="484.83" width="1.02" height="13.67" fill="#fd6500"/>
<rect x="410" y="484.83" width="1.02" height="13.67" fill="#ff6e00"/>
<rect x="411" y="484.83" width="1.02" height="13.67" fill="#ff6f00"/>
<rect x="412" y="484.83" width="1.02" height="13.67" fill="#ffb25e"/>
<rect x="413" y="484.83" width="2.02" height="13.67" fill="#ff8000"/>
<rect x="415" y="484.83" width="1.02" height="13.67" fill="#fd6500"/>
<rect x="416" y="484.83" width="1.02" height="13.67" fill="#ff6800"/>
<rect x="417" y="484.83" width="1.02" height="13.67" fill="#ff6a00"/>
<rect x="418" y="484.83" width="1.02" height="13.67" fill="#f85f00"/>
<rect x="419" y="484.83" width="1.02" height="13.67" fill="#ff7300"/>
<rect x="420" y="484.83" width="1.02" height="13.67" fill="#ffc586"/>
<rect x="421" y="484.83" width="1.02" height="13.67" fill="#fff4e7"/>
<rect x="422" y="484.83" width="1.02" height="13.67" fill="#ffd5a8"/>
<rect x="423" y="484.83" width="1.02" height="13.67" fill="#ffd19f"/>
<rect x="424" y="484.83" width="1.02" height="13.67" fill="#ffcb91"/>
<rect x="425" y="484.83" width="1.02" height="13.67" fill="#ffca90"/>
<rect x="426" y="484.83" width="1.02" height="13.67" fill="#ffc688"/>
<rect x="427" y="484.83" width="1.02" height="13.67" fill="#ff9a2d"/>
<rect x="428" y="484.83" width="1.02" height="13.67" fill="#ffcb91"/>
<rect x="429" y="484.83" width="1.02" height="13.67" fill="#fff0e0"/>
<rect x="430" y="484.83" width="1.02" height="13.67" fill="#ff8d11"/>
<rect x="431" y="484.83" width="1.02" height="13.67" fill="#ff8806"/>
<rect x="432" y="484.83" width="1.02" height="13.67" fill="#ff7e00"/>
<rect x="433" y="484.83" width="1.02" height="13.67" fill="#ffa646"/>
<rect x="434" y="484.83" width="1.02" height="13.67" fill="#ff9119"/>
<rect x="435" y="484.83" width="1.02" height="13.67" fill="#ffa84a"/>
<rect x="436" y="484.83" width="1.02" height="13.67" fill="#ff9a2d"/>
<rect x="437" y="484.83" width="1.02" height="13.67" fill="#ff8d11"/>
<rect x="438" y="484.83" width="1.02" height="13.67" fill="#ff8c10"/>
<rect x="439" y="484.83" width="1.02" height="13.67" fill="#ff890a"/>
<rect x="440" y="484.83" width="1.02" height="13.67" fill="#ff9521"/>
<rect x="441" y="484.83" width="1.02" height="13.67" fill="#ffa747"/>
<rect x="442" y="484.83" width="1.02" height="13.67" fill="#f75e00"/>
<rect x="443" y="484.83" width="1.02" height="13.67" fill="#ff8000"/>
<rect x="444" y="484.83" width="1.02" height="13.67" fill="#ff7f00"/>
<rect x="445" y="484.83" width="1.02" height="13.67" fill="#ff9727"/>
<rect x="446" y="484.83" width="1.02" height="13.67" fill="#ff9f36"/>
<rect x="447" y="484.83" width="1.02" height="13.67" fill="#ff8501"/>
<rect x="448" y="484.83" width="1.02" height="13.67" fill="#ffcc93"/>
<rect x="449" y="484.83" width="1.02" height="13.67" fill="#fe6700"/>
<rect x="450" y="484.83" width="1.02" height="13.67" fill="#ff9b2f"/>
<rect x="451" y="484.83" width="1.02" height="13.67" fill="#ff9523"/>
<rect x="452" y="484.83" width="1.02" height="13.67" fill="#ffa645"/>
<rect x="453" y="484.83" width="1.02" height="13.67" fill="#ff921c"/>
<rect x="454" y="484.83" width="1.02" height="13.67" fill="#fe6600"/>
<rect x="455" y="484.83" width="1.02" height="13.67" fill="#ff8200"/>
<rect x="456" y="484.83" width="1.02" height="13.67" fill="#fd6500"/>
<rect x="457" y="484.83" width="1.02" height="13.67" fill="#ff8500"/>
<rect x="458" y="484.83" width="1.02" height="13.67" fill="#ee5100"/>
<rect x="459" y="484.83" width="1.02" height="13.67" fill="#ff8a0b"/>
<rect x="460" y="484.83" width="1.02" height="13.67" fill="#ff7400"/>
<rect x="461" y="484.83" width="1.02" height="13.67" fill="#ff7600"/>
<rect x="462" y="484.83" width="1.02" height="13.67" fill="#ff7b00"/>
<rect x="463" y="484.83" width="1.02" height="13.67" fill="#ff7e00"/>
<rect x="464" y="484.83" width="1.02" height="13.67" fill="#ff7a00"/>
<rect x="465" y="484.83" width="1.02" height="13.67" fill="#ff8604"/>
<rect x="466" y="484.83" width="1.02" height="13.67" fill="#ff890a"/>
<rect x="467" y="484.83" width="1.02" height="13.67" fill="#ffa542"/>
<rect x="468" y="484.83" width="1.02" height="13.67" fill="#f65c00"/>
<rect x="469" y="484.83" width="1.02" height="13.67" fill="#ff7a00"/>
<rect x="470" y="484.83" width="1.02" height="13.67" fill="#ff9522"/>
<rect x="471" y="484.83" width="1.02" height="13.67" fill="#ff8b0d"/>
<rect x="472" y="484.83" width="1.02" height="13.67" fill="#fc6400"/>
<rect x="473" y="484.83" width="1.02" height="13.67" fill="#ff7e00"/>
<rect x="474" y="484.83" width="1.02" height="13.67" fill="#ffb566"/>
<rect x="475" y="484.83" width="1.02" height="13.67" fill="#ffc78a"/>
<rect x="476" y="484.83" width="1.02" height="13.67" fill="#ff8706"/>
<rect x="477" y="484.83" width="1.02" height="13.67" fill="#ffb768"/>
<rect x="478" y="484.83" width="1.02" height="13.67" fill="#ffc688"/>
<rect x="479" y="484.83" width="1.02" height="13.67" fill="#ffaf59"/>
<rect x="480" y="484.83" width="1.02" height="13.67" fill="#ffae55"/>
<rect x="481" y="484.83" width="1.02" height="13.67" fill="#ffdcb5"/>
<rect x="482" y="484.83" width="1.02" height="13.67" fill="#ffa94b"/>
<rect x="483" y="484.83" width="1.02" height="13.67" fill="#ffb059"/>
<rect x="484" y="484.83" width="1.02" height="13.67" fill="#ffdbb3"/>
<rect x="485" y="484.83" width="1.02" height="13.67" fill="#ffc98f"/>
<rect x="486" y="484.83" width="1.02" height="13.67" fill="#ffcd97"/>
<rect x="487" y="484.83" width="1.02" height="13.67" fill="#ffb86b"/>
<rect x="488" y="484.83" width="1.02" height="13.67" fill="#ff9c31"/>
<rect x="489" y="484.83" width="1.02" height="13.67" fill="#ffc485"/>
<rect x="490" y="484.83" width="1.02" height="13.67" fill="#ffd09d"/>
<rect x="491" y="484.83" width="1.02" height="13.67" fill="#ffd09c"/>
<rect x="492" y="484.83" width="1.02" height="13.67" fill="#ffbf79"/>
<rect x="493" y="484.83" width="1.02" height="13.67" fill="#ffb96c"/>
<rect x="494" y="484.83" width="0.52" height="13.67" fill="#ffd6a8"/>
<line x1="370.3" y1="416.5" x2="370.3" y2="498.5" stroke="#fff" stroke-width="1.4" stroke-dasharray="6.5,3.2"/>
<line x1="389.4" y1="416.5" x2="389.4" y2="498.5" stroke="#fff" stroke-width="1.4" stroke-dasharray="6.5,3.2"/>
<line x1="420.5" y1="416.5" x2="420.5" y2="498.5" stroke="#fff" stroke-width="1.4" stroke-dasharray="6.5,3.2"/>
<line x1="442.5" y1="416.5" x2="442.5" y2="498.5" stroke="#fff" stroke-width="1.4" stroke-dasharray="6.5,3.2"/>
<line x1="474.5" y1="416.5" x2="474.5" y2="498.5" stroke="#fff" stroke-width="1.4" stroke-dasharray="6.5,3.2"/>
<text x="0" y="0" font-size="9.4" text-anchor="middle" fill="#1e0600" font-weight="normal" stroke="#1e0600" stroke-width="0.22" transform="translate(380,426.93) scale(1,1.1)">(ii)</text>
<text x="0" y="0" font-size="9.4" text-anchor="middle" fill="#1e0600" font-weight="normal" stroke="#1e0600" stroke-width="0.22" transform="translate(404.8,426.93) scale(1,1.1)">(i)</text>
<text x="0" y="0" font-size="9.4" text-anchor="middle" fill="#1e0600" font-weight="normal" stroke="#1e0600" stroke-width="0.22" transform="translate(431.5,426.93) scale(1,1.1)">(ii)</text>
<text x="0" y="0" font-size="9.4" text-anchor="middle" fill="#1e0600" font-weight="normal" stroke="#1e0600" stroke-width="0.22" transform="translate(458.4,426.93) scale(1,1.1)">(i)</text>
<text x="0" y="0" font-size="9.4" text-anchor="middle" fill="#1e0600" font-weight="normal" stroke="#1e0600" stroke-width="0.22" transform="translate(484.5,426.93) scale(1,1.1)">(iii)</text>
<line x1="363" y1="472.9" x2="377.3" y2="451.5" stroke="#fff" stroke-width="2" marker-end="url(#ah)"/>
<line x1="385.5" y1="454.7" x2="400.3" y2="477.3" stroke="#fff" stroke-width="2" marker-end="url(#ah)"/>
<line x1="411.1" y1="475.4" x2="426" y2="453.5" stroke="#fff" stroke-width="2" marker-end="url(#ah)"/>
<line x1="437.7" y1="454.7" x2="452.4" y2="477.3" stroke="#fff" stroke-width="2" marker-end="url(#ah)"/>
<line x1="462.7" y1="477.2" x2="482.3" y2="437.5" stroke="#fff" stroke-width="2" marker-end="url(#ah)"/>
<text x="0" y="0" font-size="9.4" text-anchor="start" fill="#1a0a00" font-weight="normal" stroke="#1a0a00" stroke-width="0.22" transform="translate(329.3,495.27) scale(1,1.1)">Strike-point</text>
<rect x="323.5" y="416.5" width="171" height="82" fill="none" stroke="#000" stroke-width="0.9" stroke-dasharray="2,1"/>
<line x1="323.5" y1="416.5" x2="323.5" y2="498.5" stroke="#000" stroke-width="0.9"/>
<text x="0" y="0" font-size="9.6" text-anchor="end" fill="#000" font-weight="normal" stroke="#000" stroke-width="0.22" transform="translate(321.3,427.23) scale(1,1.16)">6</text>
<text x="0" y="0" font-size="9.6" text-anchor="end" fill="#000" font-weight="normal" stroke="#000" stroke-width="0.22" transform="translate(321.3,440.9) scale(1,1.16)">5</text>
<text x="0" y="0" font-size="9.6" text-anchor="end" fill="#000" font-weight="normal" stroke="#000" stroke-width="0.22" transform="translate(321.3,454.57) scale(1,1.16)">4</text>
<text x="0" y="0" font-size="9.6" text-anchor="end" fill="#000" font-weight="normal" stroke="#000" stroke-width="0.22" transform="translate(321.3,468.23) scale(1,1.16)">3</text>
<text x="0" y="0" font-size="9.6" text-anchor="end" fill="#000" font-weight="normal" stroke="#000" stroke-width="0.22" transform="translate(321.3,481.9) scale(1,1.16)">2</text>
<text x="0" y="0" font-size="9.6" text-anchor="end" fill="#000" font-weight="normal" stroke="#000" stroke-width="0.22" transform="translate(321.3,495.57) scale(1,1.16)">1</text>
<text x="0" y="0" font-size="9.6" text-anchor="middle" fill="#000" font-weight="normal" stroke="#000" stroke-width="0.22" transform="translate(323.5,511.4) scale(1,1.16)">2</text>
<text x="0" y="0" font-size="9.6" text-anchor="middle" fill="#000" font-weight="normal" stroke="#000" stroke-width="0.22" transform="translate(352,511.4) scale(1,1.16)">3</text>
<text x="0" y="0" font-size="9.6" text-anchor="middle" fill="#000" font-weight="normal" stroke="#000" stroke-width="0.22" transform="translate(380.5,511.4) scale(1,1.16)">4</text>
<text x="0" y="0" font-size="9.6" text-anchor="middle" fill="#000" font-weight="normal" stroke="#000" stroke-width="0.22" transform="translate(409,511.4) scale(1,1.16)">5</text>
<text x="0" y="0" font-size="9.6" text-anchor="middle" fill="#000" font-weight="normal" stroke="#000" stroke-width="0.22" transform="translate(437.5,511.4) scale(1,1.16)">6</text>
<text x="0" y="0" font-size="9.6" text-anchor="middle" fill="#000" font-weight="normal" stroke="#000" stroke-width="0.22" transform="translate(466,511.4) scale(1,1.16)">7</text>
<text x="0" y="0" font-size="9.6" text-anchor="middle" fill="#000" font-weight="normal" stroke="#000" stroke-width="0.22" transform="translate(494.5,511.4) scale(1,1.16)">8</text>
<path d="M323.5,423.33h3M494.5,423.33h-3M323.5,437h3M494.5,437h-3M323.5,450.67h3M494.5,450.67h-3M323.5,464.33h3M494.5,464.33h-3M323.5,478h3M494.5,478h-3M323.5,491.67h3M494.5,491.67h-3M323.5,498.5v-2.5M352,498.5v-2.5M380.5,498.5v-2.5M409,498.5v-2.5M437.5,498.5v-2.5M466,498.5v-2.5M494.5,498.5v-2.5" stroke="#000" stroke-width="0.9" fill="none"/>
<text x="0" y="0" font-size="9.6" text-anchor="middle" fill="#000" font-weight="normal" stroke="#000" stroke-width="0.22" transform="translate(409.6,521.5) scale(1,1.2)">Time [s]</text>
<text x="0" y="0" font-size="9.6" text-anchor="middle" fill="#000" font-weight="normal" stroke="#000" stroke-width="0.22" transform="translate(308.6,457.5) rotate(-90)">Sightline</text>
<rect x="498.2" y="416.5" width="7.6" height="82" fill="url(#cbar)" stroke="#000" stroke-width="0.8"/>
<text x="0" y="0" font-size="9.6" text-anchor="start" fill="#000" font-weight="normal" stroke="#000" stroke-width="0.22" transform="translate(508.6,423.1) scale(1,1.16)">7</text>
<text x="0" y="0" font-size="9.6" text-anchor="start" fill="#000" font-weight="normal" stroke="#000" stroke-width="0.22" transform="translate(508.6,436.8) scale(1,1.16)">5</text>
<text x="0" y="0" font-size="9.6" text-anchor="start" fill="#000" font-weight="normal" stroke="#000" stroke-width="0.22" transform="translate(508.6,453) scale(1,1.16)">4</text>
<text x="0" y="0" font-size="9.6" text-anchor="start" fill="#000" font-weight="normal" stroke="#000" stroke-width="0.22" transform="translate(508.6,469.2) scale(1,1.16)">3</text>
<text x="0" y="0" font-size="9.6" text-anchor="start" fill="#000" font-weight="normal" stroke="#000" stroke-width="0.22" transform="translate(508.6,484.9) scale(1,1.16)">1</text>
<text x="0" y="0" font-size="9.6" text-anchor="start" fill="#000" font-weight="normal" stroke="#000" stroke-width="0.22" transform="translate(508.6,498.8) scale(1,1.16)">0</text>
<text x="0" y="0" font-size="9.2" text-anchor="middle" fill="#000" font-weight="normal" stroke="#000" stroke-width="0.22" transform="translate(527.8,458) rotate(-90)">10<tspan font-size="6.3" dy="-3.5">18</tspan><tspan dy="3.5"> ph/s/m</tspan><tspan font-size="6.3" dy="-3.5">2</tspan><tspan dy="3.5">/sr</tspan></text>
</svg>
</body></html>
